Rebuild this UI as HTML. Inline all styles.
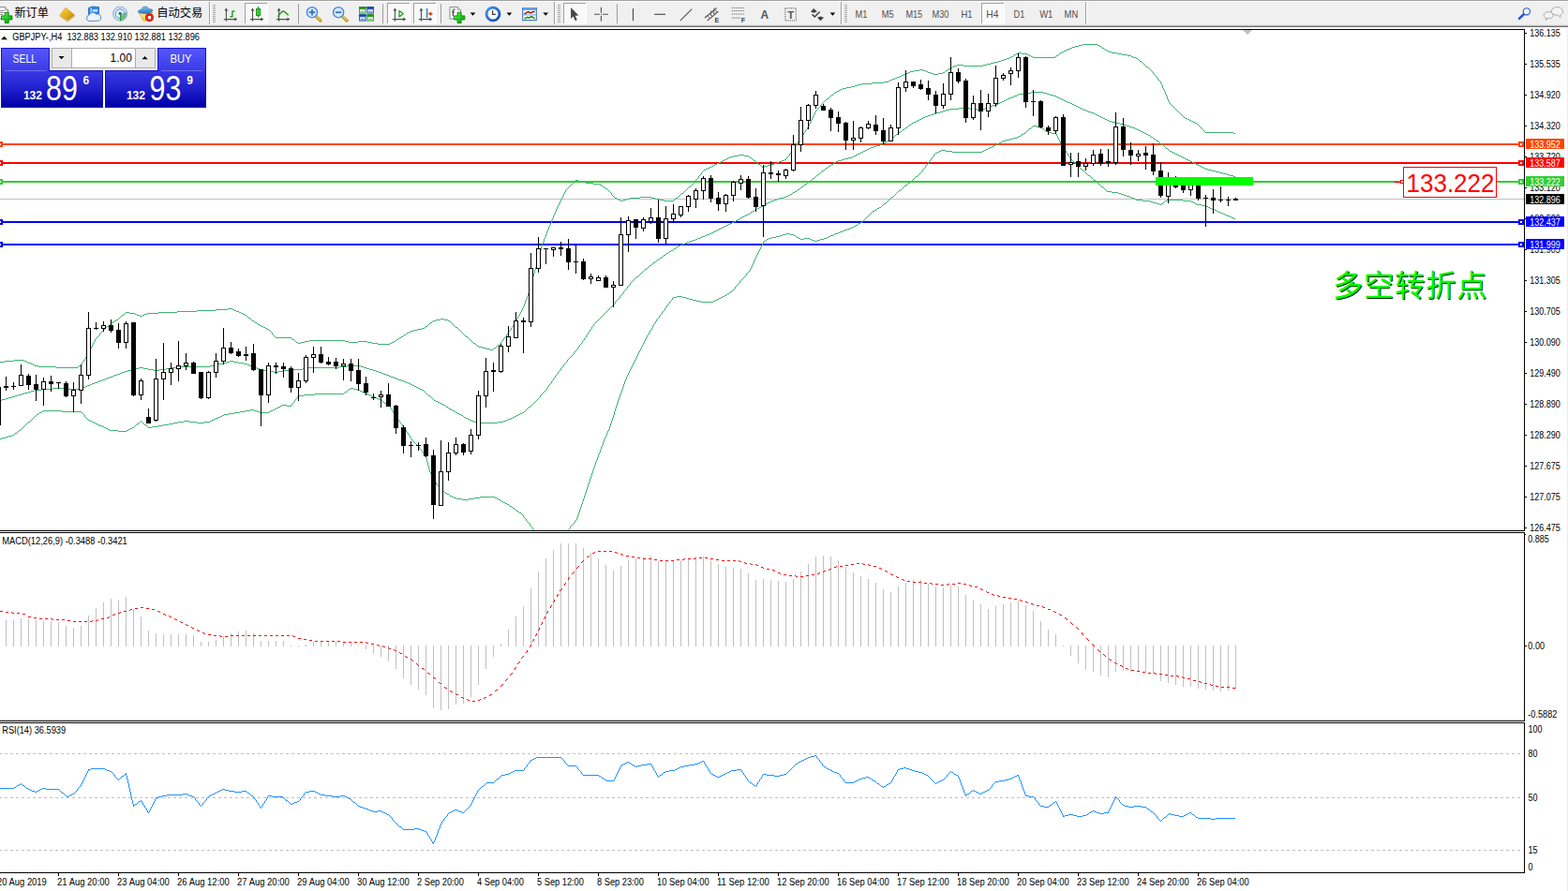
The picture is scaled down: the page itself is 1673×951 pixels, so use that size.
<!DOCTYPE html>
<html><head><meta charset="utf-8"><title>GBPJPY H4</title>
<style>
html,body{margin:0;padding:0;background:#fff;}
body{width:1673px;height:951px;overflow:hidden;position:relative;font-family:"Liberation Sans", sans-serif;}
svg{position:absolute;left:0;top:0;display:block;}
svg text{font-family:"Liberation Sans", sans-serif;white-space:pre;}
</style></head><body>
<svg width="1673" height="951" viewBox="0 0 1673 951">
<defs>
<linearGradient id="gSellTop" x1="0" y1="0" x2="0" y2="1"><stop offset="0" stop-color="#5656fb"/><stop offset="1" stop-color="#3a3ae6"/></linearGradient>
<linearGradient id="gSellBot" x1="0" y1="0" x2="0" y2="1"><stop offset="0" stop-color="#3838e4"/><stop offset="0.5" stop-color="#2020cc"/><stop offset="1" stop-color="#0000a8"/></linearGradient>
<linearGradient id="gGold" x1="0" y1="0" x2="1" y2="1"><stop offset="0" stop-color="#f8d848"/><stop offset="0.6" stop-color="#e0a818"/><stop offset="1" stop-color="#a87408"/></linearGradient>
<radialGradient id="gClock" cx="0.5" cy="0.4" r="0.6"><stop offset="0" stop-color="#ffffff"/><stop offset="1" stop-color="#dfe8f4"/></radialGradient>
<linearGradient id="gHat" x1="0" y1="0" x2="0" y2="1"><stop offset="0" stop-color="#7cc4f0"/><stop offset="1" stop-color="#2a78c0"/></linearGradient>
<linearGradient id="gFace" x1="0" y1="0" x2="1" y2="1"><stop offset="0" stop-color="#fff2a0"/><stop offset="1" stop-color="#e8b020"/></linearGradient>
<linearGradient id="gRing" x1="0" y1="0" x2="1" y2="1"><stop offset="0" stop-color="#4a98f0"/><stop offset="0.5" stop-color="#1f6ad8"/><stop offset="1" stop-color="#0a48a8"/></linearGradient>
<linearGradient id="gPlus" x1="0" y1="0" x2="1" y2="1"><stop offset="0" stop-color="#7cf07c"/><stop offset="0.5" stop-color="#22cc22"/><stop offset="1" stop-color="#0c9a0c"/></linearGradient>
</defs>
<rect x="0" y="0" width="1673" height="951" fill="#fff"/>

<g shape-rendering="crispEdges">
<rect x="1672" y="29" width="1" height="922" fill="#ececec" />
<rect x="0" y="212" width="1626" height="1" fill="#c0c0c0" />
<rect x="0" y="153" width="1626" height="2" fill="#ff4500" />
<rect x="0" y="173" width="1626" height="2" fill="#ff0000" />
<rect x="0" y="193" width="1626" height="2" fill="#32cd32" />
<rect x="0" y="236" width="1626" height="2" fill="#0000ff" />
<rect x="0" y="260" width="1626" height="2" fill="#0000ff" />
</g>
<clipPath id="cpMain"><rect x="0" y="32" width="1626" height="534"/></clipPath><g clip-path="url(#cpMain)">
<path d="M1155,47h16v1h-16zM1151,48h4v1h-4zM1171,48h2v1h-2zM1147,49h4v1h-4zM1173,49h2v1h-2zM1144,50h3v1h-3zM1175,50h1v1h-1zM1142,51h2v1h-2zM1176,51h2v1h-2zM1139,52h3v1h-3zM1178,52h1v1h-1zM1137,53h2v1h-2zM1179,53h2v1h-2zM1135,54h2v1h-2zM1181,54h2v1h-2zM1133,55h2v1h-2zM1183,55h3v1h-3zM1086,56h4v1h-4zM1131,56h2v1h-2zM1186,56h6v1h-6zM1084,57h2v1h-2zM1090,57h6v1h-6zM1130,57h1v1h-1zM1192,57h5v1h-5zM1082,58h2v1h-2zM1096,58h2v1h-2zM1129,58h1v1h-1zM1197,58h6v1h-6zM1081,59h1v1h-1zM1098,59h2v1h-2zM1127,59h2v1h-2zM1203,59h4v1h-4zM1079,60h2v1h-2zM1100,60h2v1h-2zM1126,60h1v1h-1zM1207,60h2v1h-2zM1077,61h2v1h-2zM1102,61h24v1h-24zM1209,61h3v1h-3zM1074,62h3v1h-3zM1212,62h2v1h-2zM1071,63h3v1h-3zM1214,63h1v1h-1zM1068,64h3v1h-3zM1215,64h1v1h-1zM1065,65h3v1h-3zM1216,65h2v1h-2zM1061,66h4v1h-4zM1218,66h1v1h-1zM1057,67h4v1h-4zM1219,67h1v1h-1zM1053,68h4v1h-4zM1220,68h1v1h-1zM1021,69h7v1h-7zM1049,69h4v1h-4zM1221,69h1v1h-1zM1018,70h3v1h-3zM1028,70h21v1h-21zM1222,70h1v1h-1zM1016,71h2v1h-2zM1223,71h2v1h-2zM1014,72h2v1h-2zM1225,72h1v1h-1zM1012,73h2v1h-2zM1226,73h1v1h-1zM981,74h4v1h-4zM1011,74h1v1h-1zM1227,74h1v1h-1zM975,75h6v1h-6zM985,75h3v1h-3zM1009,75h2v1h-2zM1228,75h1v1h-1zM971,76h4v1h-4zM988,76h2v1h-2zM1008,76h1v1h-1zM1229,76h1v1h-1zM969,77h2v1h-2zM990,77h3v1h-3zM1006,77h2v1h-2zM1230,77h1v1h-1zM967,78h2v1h-2zM993,78h3v1h-3zM1001,78h5v1h-5zM1230,78h1v1h-1zM964,79h3v1h-3zM996,79h5v1h-5zM1231,79h1v1h-1zM962,80h2v1h-2zM1232,80h1v1h-1zM960,81h2v1h-2zM1233,81h1v1h-1zM957,82h3v1h-3zM1234,82h1v1h-1zM955,83h2v1h-2zM1235,83h1v1h-1zM952,84h3v1h-3zM1235,84h1v1h-1zM950,85h2v1h-2zM1236,85h1v1h-1zM948,86h2v1h-2zM1237,86h1v1h-1zM943,87h5v1h-5zM1238,87h1v1h-1zM930,88h13v1h-13zM1238,88h1v1h-1zM919,89h11v1h-11zM1239,89h1v1h-1zM915,90h4v1h-4zM1239,90h1v1h-1zM912,91h3v1h-3zM1240,91h1v1h-1zM908,92h4v1h-4zM1240,92h1v1h-1zM903,93h5v1h-5zM1240,93h1v1h-1zM899,94h4v1h-4zM1241,94h1v1h-1zM897,95h2v1h-2zM1241,95h1v1h-1zM895,96h2v1h-2zM1242,96h1v1h-1zM893,97h2v1h-2zM1242,97h1v1h-1zM891,98h2v1h-2zM1243,98h1v1h-1zM890,99h1v1h-1zM1243,99h1v1h-1zM889,100h1v1h-1zM1243,100h1v1h-1zM887,101h2v1h-2zM1244,101h1v1h-1zM886,102h1v1h-1zM1244,102h1v1h-1zM885,103h1v1h-1zM1245,103h1v1h-1zM884,104h1v1h-1zM1245,104h1v1h-1zM882,105h2v1h-2zM1245,105h1v1h-1zM881,106h1v1h-1zM1246,106h1v1h-1zM880,107h1v1h-1zM1246,107h1v1h-1zM879,108h1v1h-1zM1247,108h1v1h-1zM878,109h1v1h-1zM1247,109h1v1h-1zM877,110h1v1h-1zM1248,110h1v1h-1zM876,111h1v1h-1zM1249,111h1v1h-1zM875,112h1v1h-1zM1250,112h1v1h-1zM875,113h1v1h-1zM1251,113h1v1h-1zM874,114h1v1h-1zM1252,114h1v1h-1zM873,115h1v1h-1zM1253,115h1v1h-1zM872,116h1v1h-1zM1254,116h1v1h-1zM871,117h1v1h-1zM1255,117h1v1h-1zM870,118h1v1h-1zM1256,118h1v1h-1zM870,119h1v1h-1zM1257,119h1v1h-1zM869,120h1v1h-1zM1258,120h1v1h-1zM869,121h1v1h-1zM1259,121h1v1h-1zM868,122h1v1h-1zM1260,122h1v1h-1zM868,123h1v1h-1zM1261,123h1v1h-1zM867,124h1v1h-1zM1262,124h1v1h-1zM867,125h1v1h-1zM1263,125h2v1h-2zM866,126h1v1h-1zM1265,126h2v1h-2zM866,127h1v1h-1zM1267,127h2v1h-2zM865,128h1v1h-1zM1269,128h2v1h-2zM865,129h1v1h-1zM1271,129h2v1h-2zM864,130h1v1h-1zM1273,130h2v1h-2zM864,131h1v1h-1zM1275,131h2v1h-2zM863,132h1v1h-1zM1277,132h1v1h-1zM863,133h1v1h-1zM1278,133h1v1h-1zM862,134h1v1h-1zM1279,134h1v1h-1zM862,135h1v1h-1zM1280,135h1v1h-1zM861,136h1v1h-1zM1281,136h1v1h-1zM861,137h1v1h-1zM1282,137h1v1h-1zM860,138h1v1h-1zM1283,138h1v1h-1zM859,139h1v1h-1zM1284,139h1v1h-1zM859,140h1v1h-1zM1285,140h1v1h-1zM858,141h1v1h-1zM1286,141h30v1h-30zM857,142h1v1h-1zM1316,142h2v1h-2zM857,143h1v1h-1zM856,144h1v1h-1zM855,145h1v1h-1zM855,146h1v1h-1zM854,147h1v1h-1zM853,148h1v1h-1zM853,149h1v1h-1zM852,150h1v1h-1zM851,151h1v1h-1zM851,152h1v1h-1zM850,153h1v1h-1zM849,154h1v1h-1zM849,155h1v1h-1zM848,156h1v1h-1zM847,157h1v1h-1zM847,158h1v1h-1zM846,159h1v1h-1zM845,160h1v1h-1zM845,161h1v1h-1zM844,162h1v1h-1zM843,163h1v1h-1zM842,164h1v1h-1zM788,165h6v1h-6zM842,165h1v1h-1zM783,166h5v1h-5zM794,166h5v1h-5zM841,166h1v1h-1zM779,167h4v1h-4zM799,167h1v1h-1zM840,167h1v1h-1zM777,168h2v1h-2zM800,168h2v1h-2zM839,168h1v1h-1zM775,169h2v1h-2zM802,169h1v1h-1zM839,169h1v1h-1zM773,170h2v1h-2zM803,170h1v1h-1zM837,170h2v1h-2zM771,171h2v1h-2zM804,171h2v1h-2zM834,171h3v1h-3zM769,172h2v1h-2zM806,172h1v1h-1zM831,172h3v1h-3zM767,173h2v1h-2zM807,173h1v1h-1zM829,173h2v1h-2zM765,174h2v1h-2zM808,174h1v1h-1zM826,174h3v1h-3zM763,175h2v1h-2zM809,175h2v1h-2zM823,175h3v1h-3zM761,176h2v1h-2zM811,176h1v1h-1zM819,176h4v1h-4zM759,177h2v1h-2zM812,177h1v1h-1zM815,177h4v1h-4zM757,178h2v1h-2zM813,178h2v1h-2zM755,179h2v1h-2zM753,180h2v1h-2zM751,181h2v1h-2zM750,182h1v1h-1zM749,183h1v1h-1zM748,184h1v1h-1zM748,185h1v1h-1zM747,186h1v1h-1zM746,187h1v1h-1zM745,188h1v1h-1zM745,189h1v1h-1zM744,190h1v1h-1zM743,191h1v1h-1zM614,192h3v1h-3zM742,192h1v1h-1zM613,193h1v1h-1zM617,193h4v1h-4zM742,193h1v1h-1zM612,194h1v1h-1zM621,194h4v1h-4zM741,194h1v1h-1zM611,195h1v1h-1zM625,195h8v1h-8zM740,195h1v1h-1zM610,196h1v1h-1zM633,196h7v1h-7zM739,196h1v1h-1zM609,197h1v1h-1zM640,197h2v1h-2zM738,197h1v1h-1zM608,198h1v1h-1zM642,198h1v1h-1zM737,198h1v1h-1zM607,199h1v1h-1zM643,199h2v1h-2zM735,199h2v1h-2zM606,200h1v1h-1zM645,200h1v1h-1zM734,200h1v1h-1zM605,201h1v1h-1zM646,201h2v1h-2zM733,201h1v1h-1zM604,202h1v1h-1zM648,202h1v1h-1zM732,202h1v1h-1zM603,203h1v1h-1zM649,203h1v1h-1zM731,203h1v1h-1zM603,204h1v1h-1zM650,204h1v1h-1zM730,204h1v1h-1zM602,205h1v1h-1zM651,205h1v1h-1zM729,205h1v1h-1zM602,206h1v1h-1zM652,206h1v1h-1zM727,206h2v1h-2zM601,207h1v1h-1zM652,207h1v1h-1zM726,207h1v1h-1zM601,208h1v1h-1zM653,208h1v1h-1zM725,208h1v1h-1zM600,209h1v1h-1zM654,209h1v1h-1zM724,209h1v1h-1zM600,210h1v1h-1zM655,210h1v1h-1zM683,210h12v1h-12zM723,210h1v1h-1zM599,211h1v1h-1zM656,211h2v1h-2zM672,211h11v1h-11zM695,211h4v1h-4zM721,211h2v1h-2zM599,212h1v1h-1zM658,212h2v1h-2zM668,212h4v1h-4zM699,212h5v1h-5zM720,212h1v1h-1zM598,213h1v1h-1zM660,213h2v1h-2zM665,213h3v1h-3zM704,213h4v1h-4zM719,213h1v1h-1zM598,214h1v1h-1zM662,214h3v1h-3zM708,214h11v1h-11zM597,215h1v1h-1zM597,216h1v1h-1zM596,217h1v1h-1zM596,218h1v1h-1zM595,219h1v1h-1zM595,220h1v1h-1zM594,221h1v1h-1zM594,222h1v1h-1zM593,223h1v1h-1zM593,224h1v1h-1zM593,225h1v1h-1zM592,226h1v1h-1zM592,227h1v1h-1zM591,228h1v1h-1zM591,229h1v1h-1zM590,230h1v1h-1zM590,231h1v1h-1zM590,232h1v1h-1zM589,233h1v1h-1zM589,234h1v1h-1zM588,235h1v1h-1zM588,236h1v1h-1zM588,237h1v1h-1zM587,238h1v1h-1zM587,239h1v1h-1zM586,240h1v1h-1zM586,241h1v1h-1zM585,242h1v1h-1zM585,243h1v1h-1zM585,244h1v1h-1zM584,245h1v1h-1zM584,246h1v1h-1zM583,247h1v1h-1zM583,248h1v1h-1zM583,249h1v1h-1zM582,250h1v1h-1zM582,251h1v1h-1zM582,252h1v1h-1zM581,253h1v1h-1zM581,254h1v1h-1zM580,255h1v1h-1zM580,256h1v1h-1zM580,257h1v1h-1zM579,258h1v1h-1zM579,259h1v1h-1zM578,260h1v1h-1zM578,261h1v1h-1zM578,262h1v1h-1zM577,263h1v1h-1zM577,264h1v1h-1zM577,265h1v1h-1zM577,266h1v1h-1zM576,267h1v1h-1zM576,268h1v1h-1zM576,269h1v1h-1zM575,270h1v1h-1zM575,271h1v1h-1zM575,272h1v1h-1zM575,273h1v1h-1zM574,274h1v1h-1zM574,275h1v1h-1zM574,276h1v1h-1zM574,277h1v1h-1zM573,278h1v1h-1zM573,279h1v1h-1zM573,280h1v1h-1zM572,281h1v1h-1zM572,282h1v1h-1zM572,283h1v1h-1zM572,284h1v1h-1zM571,285h1v1h-1zM571,286h1v1h-1zM571,287h1v1h-1zM570,288h1v1h-1zM570,289h1v1h-1zM570,290h1v1h-1zM570,291h1v1h-1zM569,292h1v1h-1zM569,293h1v1h-1zM569,294h1v1h-1zM568,295h1v1h-1zM568,296h1v1h-1zM568,297h1v1h-1zM568,298h1v1h-1zM567,299h1v1h-1zM567,300h1v1h-1zM567,301h1v1h-1zM566,302h1v1h-1zM566,303h1v1h-1zM566,304h1v1h-1zM566,305h1v1h-1zM565,306h1v1h-1zM565,307h1v1h-1zM565,308h1v1h-1zM564,309h1v1h-1zM564,310h1v1h-1zM564,311h1v1h-1zM564,312h1v1h-1zM563,313h1v1h-1zM563,314h1v1h-1zM563,315h1v1h-1zM562,316h1v1h-1zM562,317h1v1h-1zM562,318h1v1h-1zM561,319h1v1h-1zM561,320h1v1h-1zM560,321h1v1h-1zM560,322h1v1h-1zM560,323h1v1h-1zM559,324h1v1h-1zM559,325h1v1h-1zM559,326h1v1h-1zM558,327h1v1h-1zM558,328h1v1h-1zM243,329h5v1h-5zM557,329h1v1h-1zM230,330h13v1h-13zM248,330h2v1h-2zM557,330h1v1h-1zM210,331h20v1h-20zM250,331h2v1h-2zM556,331h1v1h-1zM189,332h21v1h-21zM252,332h3v1h-3zM556,332h1v1h-1zM134,333h4v1h-4zM169,333h20v1h-20zM255,333h2v1h-2zM555,333h1v1h-1zM133,334h1v1h-1zM138,334h6v1h-6zM157,334h12v1h-12zM257,334h2v1h-2zM555,334h1v1h-1zM132,335h1v1h-1zM144,335h2v1h-2zM154,335h3v1h-3zM259,335h2v1h-2zM554,335h1v1h-1zM130,336h2v1h-2zM146,336h3v1h-3zM152,336h2v1h-2zM261,336h2v1h-2zM554,336h1v1h-1zM129,337h1v1h-1zM149,337h3v1h-3zM263,337h1v1h-1zM553,337h1v1h-1zM128,338h1v1h-1zM264,338h1v1h-1zM552,338h1v1h-1zM127,339h1v1h-1zM265,339h2v1h-2zM552,339h1v1h-1zM126,340h1v1h-1zM267,340h1v1h-1zM470,340h4v1h-4zM551,340h1v1h-1zM124,341h2v1h-2zM268,341h1v1h-1zM465,341h5v1h-5zM474,341h4v1h-4zM551,341h1v1h-1zM122,342h2v1h-2zM269,342h2v1h-2zM462,342h3v1h-3zM478,342h2v1h-2zM550,342h1v1h-1zM121,343h1v1h-1zM271,343h1v1h-1zM461,343h1v1h-1zM480,343h1v1h-1zM549,343h1v1h-1zM119,344h2v1h-2zM272,344h2v1h-2zM459,344h2v1h-2zM481,344h1v1h-1zM549,344h1v1h-1zM118,345h1v1h-1zM274,345h1v1h-1zM458,345h1v1h-1zM482,345h1v1h-1zM548,345h1v1h-1zM117,346h1v1h-1zM275,346h2v1h-2zM457,346h1v1h-1zM483,346h1v1h-1zM548,346h1v1h-1zM116,347h1v1h-1zM277,347h2v1h-2zM456,347h1v1h-1zM484,347h1v1h-1zM547,347h1v1h-1zM114,348h2v1h-2zM279,348h2v1h-2zM454,348h2v1h-2zM485,348h1v1h-1zM547,348h1v1h-1zM113,349h1v1h-1zM281,349h2v1h-2zM453,349h1v1h-1zM486,349h2v1h-2zM546,349h1v1h-1zM112,350h1v1h-1zM283,350h2v1h-2zM450,350h3v1h-3zM488,350h1v1h-1zM545,350h1v1h-1zM111,351h1v1h-1zM285,351h2v1h-2zM445,351h5v1h-5zM489,351h1v1h-1zM545,351h1v1h-1zM110,352h1v1h-1zM287,352h1v1h-1zM441,352h4v1h-4zM490,352h1v1h-1zM544,352h1v1h-1zM109,353h1v1h-1zM288,353h1v1h-1zM438,353h3v1h-3zM491,353h1v1h-1zM543,353h1v1h-1zM108,354h1v1h-1zM289,354h1v1h-1zM436,354h2v1h-2zM492,354h1v1h-1zM542,354h1v1h-1zM107,355h1v1h-1zM290,355h1v1h-1zM434,355h2v1h-2zM493,355h1v1h-1zM542,355h1v1h-1zM106,356h1v1h-1zM290,356h1v1h-1zM433,356h1v1h-1zM494,356h1v1h-1zM541,356h1v1h-1zM106,357h1v1h-1zM291,357h1v1h-1zM431,357h2v1h-2zM495,357h1v1h-1zM540,357h1v1h-1zM105,358h1v1h-1zM292,358h1v1h-1zM430,358h1v1h-1zM496,358h1v1h-1zM540,358h1v1h-1zM104,359h1v1h-1zM293,359h1v1h-1zM428,359h2v1h-2zM497,359h2v1h-2zM539,359h1v1h-1zM103,360h1v1h-1zM294,360h17v1h-17zM426,360h2v1h-2zM499,360h1v1h-1zM538,360h1v1h-1zM102,361h1v1h-1zM311,361h1v1h-1zM425,361h1v1h-1zM500,361h1v1h-1zM537,361h1v1h-1zM101,362h1v1h-1zM312,362h2v1h-2zM423,362h2v1h-2zM501,362h1v1h-1zM537,362h1v1h-1zM101,363h1v1h-1zM314,363h1v1h-1zM330,363h38v1h-38zM422,363h1v1h-1zM502,363h1v1h-1zM536,363h1v1h-1zM100,364h1v1h-1zM315,364h1v1h-1zM325,364h5v1h-5zM368,364h4v1h-4zM382,364h10v1h-10zM420,364h2v1h-2zM503,364h1v1h-1zM535,364h1v1h-1zM100,365h1v1h-1zM316,365h2v1h-2zM321,365h4v1h-4zM372,365h10v1h-10zM392,365h5v1h-5zM418,365h2v1h-2zM504,365h1v1h-1zM534,365h1v1h-1zM99,366h1v1h-1zM318,366h3v1h-3zM397,366h6v1h-6zM416,366h2v1h-2zM505,366h2v1h-2zM534,366h1v1h-1zM99,367h1v1h-1zM403,367h13v1h-13zM507,367h1v1h-1zM533,367h1v1h-1zM98,368h1v1h-1zM508,368h1v1h-1zM531,368h2v1h-2zM98,369h1v1h-1zM509,369h2v1h-2zM530,369h1v1h-1zM97,370h1v1h-1zM511,370h4v1h-4zM529,370h1v1h-1zM97,371h1v1h-1zM515,371h4v1h-4zM527,371h2v1h-2zM96,372h1v1h-1zM519,372h4v1h-4zM526,372h1v1h-1zM96,373h1v1h-1zM523,373h3v1h-3zM95,374h1v1h-1zM95,375h1v1h-1zM94,376h1v1h-1zM94,377h1v1h-1zM93,378h1v1h-1zM93,379h1v1h-1zM92,380h1v1h-1zM91,381h1v1h-1zM91,382h1v1h-1zM90,383h1v1h-1zM15,384h11v1h-11zM89,384h1v1h-1zM5,385h10v1h-10zM26,385h2v1h-2zM89,385h1v1h-1zM0,386h5v1h-5zM28,386h2v1h-2zM88,386h1v1h-1zM30,387h3v1h-3zM87,387h1v1h-1zM33,388h2v1h-2zM87,388h1v1h-1zM35,389h2v1h-2zM86,389h1v1h-1zM37,390h4v1h-4zM84,390h2v1h-2zM41,391h19v1h-19zM83,391h1v1h-1zM60,392h23v1h-23z" fill="#3cb371" shape-rendering="crispEdges"/>
<path d="M1100,98h13v1h-13zM1092,99h8v1h-8zM1113,99h4v1h-4zM1087,100h5v1h-5zM1117,100h3v1h-3zM1085,101h2v1h-2zM1120,101h4v1h-4zM1082,102h3v1h-3zM1124,102h3v1h-3zM1080,103h2v1h-2zM1127,103h2v1h-2zM1077,104h3v1h-3zM1129,104h2v1h-2zM1075,105h2v1h-2zM1131,105h2v1h-2zM1073,106h2v1h-2zM1133,106h2v1h-2zM1071,107h2v1h-2zM1135,107h2v1h-2zM1069,108h2v1h-2zM1137,108h2v1h-2zM1067,109h2v1h-2zM1139,109h3v1h-3zM1065,110h2v1h-2zM1142,110h2v1h-2zM1062,111h3v1h-3zM1144,111h2v1h-2zM1059,112h3v1h-3zM1146,112h2v1h-2zM1057,113h2v1h-2zM1148,113h2v1h-2zM1054,114h3v1h-3zM1150,114h2v1h-2zM1023,115h12v1h-12zM1051,115h3v1h-3zM1152,115h2v1h-2zM1013,116h10v1h-10zM1035,116h8v1h-8zM1049,116h2v1h-2zM1154,116h2v1h-2zM1009,117h4v1h-4zM1043,117h6v1h-6zM1156,117h3v1h-3zM1006,118h3v1h-3zM1159,118h2v1h-2zM1003,119h3v1h-3zM1161,119h3v1h-3zM999,120h4v1h-4zM1164,120h3v1h-3zM996,121h3v1h-3zM1167,121h2v1h-2zM993,122h3v1h-3zM1169,122h2v1h-2zM990,123h3v1h-3zM1171,123h2v1h-2zM987,124h3v1h-3zM1173,124h2v1h-2zM985,125h2v1h-2zM1175,125h2v1h-2zM983,126h2v1h-2zM1177,126h2v1h-2zM981,127h2v1h-2zM1179,127h2v1h-2zM979,128h2v1h-2zM1181,128h2v1h-2zM977,129h2v1h-2zM1183,129h3v1h-3zM975,130h2v1h-2zM1186,130h4v1h-4zM973,131h2v1h-2zM1190,131h5v1h-5zM972,132h1v1h-1zM1195,132h4v1h-4zM970,133h2v1h-2zM1199,133h3v1h-3zM969,134h1v1h-1zM1202,134h3v1h-3zM968,135h1v1h-1zM1205,135h3v1h-3zM966,136h2v1h-2zM1208,136h3v1h-3zM965,137h1v1h-1zM1211,137h2v1h-2zM963,138h2v1h-2zM1213,138h2v1h-2zM962,139h1v1h-1zM1215,139h2v1h-2zM961,140h1v1h-1zM1217,140h2v1h-2zM959,141h2v1h-2zM1219,141h2v1h-2zM958,142h1v1h-1zM1221,142h2v1h-2zM956,143h2v1h-2zM1223,143h2v1h-2zM955,144h1v1h-1zM1225,144h2v1h-2zM954,145h1v1h-1zM1227,145h1v1h-1zM952,146h2v1h-2zM1228,146h2v1h-2zM951,147h1v1h-1zM1230,147h1v1h-1zM950,148h1v1h-1zM1231,148h2v1h-2zM948,149h2v1h-2zM1233,149h1v1h-1zM947,150h1v1h-1zM1234,150h2v1h-2zM945,151h2v1h-2zM1236,151h1v1h-1zM943,152h2v1h-2zM1237,152h1v1h-1zM941,153h2v1h-2zM1238,153h2v1h-2zM939,154h2v1h-2zM1240,154h1v1h-1zM935,155h4v1h-4zM1241,155h1v1h-1zM932,156h3v1h-3zM1242,156h1v1h-1zM929,157h3v1h-3zM1243,157h1v1h-1zM927,158h2v1h-2zM1244,158h2v1h-2zM925,159h2v1h-2zM1246,159h1v1h-1zM923,160h2v1h-2zM1247,160h1v1h-1zM921,161h2v1h-2zM1248,161h2v1h-2zM919,162h2v1h-2zM1250,162h2v1h-2zM917,163h2v1h-2zM1252,163h2v1h-2zM915,164h2v1h-2zM1254,164h2v1h-2zM913,165h2v1h-2zM1256,165h2v1h-2zM911,166h2v1h-2zM1258,166h2v1h-2zM909,167h2v1h-2zM1260,167h2v1h-2zM905,168h4v1h-4zM1262,168h2v1h-2zM901,169h4v1h-4zM1264,169h2v1h-2zM898,170h3v1h-3zM1266,170h2v1h-2zM894,171h4v1h-4zM1268,171h2v1h-2zM892,172h2v1h-2zM1270,172h2v1h-2zM890,173h2v1h-2zM1272,173h2v1h-2zM889,174h1v1h-1zM1274,174h2v1h-2zM887,175h2v1h-2zM1276,175h2v1h-2zM886,176h1v1h-1zM1278,176h2v1h-2zM884,177h2v1h-2zM1280,177h2v1h-2zM883,178h1v1h-1zM1282,178h2v1h-2zM881,179h2v1h-2zM1284,179h2v1h-2zM880,180h1v1h-1zM1286,180h3v1h-3zM879,181h1v1h-1zM1289,181h4v1h-4zM877,182h2v1h-2zM1293,182h4v1h-4zM876,183h1v1h-1zM1297,183h4v1h-4zM875,184h1v1h-1zM1301,184h4v1h-4zM874,185h1v1h-1zM1305,185h4v1h-4zM872,186h2v1h-2zM1309,186h3v1h-3zM871,187h1v1h-1zM1312,187h4v1h-4zM870,188h1v1h-1zM1316,188h2v1h-2zM869,189h1v1h-1zM867,190h2v1h-2zM866,191h1v1h-1zM865,192h1v1h-1zM864,193h1v1h-1zM862,194h2v1h-2zM861,195h1v1h-1zM860,196h1v1h-1zM858,197h2v1h-2zM857,198h1v1h-1zM855,199h2v1h-2zM854,200h1v1h-1zM853,201h1v1h-1zM851,202h2v1h-2zM850,203h1v1h-1zM848,204h2v1h-2zM846,205h2v1h-2zM845,206h1v1h-1zM843,207h2v1h-2zM841,208h2v1h-2zM839,209h2v1h-2zM836,210h3v1h-3zM832,211h4v1h-4zM829,212h3v1h-3zM826,213h3v1h-3zM823,214h3v1h-3zM821,215h2v1h-2zM819,216h2v1h-2zM817,217h2v1h-2zM815,218h2v1h-2zM814,219h1v1h-1zM812,220h2v1h-2zM810,221h2v1h-2zM808,222h2v1h-2zM807,223h1v1h-1zM805,224h2v1h-2zM803,225h2v1h-2zM801,226h2v1h-2zM800,227h1v1h-1zM798,228h2v1h-2zM796,229h2v1h-2zM794,230h2v1h-2zM792,231h2v1h-2zM790,232h2v1h-2zM789,233h1v1h-1zM787,234h2v1h-2zM785,235h2v1h-2zM783,236h2v1h-2zM781,237h2v1h-2zM779,238h2v1h-2zM777,239h2v1h-2zM775,240h2v1h-2zM773,241h2v1h-2zM771,242h2v1h-2zM769,243h2v1h-2zM767,244h2v1h-2zM765,245h2v1h-2zM763,246h2v1h-2zM761,247h2v1h-2zM759,248h2v1h-2zM757,249h2v1h-2zM754,250h3v1h-3zM752,251h2v1h-2zM749,252h3v1h-3zM747,253h2v1h-2zM744,254h3v1h-3zM742,255h2v1h-2zM739,256h3v1h-3zM736,257h3v1h-3zM733,258h3v1h-3zM731,259h2v1h-2zM728,260h3v1h-3zM726,261h2v1h-2zM724,262h2v1h-2zM722,263h2v1h-2zM721,264h1v1h-1zM719,265h2v1h-2zM718,266h1v1h-1zM716,267h2v1h-2zM714,268h2v1h-2zM713,269h1v1h-1zM711,270h2v1h-2zM710,271h1v1h-1zM708,272h2v1h-2zM707,273h1v1h-1zM706,274h1v1h-1zM704,275h2v1h-2zM703,276h1v1h-1zM701,277h2v1h-2zM700,278h1v1h-1zM699,279h1v1h-1zM697,280h2v1h-2zM696,281h1v1h-1zM695,282h1v1h-1zM693,283h2v1h-2zM692,284h1v1h-1zM691,285h1v1h-1zM690,286h1v1h-1zM688,287h2v1h-2zM687,288h1v1h-1zM686,289h1v1h-1zM685,290h1v1h-1zM684,291h1v1h-1zM683,292h1v1h-1zM682,293h1v1h-1zM681,294h1v1h-1zM679,295h2v1h-2zM678,296h1v1h-1zM677,297h1v1h-1zM676,298h1v1h-1zM675,299h1v1h-1zM674,300h1v1h-1zM673,301h1v1h-1zM672,302h1v1h-1zM672,303h1v1h-1zM671,304h1v1h-1zM670,305h1v1h-1zM669,306h1v1h-1zM669,307h1v1h-1zM668,308h1v1h-1zM667,309h1v1h-1zM666,310h1v1h-1zM665,311h1v1h-1zM665,312h1v1h-1zM664,313h1v1h-1zM663,314h1v1h-1zM662,315h1v1h-1zM661,316h1v1h-1zM661,317h1v1h-1zM660,318h1v1h-1zM659,319h1v1h-1zM658,320h1v1h-1zM657,321h1v1h-1zM656,322h1v1h-1zM656,323h1v1h-1zM655,324h1v1h-1zM654,325h1v1h-1zM653,326h1v1h-1zM652,327h1v1h-1zM651,328h1v1h-1zM650,329h1v1h-1zM649,330h1v1h-1zM648,331h1v1h-1zM647,332h1v1h-1zM646,333h1v1h-1zM645,334h1v1h-1zM644,335h1v1h-1zM643,336h1v1h-1zM642,337h1v1h-1zM641,338h1v1h-1zM640,339h1v1h-1zM639,340h1v1h-1zM638,341h1v1h-1zM637,342h1v1h-1zM636,343h1v1h-1zM635,344h1v1h-1zM634,345h1v1h-1zM633,346h1v1h-1zM633,347h1v1h-1zM632,348h1v1h-1zM631,349h1v1h-1zM631,350h1v1h-1zM630,351h1v1h-1zM629,352h1v1h-1zM629,353h1v1h-1zM628,354h1v1h-1zM627,355h1v1h-1zM627,356h1v1h-1zM626,357h1v1h-1zM625,358h1v1h-1zM625,359h1v1h-1zM624,360h1v1h-1zM623,361h1v1h-1zM623,362h1v1h-1zM622,363h1v1h-1zM621,364h1v1h-1zM621,365h1v1h-1zM620,366h1v1h-1zM619,367h1v1h-1zM618,368h1v1h-1zM618,369h1v1h-1zM617,370h1v1h-1zM616,371h1v1h-1zM616,372h1v1h-1zM615,373h1v1h-1zM614,374h1v1h-1zM613,375h1v1h-1zM612,376h1v1h-1zM612,377h1v1h-1zM611,378h1v1h-1zM610,379h1v1h-1zM609,380h1v1h-1zM608,381h1v1h-1zM607,382h1v1h-1zM606,383h1v1h-1zM605,384h1v1h-1zM245,385h4v1h-4zM605,385h1v1h-1zM242,386h3v1h-3zM249,386h5v1h-5zM604,386h1v1h-1zM238,387h4v1h-4zM254,387h6v1h-6zM603,387h1v1h-1zM233,388h5v1h-5zM260,388h4v1h-4zM602,388h1v1h-1zM228,389h5v1h-5zM264,389h2v1h-2zM601,389h1v1h-1zM224,390h4v1h-4zM266,390h3v1h-3zM370,390h15v1h-15zM601,390h1v1h-1zM188,391h36v1h-36zM269,391h3v1h-3zM362,391h8v1h-8zM385,391h3v1h-3zM600,391h1v1h-1zM148,392h5v1h-5zM182,392h6v1h-6zM272,392h2v1h-2zM329,392h33v1h-33zM388,392h3v1h-3zM599,392h1v1h-1zM144,393h4v1h-4zM153,393h5v1h-5zM177,393h5v1h-5zM274,393h3v1h-3zM323,393h6v1h-6zM391,393h3v1h-3zM598,393h1v1h-1zM140,394h4v1h-4zM158,394h6v1h-6zM170,394h7v1h-7zM277,394h4v1h-4zM308,394h15v1h-15zM394,394h4v1h-4zM598,394h1v1h-1zM136,395h4v1h-4zM164,395h6v1h-6zM281,395h5v1h-5zM302,395h6v1h-6zM398,395h3v1h-3zM597,395h1v1h-1zM133,396h3v1h-3zM286,396h6v1h-6zM297,396h5v1h-5zM401,396h3v1h-3zM596,396h1v1h-1zM130,397h3v1h-3zM292,397h5v1h-5zM404,397h3v1h-3zM595,397h1v1h-1zM128,398h2v1h-2zM407,398h2v1h-2zM595,398h1v1h-1zM125,399h3v1h-3zM409,399h3v1h-3zM594,399h1v1h-1zM122,400h3v1h-3zM412,400h3v1h-3zM593,400h1v1h-1zM120,401h2v1h-2zM415,401h2v1h-2zM592,401h1v1h-1zM117,402h3v1h-3zM417,402h3v1h-3zM592,402h1v1h-1zM114,403h3v1h-3zM420,403h3v1h-3zM591,403h1v1h-1zM112,404h2v1h-2zM423,404h2v1h-2zM590,404h1v1h-1zM109,405h3v1h-3zM425,405h3v1h-3zM590,405h1v1h-1zM106,406h3v1h-3zM428,406h3v1h-3zM589,406h1v1h-1zM104,407h2v1h-2zM431,407h2v1h-2zM588,407h1v1h-1zM101,408h3v1h-3zM433,408h3v1h-3zM588,408h1v1h-1zM98,409h3v1h-3zM436,409h2v1h-2zM587,409h1v1h-1zM96,410h2v1h-2zM438,410h2v1h-2zM586,410h1v1h-1zM93,411h3v1h-3zM440,411h2v1h-2zM585,411h1v1h-1zM91,412h2v1h-2zM442,412h2v1h-2zM585,412h1v1h-1zM89,413h2v1h-2zM444,413h2v1h-2zM584,413h1v1h-1zM56,414h14v1h-14zM87,414h2v1h-2zM446,414h2v1h-2zM583,414h1v1h-1zM44,415h12v1h-12zM70,415h17v1h-17zM448,415h2v1h-2zM583,415h1v1h-1zM37,416h7v1h-7zM450,416h2v1h-2zM582,416h1v1h-1zM33,417h4v1h-4zM452,417h1v1h-1zM581,417h1v1h-1zM30,418h3v1h-3zM453,418h1v1h-1zM580,418h1v1h-1zM26,419h4v1h-4zM454,419h1v1h-1zM579,419h1v1h-1zM23,420h3v1h-3zM455,420h1v1h-1zM578,420h1v1h-1zM19,421h4v1h-4zM456,421h1v1h-1zM577,421h1v1h-1zM16,422h3v1h-3zM457,422h2v1h-2zM576,422h1v1h-1zM13,423h3v1h-3zM459,423h1v1h-1zM576,423h1v1h-1zM9,424h4v1h-4zM460,424h1v1h-1zM575,424h1v1h-1zM6,425h3v1h-3zM461,425h1v1h-1zM574,425h1v1h-1zM2,426h4v1h-4zM462,426h1v1h-1zM573,426h1v1h-1zM0,427h2v1h-2zM463,427h2v1h-2zM572,427h1v1h-1zM465,428h2v1h-2zM571,428h1v1h-1zM467,429h2v1h-2zM570,429h1v1h-1zM469,430h2v1h-2zM569,430h1v1h-1zM471,431h2v1h-2zM568,431h1v1h-1zM473,432h2v1h-2zM567,432h1v1h-1zM475,433h1v1h-1zM566,433h1v1h-1zM476,434h2v1h-2zM564,434h2v1h-2zM478,435h1v1h-1zM563,435h1v1h-1zM479,436h2v1h-2zM562,436h1v1h-1zM481,437h2v1h-2zM561,437h1v1h-1zM483,438h2v1h-2zM560,438h1v1h-1zM485,439h1v1h-1zM559,439h1v1h-1zM486,440h2v1h-2zM557,440h2v1h-2zM488,441h2v1h-2zM555,441h2v1h-2zM490,442h2v1h-2zM553,442h2v1h-2zM492,443h2v1h-2zM551,443h2v1h-2zM494,444h1v1h-1zM549,444h2v1h-2zM495,445h2v1h-2zM547,445h2v1h-2zM497,446h2v1h-2zM545,446h2v1h-2zM499,447h2v1h-2zM542,447h3v1h-3zM501,448h2v1h-2zM540,448h2v1h-2zM503,449h3v1h-3zM537,449h3v1h-3zM506,450h5v1h-5zM531,450h6v1h-6zM511,451h20v1h-20z" fill="#3cb371" shape-rendering="crispEdges"/>
<path d="M374,414h3v1h-3zM372,415h2v1h-2zM377,415h4v1h-4zM371,416h1v1h-1zM381,416h3v1h-3zM370,417h1v1h-1zM384,417h2v1h-2zM368,418h2v1h-2zM386,418h2v1h-2zM367,419h1v1h-1zM388,419h2v1h-2zM336,420h31v1h-31zM390,420h3v1h-3zM324,421h12v1h-12zM393,421h2v1h-2zM318,422h6v1h-6zM395,422h2v1h-2zM317,423h1v1h-1zM397,423h3v1h-3zM317,424h1v1h-1zM400,424h2v1h-2zM316,425h1v1h-1zM402,425h2v1h-2zM315,426h1v1h-1zM404,426h2v1h-2zM314,427h1v1h-1zM406,427h2v1h-2zM314,428h1v1h-1zM408,428h1v1h-1zM313,429h1v1h-1zM409,429h1v1h-1zM312,430h1v1h-1zM410,430h2v1h-2zM311,431h1v1h-1zM412,431h1v1h-1zM301,432h5v1h-5zM311,432h1v1h-1zM413,432h2v1h-2zM299,433h2v1h-2zM306,433h5v1h-5zM415,433h1v1h-1zM297,434h2v1h-2zM416,434h1v1h-1zM295,435h2v1h-2zM416,435h1v1h-1zM293,436h2v1h-2zM417,436h1v1h-1zM267,437h4v1h-4zM291,437h2v1h-2zM418,437h1v1h-1zM46,438h20v1h-20zM261,438h6v1h-6zM271,438h3v1h-3zM289,438h2v1h-2zM418,438h1v1h-1zM44,439h2v1h-2zM66,439h21v1h-21zM256,439h5v1h-5zM274,439h3v1h-3zM287,439h2v1h-2zM419,439h1v1h-1zM42,440h2v1h-2zM87,440h1v1h-1zM250,440h6v1h-6zM277,440h10v1h-10zM419,440h1v1h-1zM41,441h1v1h-1zM88,441h1v1h-1zM244,441h6v1h-6zM420,441h1v1h-1zM39,442h2v1h-2zM89,442h1v1h-1zM239,442h5v1h-5zM421,442h1v1h-1zM38,443h1v1h-1zM90,443h1v1h-1zM237,443h2v1h-2zM421,443h1v1h-1zM37,444h1v1h-1zM90,444h1v1h-1zM235,444h2v1h-2zM422,444h1v1h-1zM36,445h1v1h-1zM91,445h1v1h-1zM233,445h2v1h-2zM423,445h1v1h-1zM35,446h1v1h-1zM92,446h1v1h-1zM230,446h3v1h-3zM423,446h1v1h-1zM34,447h1v1h-1zM93,447h1v1h-1zM228,447h2v1h-2zM424,447h1v1h-1zM33,448h1v1h-1zM94,448h2v1h-2zM226,448h2v1h-2zM425,448h1v1h-1zM32,449h1v1h-1zM96,449h2v1h-2zM150,449h1v1h-1zM196,449h6v1h-6zM224,449h2v1h-2zM426,449h1v1h-1zM30,450h2v1h-2zM98,450h2v1h-2zM149,450h1v1h-1zM151,450h1v1h-1zM190,450h6v1h-6zM202,450h8v1h-8zM218,450h6v1h-6zM426,450h1v1h-1zM29,451h1v1h-1zM100,451h2v1h-2zM148,451h1v1h-1zM152,451h1v1h-1zM185,451h5v1h-5zM210,451h8v1h-8zM427,451h1v1h-1zM28,452h1v1h-1zM102,452h2v1h-2zM146,452h2v1h-2zM153,452h1v1h-1zM180,452h5v1h-5zM428,452h1v1h-1zM27,453h1v1h-1zM104,453h2v1h-2zM145,453h1v1h-1zM154,453h2v1h-2zM174,453h6v1h-6zM429,453h1v1h-1zM26,454h1v1h-1zM106,454h3v1h-3zM144,454h1v1h-1zM156,454h1v1h-1zM169,454h5v1h-5zM429,454h1v1h-1zM25,455h1v1h-1zM109,455h2v1h-2zM143,455h1v1h-1zM157,455h1v1h-1zM162,455h7v1h-7zM430,455h1v1h-1zM24,456h1v1h-1zM111,456h2v1h-2zM141,456h2v1h-2zM158,456h4v1h-4zM431,456h1v1h-1zM23,457h1v1h-1zM113,457h2v1h-2zM139,457h2v1h-2zM431,457h1v1h-1zM22,458h1v1h-1zM115,458h2v1h-2zM137,458h2v1h-2zM432,458h1v1h-1zM20,459h2v1h-2zM117,459h9v1h-9zM135,459h2v1h-2zM433,459h1v1h-1zM19,460h1v1h-1zM126,460h9v1h-9zM433,460h1v1h-1zM18,461h1v1h-1zM434,461h1v1h-1zM16,462h2v1h-2zM435,462h1v1h-1zM15,463h1v1h-1zM435,463h1v1h-1zM13,464h2v1h-2zM436,464h1v1h-1zM9,465h4v1h-4zM437,465h1v1h-1zM6,466h3v1h-3zM437,466h1v1h-1zM2,467h4v1h-4zM438,467h1v1h-1zM0,468h2v1h-2zM439,468h1v1h-1zM439,469h1v1h-1zM440,470h1v1h-1zM441,471h1v1h-1zM442,472h1v1h-1zM443,473h1v1h-1zM444,474h1v1h-1zM445,475h1v1h-1zM446,476h1v1h-1zM447,477h1v1h-1zM447,478h1v1h-1zM448,479h1v1h-1zM449,480h1v1h-1zM450,481h1v1h-1zM450,482h1v1h-1zM451,483h1v1h-1zM452,484h1v1h-1zM453,485h1v1h-1zM453,486h1v1h-1zM454,487h1v1h-1zM454,488h1v1h-1zM455,489h1v1h-1zM455,490h1v1h-1zM455,491h1v1h-1zM455,492h1v1h-1zM456,493h1v1h-1zM456,494h1v1h-1zM456,495h1v1h-1zM456,496h1v1h-1zM457,497h1v1h-1zM457,498h1v1h-1zM457,499h1v1h-1zM457,500h1v1h-1zM458,501h1v1h-1zM458,502h1v1h-1zM458,503h1v1h-1zM459,504h1v1h-1zM459,505h1v1h-1zM460,506h1v1h-1zM460,507h1v1h-1zM461,508h1v1h-1zM461,509h1v1h-1zM462,510h1v1h-1zM463,511h1v1h-1zM463,512h1v1h-1zM464,513h1v1h-1zM464,514h1v1h-1zM465,515h1v1h-1zM465,516h1v1h-1zM466,517h1v1h-1zM467,518h1v1h-1zM468,519h1v1h-1zM469,520h1v1h-1zM470,521h1v1h-1zM471,522h1v1h-1zM472,523h1v1h-1zM473,524h1v1h-1zM474,525h1v1h-1zM475,526h2v1h-2zM477,527h2v1h-2zM479,528h1v1h-1zM480,529h2v1h-2zM482,530h2v1h-2zM512,530h16v1h-16zM484,531h3v1h-3zM506,531h6v1h-6zM528,531h2v1h-2zM487,532h6v1h-6zM500,532h6v1h-6zM530,532h2v1h-2zM493,533h7v1h-7zM532,533h2v1h-2zM534,534h1v1h-1zM535,535h2v1h-2zM537,536h2v1h-2zM539,537h2v1h-2zM541,538h2v1h-2zM543,539h1v1h-1zM544,540h2v1h-2zM546,541h1v1h-1zM547,542h2v1h-2zM549,543h1v1h-1zM550,544h1v1h-1zM551,545h2v1h-2zM553,546h1v1h-1zM554,547h2v1h-2zM556,548h1v1h-1zM557,549h1v1h-1zM558,550h1v1h-1zM558,551h1v1h-1zM559,552h1v1h-1zM560,553h1v1h-1zM561,554h1v1h-1zM561,555h1v1h-1zM562,556h1v1h-1zM563,557h1v1h-1zM564,558h1v1h-1zM565,559h1v1h-1zM565,560h1v1h-1zM566,561h1v1h-1zM567,562h1v1h-1zM568,563h1v1h-1zM568,564h1v1h-1zM569,565h1v1h-1z" fill="#3cb371" shape-rendering="crispEdges"/>
<path d="M1102,134h4v1h-4zM1101,135h1v1h-1zM1106,135h5v1h-5zM1100,136h1v1h-1zM1111,136h1v1h-1zM1098,137h2v1h-2zM1112,137h2v1h-2zM1097,138h1v1h-1zM1114,138h1v1h-1zM1096,139h1v1h-1zM1115,139h1v1h-1zM1095,140h1v1h-1zM1116,140h2v1h-2zM1094,141h1v1h-1zM1118,141h4v1h-4zM1092,142h2v1h-2zM1122,142h5v1h-5zM1090,143h2v1h-2zM1127,143h1v1h-1zM1089,144h1v1h-1zM1127,144h1v1h-1zM1087,145h2v1h-2zM1128,145h1v1h-1zM1085,146h2v1h-2zM1128,146h1v1h-1zM1081,147h4v1h-4zM1129,147h1v1h-1zM1077,148h4v1h-4zM1129,148h1v1h-1zM1073,149h4v1h-4zM1130,149h1v1h-1zM1070,150h3v1h-3zM1130,150h1v1h-1zM1068,151h2v1h-2zM1131,151h1v1h-1zM1066,152h2v1h-2zM1131,152h1v1h-1zM1064,153h2v1h-2zM1132,153h1v1h-1zM1062,154h2v1h-2zM1132,154h1v1h-1zM1060,155h2v1h-2zM1133,155h1v1h-1zM1058,156h2v1h-2zM1133,156h1v1h-1zM1056,157h2v1h-2zM1134,157h1v1h-1zM1054,158h2v1h-2zM1135,158h1v1h-1zM1052,159h2v1h-2zM1135,159h1v1h-1zM1004,160h5v1h-5zM1050,160h2v1h-2zM1136,160h1v1h-1zM1002,161h2v1h-2zM1009,161h7v1h-7zM1048,161h2v1h-2zM1137,161h1v1h-1zM1000,162h2v1h-2zM1016,162h32v1h-32zM1137,162h1v1h-1zM998,163h2v1h-2zM1138,163h1v1h-1zM997,164h1v1h-1zM1139,164h1v1h-1zM996,165h1v1h-1zM1139,165h1v1h-1zM996,166h1v1h-1zM1140,166h1v1h-1zM995,167h1v1h-1zM1141,167h1v1h-1zM994,168h1v1h-1zM1141,168h1v1h-1zM993,169h1v1h-1zM1142,169h1v1h-1zM993,170h1v1h-1zM1143,170h1v1h-1zM992,171h1v1h-1zM1144,171h1v1h-1zM991,172h1v1h-1zM1145,172h1v1h-1zM990,173h1v1h-1zM1146,173h1v1h-1zM990,174h1v1h-1zM1147,174h1v1h-1zM989,175h1v1h-1zM1148,175h1v1h-1zM988,176h1v1h-1zM1149,176h1v1h-1zM987,177h1v1h-1zM1150,177h1v1h-1zM987,178h1v1h-1zM1151,178h1v1h-1zM986,179h1v1h-1zM1152,179h1v1h-1zM985,180h1v1h-1zM1153,180h1v1h-1zM984,181h1v1h-1zM1154,181h2v1h-2zM984,182h1v1h-1zM1156,182h1v1h-1zM983,183h1v1h-1zM1157,183h1v1h-1zM982,184h1v1h-1zM1158,184h1v1h-1zM981,185h1v1h-1zM1159,185h1v1h-1zM980,186h1v1h-1zM1160,186h1v1h-1zM979,187h1v1h-1zM1161,187h2v1h-2zM977,188h2v1h-2zM1163,188h1v1h-1zM976,189h1v1h-1zM1164,189h1v1h-1zM975,190h1v1h-1zM1165,190h1v1h-1zM974,191h1v1h-1zM1166,191h1v1h-1zM973,192h1v1h-1zM1167,192h2v1h-2zM972,193h1v1h-1zM1169,193h1v1h-1zM971,194h1v1h-1zM1170,194h1v1h-1zM969,195h2v1h-2zM1171,195h1v1h-1zM968,196h1v1h-1zM1172,196h1v1h-1zM967,197h1v1h-1zM1173,197h1v1h-1zM965,198h2v1h-2zM1174,198h1v1h-1zM964,199h1v1h-1zM1175,199h2v1h-2zM963,200h1v1h-1zM1177,200h1v1h-1zM962,201h1v1h-1zM1178,201h1v1h-1zM961,202h1v1h-1zM1179,202h1v1h-1zM959,203h2v1h-2zM1180,203h1v1h-1zM958,204h1v1h-1zM1181,204h5v1h-5zM957,205h1v1h-1zM1186,205h7v1h-7zM956,206h1v1h-1zM1193,206h3v1h-3zM955,207h1v1h-1zM1196,207h3v1h-3zM954,208h1v1h-1zM1199,208h3v1h-3zM953,209h1v1h-1zM1202,209h3v1h-3zM951,210h2v1h-2zM1205,210h2v1h-2zM950,211h1v1h-1zM1207,211h3v1h-3zM949,212h1v1h-1zM1210,212h2v1h-2zM948,213h1v1h-1zM1212,213h7v1h-7zM1245,213h17v1h-17zM947,214h1v1h-1zM1219,214h8v1h-8zM1243,214h2v1h-2zM1262,214h9v1h-9zM946,215h1v1h-1zM1227,215h3v1h-3zM1242,215h1v1h-1zM1271,215h2v1h-2zM945,216h1v1h-1zM1230,216h4v1h-4zM1241,216h1v1h-1zM1273,216h2v1h-2zM943,217h2v1h-2zM1234,217h3v1h-3zM1239,217h2v1h-2zM1275,217h2v1h-2zM942,218h1v1h-1zM1237,218h2v1h-2zM1277,218h5v1h-5zM941,219h1v1h-1zM1282,219h5v1h-5zM940,220h1v1h-1zM1287,220h2v1h-2zM938,221h2v1h-2zM1289,221h2v1h-2zM936,222h2v1h-2zM1291,222h2v1h-2zM935,223h1v1h-1zM1293,223h3v1h-3zM933,224h2v1h-2zM1296,224h2v1h-2zM931,225h2v1h-2zM1298,225h2v1h-2zM930,226h1v1h-1zM1300,226h2v1h-2zM929,227h1v1h-1zM1302,227h3v1h-3zM928,228h1v1h-1zM1305,228h2v1h-2zM927,229h1v1h-1zM1307,229h2v1h-2zM926,230h1v1h-1zM1309,230h3v1h-3zM925,231h1v1h-1zM1312,231h2v1h-2zM924,232h1v1h-1zM1314,232h2v1h-2zM923,233h1v1h-1zM1316,233h2v1h-2zM922,234h1v1h-1zM921,235h1v1h-1zM920,236h1v1h-1zM918,237h2v1h-2zM916,238h2v1h-2zM915,239h1v1h-1zM913,240h2v1h-2zM911,241h2v1h-2zM909,242h2v1h-2zM907,243h2v1h-2zM904,244h3v1h-3zM901,245h3v1h-3zM899,246h2v1h-2zM896,247h3v1h-3zM894,248h2v1h-2zM839,249h4v1h-4zM891,249h3v1h-3zM835,250h4v1h-4zM843,250h4v1h-4zM889,250h2v1h-2zM832,251h3v1h-3zM847,251h2v1h-2zM886,251h3v1h-3zM828,252h4v1h-4zM849,252h1v1h-1zM884,252h2v1h-2zM823,253h5v1h-5zM850,253h2v1h-2zM882,253h2v1h-2zM820,254h3v1h-3zM852,254h2v1h-2zM858,254h6v1h-6zM879,254h3v1h-3zM818,255h2v1h-2zM854,255h4v1h-4zM864,255h2v1h-2zM875,255h4v1h-4zM817,256h1v1h-1zM866,256h3v1h-3zM872,256h3v1h-3zM815,257h2v1h-2zM869,257h3v1h-3zM814,258h1v1h-1zM814,259h1v1h-1zM813,260h1v1h-1zM813,261h1v1h-1zM812,262h1v1h-1zM812,263h1v1h-1zM811,264h1v1h-1zM811,265h1v1h-1zM810,266h1v1h-1zM810,267h1v1h-1zM809,268h1v1h-1zM809,269h1v1h-1zM808,270h1v1h-1zM808,271h1v1h-1zM807,272h1v1h-1zM807,273h1v1h-1zM806,274h1v1h-1zM806,275h1v1h-1zM805,276h1v1h-1zM805,277h1v1h-1zM804,278h1v1h-1zM804,279h1v1h-1zM804,280h1v1h-1zM803,281h1v1h-1zM803,282h1v1h-1zM802,283h1v1h-1zM802,284h1v1h-1zM801,285h1v1h-1zM801,286h1v1h-1zM800,287h1v1h-1zM800,288h1v1h-1zM799,289h1v1h-1zM798,290h1v1h-1zM797,291h1v1h-1zM796,292h1v1h-1zM796,293h1v1h-1zM795,294h1v1h-1zM794,295h1v1h-1zM793,296h1v1h-1zM792,297h1v1h-1zM791,298h1v1h-1zM790,299h1v1h-1zM789,300h1v1h-1zM789,301h1v1h-1zM788,302h1v1h-1zM787,303h1v1h-1zM786,304h1v1h-1zM785,305h1v1h-1zM784,306h1v1h-1zM784,307h1v1h-1zM783,308h1v1h-1zM782,309h1v1h-1zM781,310h1v1h-1zM779,311h2v1h-2zM778,312h1v1h-1zM776,313h2v1h-2zM775,314h1v1h-1zM773,315h2v1h-2zM722,316h6v1h-6zM771,316h2v1h-2zM718,317h4v1h-4zM728,317h4v1h-4zM769,317h2v1h-2zM717,318h1v1h-1zM732,318h3v1h-3zM767,318h2v1h-2zM717,319h1v1h-1zM735,319h4v1h-4zM765,319h2v1h-2zM716,320h1v1h-1zM739,320h4v1h-4zM763,320h2v1h-2zM715,321h1v1h-1zM743,321h5v1h-5zM761,321h2v1h-2zM714,322h1v1h-1zM748,322h13v1h-13zM714,323h1v1h-1zM713,324h1v1h-1zM712,325h1v1h-1zM711,326h1v1h-1zM711,327h1v1h-1zM710,328h1v1h-1zM709,329h1v1h-1zM709,330h1v1h-1zM708,331h1v1h-1zM707,332h1v1h-1zM706,333h1v1h-1zM706,334h1v1h-1zM705,335h1v1h-1zM704,336h1v1h-1zM703,337h1v1h-1zM703,338h1v1h-1zM702,339h1v1h-1zM701,340h1v1h-1zM700,341h1v1h-1zM700,342h1v1h-1zM699,343h1v1h-1zM699,344h1v1h-1zM698,345h1v1h-1zM697,346h1v1h-1zM697,347h1v1h-1zM696,348h1v1h-1zM696,349h1v1h-1zM695,350h1v1h-1zM695,351h1v1h-1zM694,352h1v1h-1zM693,353h1v1h-1zM693,354h1v1h-1zM692,355h1v1h-1zM692,356h1v1h-1zM691,357h1v1h-1zM690,358h1v1h-1zM690,359h1v1h-1zM689,360h1v1h-1zM689,361h1v1h-1zM688,362h1v1h-1zM688,363h1v1h-1zM687,364h1v1h-1zM687,365h1v1h-1zM686,366h1v1h-1zM686,367h1v1h-1zM685,368h1v1h-1zM685,369h1v1h-1zM684,370h1v1h-1zM684,371h1v1h-1zM683,372h1v1h-1zM683,373h1v1h-1zM682,374h1v1h-1zM682,375h1v1h-1zM681,376h1v1h-1zM681,377h1v1h-1zM680,378h1v1h-1zM680,379h1v1h-1zM679,380h1v1h-1zM679,381h1v1h-1zM678,382h1v1h-1zM678,383h1v1h-1zM677,384h1v1h-1zM677,385h1v1h-1zM676,386h1v1h-1zM676,387h1v1h-1zM675,388h1v1h-1zM675,389h1v1h-1zM674,390h1v1h-1zM674,391h1v1h-1zM673,392h1v1h-1zM673,393h1v1h-1zM672,394h1v1h-1zM672,395h1v1h-1zM671,396h1v1h-1zM671,397h1v1h-1zM670,398h1v1h-1zM670,399h1v1h-1zM669,400h1v1h-1zM669,401h1v1h-1zM668,402h1v1h-1zM668,403h1v1h-1zM668,404h1v1h-1zM667,405h1v1h-1zM667,406h1v1h-1zM666,407h1v1h-1zM666,408h1v1h-1zM666,409h1v1h-1zM665,410h1v1h-1zM665,411h1v1h-1zM665,412h1v1h-1zM664,413h1v1h-1zM664,414h1v1h-1zM664,415h1v1h-1zM663,416h1v1h-1zM663,417h1v1h-1zM663,418h1v1h-1zM662,419h1v1h-1zM662,420h1v1h-1zM661,421h1v1h-1zM661,422h1v1h-1zM661,423h1v1h-1zM660,424h1v1h-1zM660,425h1v1h-1zM660,426h1v1h-1zM659,427h1v1h-1zM659,428h1v1h-1zM659,429h1v1h-1zM658,430h1v1h-1zM658,431h1v1h-1zM658,432h1v1h-1zM657,433h1v1h-1zM657,434h1v1h-1zM657,435h1v1h-1zM656,436h1v1h-1zM656,437h1v1h-1zM656,438h1v1h-1zM655,439h1v1h-1zM655,440h1v1h-1zM655,441h1v1h-1zM655,442h1v1h-1zM654,443h1v1h-1zM654,444h1v1h-1zM654,445h1v1h-1zM653,446h1v1h-1zM653,447h1v1h-1zM653,448h1v1h-1zM652,449h1v1h-1zM652,450h1v1h-1zM652,451h1v1h-1zM651,452h1v1h-1zM651,453h1v1h-1zM651,454h1v1h-1zM650,455h1v1h-1zM650,456h1v1h-1zM650,457h1v1h-1zM649,458h1v1h-1zM649,459h1v1h-1zM648,460h1v1h-1zM648,461h1v1h-1zM647,462h1v1h-1zM647,463h1v1h-1zM647,464h1v1h-1zM646,465h1v1h-1zM646,466h1v1h-1zM645,467h1v1h-1zM645,468h1v1h-1zM644,469h1v1h-1zM644,470h1v1h-1zM644,471h1v1h-1zM643,472h1v1h-1zM643,473h1v1h-1zM643,474h1v1h-1zM642,475h1v1h-1zM642,476h1v1h-1zM641,477h1v1h-1zM641,478h1v1h-1zM641,479h1v1h-1zM640,480h1v1h-1zM640,481h1v1h-1zM640,482h1v1h-1zM639,483h1v1h-1zM639,484h1v1h-1zM638,485h1v1h-1zM638,486h1v1h-1zM638,487h1v1h-1zM637,488h1v1h-1zM637,489h1v1h-1zM637,490h1v1h-1zM636,491h1v1h-1zM636,492h1v1h-1zM635,493h1v1h-1zM635,494h1v1h-1zM635,495h1v1h-1zM634,496h1v1h-1zM634,497h1v1h-1zM634,498h1v1h-1zM633,499h1v1h-1zM633,500h1v1h-1zM633,501h1v1h-1zM632,502h1v1h-1zM632,503h1v1h-1zM632,504h1v1h-1zM631,505h1v1h-1zM631,506h1v1h-1zM631,507h1v1h-1zM630,508h1v1h-1zM630,509h1v1h-1zM630,510h1v1h-1zM629,511h1v1h-1zM629,512h1v1h-1zM629,513h1v1h-1zM628,514h1v1h-1zM628,515h1v1h-1zM628,516h1v1h-1zM627,517h1v1h-1zM627,518h1v1h-1zM627,519h1v1h-1zM626,520h1v1h-1zM626,521h1v1h-1zM626,522h1v1h-1zM625,523h1v1h-1zM625,524h1v1h-1zM625,525h1v1h-1zM624,526h1v1h-1zM624,527h1v1h-1zM624,528h1v1h-1zM623,529h1v1h-1zM623,530h1v1h-1zM623,531h1v1h-1zM622,532h1v1h-1zM622,533h1v1h-1zM622,534h1v1h-1zM621,535h1v1h-1zM621,536h1v1h-1zM621,537h1v1h-1zM620,538h1v1h-1zM620,539h1v1h-1zM620,540h1v1h-1zM619,541h1v1h-1zM619,542h1v1h-1zM619,543h1v1h-1zM618,544h1v1h-1zM618,545h1v1h-1zM618,546h1v1h-1zM617,547h1v1h-1zM617,548h1v1h-1zM617,549h1v1h-1zM616,550h1v1h-1zM616,551h1v1h-1zM616,552h1v1h-1zM615,553h1v1h-1zM615,554h1v1h-1zM614,555h1v1h-1zM613,556h1v1h-1zM613,557h1v1h-1zM612,558h1v1h-1zM611,559h1v1h-1zM610,560h1v1h-1zM609,561h1v1h-1zM608,562h1v1h-1zM608,563h1v1h-1zM607,564h1v1h-1zM606,565h1v1h-1z" fill="#3cb371" shape-rendering="crispEdges"/>
</g>
<g shape-rendering="crispEdges">
<rect x="-2" y="413" width="1" height="41" fill="#000" />
<rect x="-4" y="413" width="5" height="41" fill="#000" />
<rect x="6" y="402" width="1" height="15" fill="#000" />
<rect x="4" y="412" width="5" height="2" fill="#000" />
<rect x="14" y="408" width="1" height="8" fill="#000" />
<rect x="12" y="412" width="5" height="1" fill="#000" />
<rect x="22" y="389" width="1" height="23" fill="#000" />
<rect x="20" y="400" width="5" height="12" fill="#000" />
<rect x="21" y="401" width="3" height="10" fill="#fff" />
<rect x="30" y="399" width="1" height="17" fill="#000" />
<rect x="28" y="401" width="5" height="10" fill="#000" />
<rect x="38" y="400" width="1" height="28" fill="#000" />
<rect x="36" y="410" width="5" height="6" fill="#000" />
<rect x="46" y="403" width="1" height="30" fill="#000" />
<rect x="44" y="407" width="5" height="9" fill="#000" />
<rect x="45" y="408" width="3" height="7" fill="#fff" />
<rect x="54" y="401" width="1" height="17" fill="#000" />
<rect x="52" y="407" width="5" height="3" fill="#000" />
<rect x="62" y="408" width="1" height="7" fill="#000" />
<rect x="60" y="408" width="5" height="1" fill="#000" />
<rect x="70" y="407" width="1" height="17" fill="#000" />
<rect x="68" y="409" width="5" height="14" fill="#000" />
<rect x="78" y="408" width="1" height="32" fill="#000" />
<rect x="76" y="416" width="5" height="7" fill="#000" />
<rect x="77" y="417" width="3" height="5" fill="#fff" />
<rect x="86" y="389" width="1" height="42" fill="#000" />
<rect x="84" y="400" width="5" height="17" fill="#000" />
<rect x="85" y="401" width="3" height="15" fill="#fff" />
<rect x="94" y="333" width="1" height="72" fill="#000" />
<rect x="92" y="350" width="5" height="51" fill="#000" />
<rect x="93" y="351" width="3" height="49" fill="#fff" />
<rect x="102" y="344" width="1" height="8" fill="#000" />
<rect x="100" y="350" width="5" height="1" fill="#000" />
<rect x="110" y="343" width="1" height="11" fill="#000" />
<rect x="108" y="347" width="5" height="4" fill="#000" />
<rect x="109" y="348" width="3" height="2" fill="#fff" />
<rect x="118" y="341" width="1" height="14" fill="#000" />
<rect x="116" y="347" width="5" height="6" fill="#000" />
<rect x="126" y="345" width="1" height="27" fill="#000" />
<rect x="124" y="352" width="5" height="14" fill="#000" />
<rect x="134" y="343" width="1" height="29" fill="#000" />
<rect x="132" y="345" width="5" height="21" fill="#000" />
<rect x="133" y="346" width="3" height="19" fill="#fff" />
<rect x="142" y="344" width="1" height="79" fill="#000" />
<rect x="140" y="344" width="5" height="78" fill="#000" />
<rect x="150" y="404" width="1" height="23" fill="#000" />
<rect x="148" y="406" width="5" height="16" fill="#000" />
<rect x="149" y="407" width="3" height="14" fill="#fff" />
<rect x="158" y="436" width="1" height="16" fill="#000" />
<rect x="156" y="445" width="5" height="7" fill="#000" />
<rect x="166" y="383" width="1" height="67" fill="#000" />
<rect x="164" y="404" width="5" height="45" fill="#000" />
<rect x="165" y="405" width="3" height="43" fill="#fff" />
<rect x="174" y="366" width="1" height="61" fill="#000" />
<rect x="172" y="397" width="5" height="8" fill="#000" />
<rect x="173" y="398" width="3" height="6" fill="#fff" />
<rect x="182" y="387" width="1" height="24" fill="#000" />
<rect x="180" y="393" width="5" height="5" fill="#000" />
<rect x="181" y="394" width="3" height="3" fill="#fff" />
<rect x="190" y="364" width="1" height="43" fill="#000" />
<rect x="188" y="390" width="5" height="4" fill="#000" />
<rect x="189" y="391" width="3" height="2" fill="#fff" />
<rect x="198" y="377" width="1" height="18" fill="#000" />
<rect x="196" y="387" width="5" height="4" fill="#000" />
<rect x="197" y="388" width="3" height="2" fill="#fff" />
<rect x="206" y="386" width="1" height="13" fill="#000" />
<rect x="204" y="387" width="5" height="12" fill="#000" />
<rect x="214" y="397" width="1" height="29" fill="#000" />
<rect x="212" y="397" width="5" height="28" fill="#000" />
<rect x="222" y="396" width="1" height="30" fill="#000" />
<rect x="220" y="397" width="5" height="28" fill="#000" />
<rect x="221" y="398" width="3" height="26" fill="#fff" />
<rect x="230" y="377" width="1" height="26" fill="#000" />
<rect x="228" y="385" width="5" height="13" fill="#000" />
<rect x="229" y="386" width="3" height="11" fill="#fff" />
<rect x="238" y="350" width="1" height="39" fill="#000" />
<rect x="236" y="371" width="5" height="15" fill="#000" />
<rect x="237" y="372" width="3" height="13" fill="#fff" />
<rect x="246" y="365" width="1" height="13" fill="#000" />
<rect x="244" y="371" width="5" height="6" fill="#000" />
<rect x="254" y="372" width="1" height="9" fill="#000" />
<rect x="252" y="375" width="5" height="5" fill="#000" />
<rect x="262" y="370" width="1" height="15" fill="#000" />
<rect x="260" y="378" width="5" height="2" fill="#000" />
<rect x="270" y="367" width="1" height="29" fill="#000" />
<rect x="268" y="377" width="5" height="18" fill="#000" />
<rect x="278" y="394" width="1" height="61" fill="#000" />
<rect x="276" y="394" width="5" height="28" fill="#000" />
<rect x="286" y="387" width="1" height="43" fill="#000" />
<rect x="284" y="390" width="5" height="32" fill="#000" />
<rect x="285" y="391" width="3" height="30" fill="#fff" />
<rect x="294" y="387" width="1" height="12" fill="#000" />
<rect x="292" y="390" width="5" height="2" fill="#000" />
<rect x="302" y="387" width="1" height="16" fill="#000" />
<rect x="300" y="391" width="5" height="3" fill="#000" />
<rect x="310" y="391" width="1" height="28" fill="#000" />
<rect x="308" y="393" width="5" height="21" fill="#000" />
<rect x="318" y="398" width="1" height="30" fill="#000" />
<rect x="316" y="406" width="5" height="8" fill="#000" />
<rect x="317" y="407" width="3" height="6" fill="#fff" />
<rect x="326" y="379" width="1" height="30" fill="#000" />
<rect x="324" y="381" width="5" height="26" fill="#000" />
<rect x="325" y="382" width="3" height="24" fill="#fff" />
<rect x="334" y="370" width="1" height="28" fill="#000" />
<rect x="332" y="378" width="5" height="4" fill="#000" />
<rect x="333" y="379" width="3" height="2" fill="#fff" />
<rect x="342" y="370" width="1" height="18" fill="#000" />
<rect x="340" y="378" width="5" height="9" fill="#000" />
<rect x="350" y="381" width="1" height="9" fill="#000" />
<rect x="348" y="386" width="5" height="3" fill="#000" />
<rect x="358" y="382" width="1" height="12" fill="#000" />
<rect x="356" y="386" width="5" height="5" fill="#000" />
<rect x="366" y="383" width="1" height="23" fill="#000" />
<rect x="364" y="388" width="5" height="3" fill="#000" />
<rect x="365" y="389" width="3" height="1" fill="#fff" />
<rect x="374" y="383" width="1" height="24" fill="#000" />
<rect x="372" y="388" width="5" height="8" fill="#000" />
<rect x="382" y="383" width="1" height="34" fill="#000" />
<rect x="380" y="395" width="5" height="15" fill="#000" />
<rect x="390" y="402" width="1" height="20" fill="#000" />
<rect x="388" y="409" width="5" height="10" fill="#000" />
<rect x="398" y="420" width="1" height="7" fill="#000" />
<rect x="396" y="424" width="5" height="1" fill="#000" />
<rect x="406" y="417" width="1" height="18" fill="#000" />
<rect x="404" y="421" width="5" height="3" fill="#000" />
<rect x="405" y="422" width="3" height="1" fill="#fff" />
<rect x="414" y="409" width="1" height="25" fill="#000" />
<rect x="412" y="421" width="5" height="13" fill="#000" />
<rect x="422" y="432" width="1" height="31" fill="#000" />
<rect x="420" y="433" width="5" height="24" fill="#000" />
<rect x="430" y="454" width="1" height="30" fill="#000" />
<rect x="428" y="456" width="5" height="20" fill="#000" />
<rect x="438" y="471" width="1" height="17" fill="#000" />
<rect x="436" y="475" width="5" height="1" fill="#000" />
<rect x="446" y="472" width="1" height="9" fill="#000" />
<rect x="444" y="475" width="5" height="1" fill="#000" />
<rect x="454" y="467" width="1" height="21" fill="#000" />
<rect x="452" y="474" width="5" height="13" fill="#000" />
<rect x="462" y="480" width="1" height="74" fill="#000" />
<rect x="460" y="486" width="5" height="53" fill="#000" />
<rect x="470" y="470" width="1" height="70" fill="#000" />
<rect x="468" y="503" width="5" height="37" fill="#000" />
<rect x="469" y="504" width="3" height="35" fill="#fff" />
<rect x="478" y="472" width="1" height="41" fill="#000" />
<rect x="476" y="483" width="5" height="21" fill="#000" />
<rect x="477" y="484" width="3" height="19" fill="#fff" />
<rect x="486" y="467" width="1" height="19" fill="#000" />
<rect x="484" y="474" width="5" height="10" fill="#000" />
<rect x="485" y="475" width="3" height="8" fill="#fff" />
<rect x="494" y="473" width="1" height="13" fill="#000" />
<rect x="492" y="474" width="5" height="9" fill="#000" />
<rect x="502" y="458" width="1" height="27" fill="#000" />
<rect x="500" y="464" width="5" height="18" fill="#000" />
<rect x="501" y="465" width="3" height="16" fill="#fff" />
<rect x="510" y="417" width="1" height="52" fill="#000" />
<rect x="508" y="422" width="5" height="43" fill="#000" />
<rect x="509" y="423" width="3" height="41" fill="#fff" />
<rect x="518" y="382" width="1" height="53" fill="#000" />
<rect x="516" y="396" width="5" height="27" fill="#000" />
<rect x="517" y="397" width="3" height="25" fill="#fff" />
<rect x="526" y="387" width="1" height="31" fill="#000" />
<rect x="524" y="395" width="5" height="2" fill="#000" />
<rect x="534" y="367" width="1" height="31" fill="#000" />
<rect x="532" y="369" width="5" height="28" fill="#000" />
<rect x="533" y="370" width="3" height="26" fill="#fff" />
<rect x="542" y="348" width="1" height="28" fill="#000" />
<rect x="540" y="359" width="5" height="11" fill="#000" />
<rect x="541" y="360" width="3" height="9" fill="#fff" />
<rect x="550" y="333" width="1" height="28" fill="#000" />
<rect x="548" y="342" width="5" height="19" fill="#000" />
<rect x="549" y="343" width="3" height="17" fill="#fff" />
<rect x="558" y="339" width="1" height="38" fill="#000" />
<rect x="556" y="342" width="5" height="2" fill="#000" />
<rect x="566" y="270" width="1" height="79" fill="#000" />
<rect x="564" y="286" width="5" height="58" fill="#000" />
<rect x="565" y="287" width="3" height="56" fill="#fff" />
<rect x="574" y="253" width="1" height="38" fill="#000" />
<rect x="572" y="265" width="5" height="22" fill="#000" />
<rect x="573" y="266" width="3" height="20" fill="#fff" />
<rect x="582" y="265" width="1" height="17" fill="#000" />
<rect x="580" y="265" width="5" height="1" fill="#000" />
<rect x="590" y="264" width="1" height="10" fill="#000" />
<rect x="588" y="264" width="5" height="3" fill="#000" />
<rect x="589" y="265" width="3" height="1" fill="#fff" />
<rect x="598" y="258" width="1" height="15" fill="#000" />
<rect x="596" y="264" width="5" height="2" fill="#000" />
<rect x="606" y="255" width="1" height="33" fill="#000" />
<rect x="604" y="265" width="5" height="15" fill="#000" />
<rect x="614" y="261" width="1" height="31" fill="#000" />
<rect x="612" y="279" width="5" height="1" fill="#000" />
<rect x="622" y="276" width="1" height="23" fill="#000" />
<rect x="620" y="279" width="5" height="19" fill="#000" />
<rect x="630" y="292" width="1" height="11" fill="#000" />
<rect x="628" y="295" width="5" height="3" fill="#000" />
<rect x="629" y="296" width="3" height="1" fill="#fff" />
<rect x="638" y="294" width="1" height="6" fill="#000" />
<rect x="636" y="296" width="5" height="4" fill="#000" />
<rect x="637" y="297" width="3" height="2" fill="#fff" />
<rect x="646" y="294" width="1" height="13" fill="#000" />
<rect x="644" y="296" width="5" height="11" fill="#000" />
<rect x="654" y="300" width="1" height="28" fill="#000" />
<rect x="652" y="304" width="5" height="3" fill="#000" />
<rect x="653" y="305" width="3" height="1" fill="#fff" />
<rect x="662" y="232" width="1" height="73" fill="#000" />
<rect x="660" y="250" width="5" height="55" fill="#000" />
<rect x="661" y="251" width="3" height="53" fill="#fff" />
<rect x="670" y="231" width="1" height="38" fill="#000" />
<rect x="668" y="235" width="5" height="16" fill="#000" />
<rect x="669" y="236" width="3" height="14" fill="#fff" />
<rect x="678" y="234" width="1" height="21" fill="#000" />
<rect x="676" y="234" width="5" height="9" fill="#000" />
<rect x="686" y="232" width="1" height="15" fill="#000" />
<rect x="684" y="234" width="5" height="10" fill="#000" />
<rect x="685" y="235" width="3" height="8" fill="#fff" />
<rect x="694" y="222" width="1" height="17" fill="#000" />
<rect x="692" y="232" width="5" height="5" fill="#000" />
<rect x="693" y="233" width="3" height="3" fill="#fff" />
<rect x="702" y="213" width="1" height="46" fill="#000" />
<rect x="700" y="232" width="5" height="23" fill="#000" />
<rect x="710" y="220" width="1" height="41" fill="#000" />
<rect x="708" y="233" width="5" height="22" fill="#000" />
<rect x="709" y="234" width="3" height="20" fill="#fff" />
<rect x="718" y="218" width="1" height="20" fill="#000" />
<rect x="716" y="228" width="5" height="6" fill="#000" />
<rect x="717" y="229" width="3" height="4" fill="#fff" />
<rect x="726" y="220" width="1" height="12" fill="#000" />
<rect x="724" y="220" width="5" height="10" fill="#000" />
<rect x="725" y="221" width="3" height="8" fill="#fff" />
<rect x="734" y="208" width="1" height="18" fill="#000" />
<rect x="732" y="209" width="5" height="12" fill="#000" />
<rect x="733" y="210" width="3" height="10" fill="#fff" />
<rect x="742" y="201" width="1" height="21" fill="#000" />
<rect x="740" y="203" width="5" height="10" fill="#000" />
<rect x="741" y="204" width="3" height="8" fill="#fff" />
<rect x="750" y="188" width="1" height="25" fill="#000" />
<rect x="748" y="190" width="5" height="14" fill="#000" />
<rect x="749" y="191" width="3" height="12" fill="#fff" />
<rect x="758" y="187" width="1" height="29" fill="#000" />
<rect x="756" y="190" width="5" height="22" fill="#000" />
<rect x="766" y="205" width="1" height="20" fill="#000" />
<rect x="764" y="211" width="5" height="7" fill="#000" />
<rect x="774" y="207" width="1" height="19" fill="#000" />
<rect x="772" y="208" width="5" height="10" fill="#000" />
<rect x="773" y="209" width="3" height="8" fill="#fff" />
<rect x="782" y="193" width="1" height="22" fill="#000" />
<rect x="780" y="194" width="5" height="15" fill="#000" />
<rect x="781" y="195" width="3" height="13" fill="#fff" />
<rect x="790" y="187" width="1" height="16" fill="#000" />
<rect x="788" y="191" width="5" height="5" fill="#000" />
<rect x="789" y="192" width="3" height="3" fill="#fff" />
<rect x="798" y="188" width="1" height="24" fill="#000" />
<rect x="796" y="191" width="5" height="20" fill="#000" />
<rect x="806" y="201" width="1" height="25" fill="#000" />
<rect x="804" y="210" width="5" height="11" fill="#000" />
<rect x="814" y="176" width="1" height="77" fill="#000" />
<rect x="812" y="184" width="5" height="36" fill="#000" />
<rect x="813" y="185" width="3" height="34" fill="#fff" />
<rect x="822" y="172" width="1" height="19" fill="#000" />
<rect x="820" y="184" width="5" height="2" fill="#000" />
<rect x="830" y="182" width="1" height="12" fill="#000" />
<rect x="828" y="185" width="5" height="2" fill="#000" />
<rect x="838" y="180" width="1" height="11" fill="#000" />
<rect x="836" y="181" width="5" height="7" fill="#000" />
<rect x="837" y="182" width="3" height="5" fill="#fff" />
<rect x="846" y="144" width="1" height="39" fill="#000" />
<rect x="844" y="154" width="5" height="28" fill="#000" />
<rect x="845" y="155" width="3" height="26" fill="#fff" />
<rect x="854" y="114" width="1" height="48" fill="#000" />
<rect x="852" y="128" width="5" height="27" fill="#000" />
<rect x="853" y="129" width="3" height="25" fill="#fff" />
<rect x="862" y="111" width="1" height="27" fill="#000" />
<rect x="860" y="112" width="5" height="17" fill="#000" />
<rect x="861" y="113" width="3" height="15" fill="#fff" />
<rect x="870" y="97" width="1" height="19" fill="#000" />
<rect x="868" y="101" width="5" height="12" fill="#000" />
<rect x="869" y="102" width="3" height="10" fill="#fff" />
<rect x="878" y="111" width="1" height="7" fill="#000" />
<rect x="876" y="113" width="5" height="5" fill="#000" />
<rect x="886" y="115" width="1" height="25" fill="#000" />
<rect x="884" y="117" width="5" height="9" fill="#000" />
<rect x="894" y="119" width="1" height="22" fill="#000" />
<rect x="892" y="125" width="5" height="7" fill="#000" />
<rect x="902" y="130" width="1" height="30" fill="#000" />
<rect x="900" y="131" width="5" height="19" fill="#000" />
<rect x="910" y="129" width="1" height="31" fill="#000" />
<rect x="908" y="147" width="5" height="3" fill="#000" />
<rect x="909" y="148" width="3" height="1" fill="#fff" />
<rect x="918" y="135" width="1" height="17" fill="#000" />
<rect x="916" y="136" width="5" height="12" fill="#000" />
<rect x="917" y="137" width="3" height="10" fill="#fff" />
<rect x="926" y="129" width="1" height="9" fill="#000" />
<rect x="924" y="132" width="5" height="5" fill="#000" />
<rect x="925" y="133" width="3" height="3" fill="#fff" />
<rect x="934" y="123" width="1" height="21" fill="#000" />
<rect x="932" y="133" width="5" height="7" fill="#000" />
<rect x="942" y="126" width="1" height="28" fill="#000" />
<rect x="940" y="139" width="5" height="12" fill="#000" />
<rect x="950" y="133" width="1" height="18" fill="#000" />
<rect x="948" y="136" width="5" height="15" fill="#000" />
<rect x="949" y="137" width="3" height="13" fill="#fff" />
<rect x="958" y="88" width="1" height="56" fill="#000" />
<rect x="956" y="93" width="5" height="44" fill="#000" />
<rect x="957" y="94" width="3" height="42" fill="#fff" />
<rect x="966" y="75" width="1" height="23" fill="#000" />
<rect x="964" y="87" width="5" height="7" fill="#000" />
<rect x="965" y="88" width="3" height="5" fill="#fff" />
<rect x="974" y="87" width="1" height="7" fill="#000" />
<rect x="972" y="87" width="5" height="5" fill="#000" />
<rect x="982" y="85" width="1" height="11" fill="#000" />
<rect x="980" y="90" width="5" height="5" fill="#000" />
<rect x="990" y="86" width="1" height="21" fill="#000" />
<rect x="988" y="94" width="5" height="7" fill="#000" />
<rect x="998" y="97" width="1" height="24" fill="#000" />
<rect x="996" y="101" width="5" height="12" fill="#000" />
<rect x="1006" y="89" width="1" height="27" fill="#000" />
<rect x="1004" y="100" width="5" height="13" fill="#000" />
<rect x="1005" y="101" width="3" height="11" fill="#fff" />
<rect x="1014" y="61" width="1" height="46" fill="#000" />
<rect x="1012" y="77" width="5" height="24" fill="#000" />
<rect x="1013" y="78" width="3" height="22" fill="#fff" />
<rect x="1022" y="73" width="1" height="16" fill="#000" />
<rect x="1020" y="77" width="5" height="10" fill="#000" />
<rect x="1030" y="84" width="1" height="47" fill="#000" />
<rect x="1028" y="86" width="5" height="40" fill="#000" />
<rect x="1038" y="102" width="1" height="26" fill="#000" />
<rect x="1036" y="110" width="5" height="16" fill="#000" />
<rect x="1037" y="111" width="3" height="14" fill="#fff" />
<rect x="1046" y="96" width="1" height="43" fill="#000" />
<rect x="1044" y="110" width="5" height="9" fill="#000" />
<rect x="1054" y="100" width="1" height="25" fill="#000" />
<rect x="1052" y="110" width="5" height="9" fill="#000" />
<rect x="1053" y="111" width="3" height="7" fill="#fff" />
<rect x="1062" y="70" width="1" height="44" fill="#000" />
<rect x="1060" y="83" width="5" height="28" fill="#000" />
<rect x="1061" y="84" width="3" height="26" fill="#fff" />
<rect x="1070" y="78" width="1" height="8" fill="#000" />
<rect x="1068" y="80" width="5" height="4" fill="#000" />
<rect x="1069" y="81" width="3" height="2" fill="#fff" />
<rect x="1078" y="72" width="1" height="19" fill="#000" />
<rect x="1076" y="75" width="5" height="4" fill="#000" />
<rect x="1077" y="76" width="3" height="2" fill="#fff" />
<rect x="1086" y="57" width="1" height="26" fill="#000" />
<rect x="1084" y="61" width="5" height="15" fill="#000" />
<rect x="1085" y="62" width="3" height="13" fill="#fff" />
<rect x="1094" y="60" width="1" height="55" fill="#000" />
<rect x="1092" y="61" width="5" height="48" fill="#000" />
<rect x="1102" y="96" width="1" height="28" fill="#000" />
<rect x="1100" y="108" width="5" height="1" fill="#000" />
<rect x="1110" y="107" width="1" height="30" fill="#000" />
<rect x="1108" y="108" width="5" height="28" fill="#000" />
<rect x="1118" y="134" width="1" height="10" fill="#000" />
<rect x="1116" y="136" width="5" height="4" fill="#000" />
<rect x="1126" y="124" width="1" height="19" fill="#000" />
<rect x="1124" y="125" width="5" height="15" fill="#000" />
<rect x="1125" y="126" width="3" height="13" fill="#fff" />
<rect x="1134" y="122" width="1" height="55" fill="#000" />
<rect x="1132" y="125" width="5" height="52" fill="#000" />
<rect x="1142" y="163" width="1" height="26" fill="#000" />
<rect x="1140" y="173" width="5" height="3" fill="#000" />
<rect x="1141" y="174" width="3" height="1" fill="#fff" />
<rect x="1150" y="163" width="1" height="26" fill="#000" />
<rect x="1148" y="172" width="5" height="6" fill="#000" />
<rect x="1158" y="169" width="1" height="13" fill="#000" />
<rect x="1156" y="174" width="5" height="4" fill="#000" />
<rect x="1157" y="175" width="3" height="2" fill="#fff" />
<rect x="1166" y="160" width="1" height="17" fill="#000" />
<rect x="1164" y="165" width="5" height="10" fill="#000" />
<rect x="1165" y="166" width="3" height="8" fill="#fff" />
<rect x="1174" y="159" width="1" height="18" fill="#000" />
<rect x="1172" y="164" width="5" height="11" fill="#000" />
<rect x="1182" y="159" width="1" height="19" fill="#000" />
<rect x="1180" y="172" width="5" height="2" fill="#000" />
<rect x="1190" y="120" width="1" height="56" fill="#000" />
<rect x="1188" y="135" width="5" height="39" fill="#000" />
<rect x="1189" y="136" width="3" height="37" fill="#fff" />
<rect x="1198" y="126" width="1" height="41" fill="#000" />
<rect x="1196" y="135" width="5" height="25" fill="#000" />
<rect x="1206" y="152" width="1" height="24" fill="#000" />
<rect x="1204" y="160" width="5" height="6" fill="#000" />
<rect x="1214" y="160" width="1" height="12" fill="#000" />
<rect x="1212" y="164" width="5" height="3" fill="#000" />
<rect x="1213" y="165" width="3" height="1" fill="#fff" />
<rect x="1222" y="156" width="1" height="25" fill="#000" />
<rect x="1220" y="163" width="5" height="3" fill="#000" />
<rect x="1230" y="153" width="1" height="34" fill="#000" />
<rect x="1228" y="165" width="5" height="18" fill="#000" />
<rect x="1238" y="173" width="1" height="38" fill="#000" />
<rect x="1236" y="182" width="5" height="27" fill="#000" />
<rect x="1246" y="184" width="1" height="33" fill="#000" />
<rect x="1244" y="192" width="5" height="18" fill="#000" />
<rect x="1245" y="193" width="3" height="16" fill="#fff" />
<rect x="1254" y="188" width="1" height="13" fill="#000" />
<rect x="1252" y="196" width="5" height="4" fill="#000" />
<rect x="1262" y="190" width="1" height="16" fill="#000" />
<rect x="1260" y="194" width="5" height="9" fill="#000" />
<rect x="1270" y="189" width="1" height="20" fill="#000" />
<rect x="1268" y="195" width="5" height="8" fill="#000" />
<rect x="1269" y="196" width="3" height="6" fill="#fff" />
<rect x="1278" y="190" width="1" height="24" fill="#000" />
<rect x="1276" y="190" width="5" height="22" fill="#000" />
<rect x="1286" y="208" width="1" height="34" fill="#000" />
<rect x="1284" y="211" width="5" height="1" fill="#000" />
<rect x="1294" y="202" width="1" height="26" fill="#000" />
<rect x="1292" y="211" width="5" height="3" fill="#000" />
<rect x="1302" y="199" width="1" height="17" fill="#000" />
<rect x="1300" y="213" width="5" height="1" fill="#000" />
<rect x="1310" y="210" width="1" height="10" fill="#000" />
<rect x="1308" y="213" width="5" height="1" fill="#000" />
<rect x="1318" y="211" width="1" height="3" fill="#000" />
<rect x="1316" y="212" width="5" height="2" fill="#000" />
</g>
<rect x="1233" y="189" width="104" height="9" fill="#00ff00" shape-rendering="crispEdges"/>
<g shape-rendering="crispEdges">
<rect x="-3" y="151" width="6" height="6" fill="#ff4500" />
<rect x="-1" y="153" width="2" height="2" fill="#fff" />
<rect x="1620" y="151" width="6" height="6" fill="#ff4500" />
<rect x="1622" y="153" width="2" height="2" fill="#fff" />
<rect x="-3" y="171" width="6" height="6" fill="#ff0000" />
<rect x="-1" y="173" width="2" height="2" fill="#fff" />
<rect x="1620" y="171" width="6" height="6" fill="#ff0000" />
<rect x="1622" y="173" width="2" height="2" fill="#fff" />
<rect x="-3" y="191" width="6" height="6" fill="#32cd32" />
<rect x="-1" y="193" width="2" height="2" fill="#fff" />
<rect x="1620" y="191" width="6" height="6" fill="#32cd32" />
<rect x="1622" y="193" width="2" height="2" fill="#fff" />
<rect x="-3" y="234" width="6" height="6" fill="#0000ff" />
<rect x="-1" y="236" width="2" height="2" fill="#fff" />
<rect x="1620" y="234" width="6" height="6" fill="#0000ff" />
<rect x="1622" y="236" width="2" height="2" fill="#fff" />
<rect x="-3" y="258" width="6" height="6" fill="#0000ff" />
<rect x="-1" y="260" width="2" height="2" fill="#fff" />
<rect x="1620" y="258" width="6" height="6" fill="#0000ff" />
<rect x="1622" y="260" width="2" height="2" fill="#fff" />
</g>
<g shape-rendering="crispEdges">
<rect x="0" y="31" width="1627" height="1" fill="#000" />
<rect x="1626" y="31" width="1" height="536" fill="#000" />
<rect x="0" y="566" width="1627" height="1" fill="#000" />
<rect x="0" y="568" width="1627" height="1" fill="#000" />
<rect x="1626" y="568" width="1" height="202" fill="#000" />
<rect x="0" y="769" width="1627" height="1" fill="#000" />
<rect x="0" y="771" width="1627" height="1" fill="#000" />
<rect x="1626" y="771" width="1" height="161" fill="#000" />
<rect x="0" y="931" width="1627" height="1" fill="#000" />
</g>
<g shape-rendering="crispEdges">
<rect x="1627" y="35" width="2" height="1" fill="#000" />
<rect x="1627" y="68" width="2" height="1" fill="#000" />
<rect x="1627" y="101" width="2" height="1" fill="#000" />
<rect x="1627" y="134" width="2" height="1" fill="#000" />
<rect x="1627" y="167" width="2" height="1" fill="#000" />
<rect x="1627" y="200" width="2" height="1" fill="#000" />
<rect x="1627" y="233" width="2" height="1" fill="#000" />
<rect x="1627" y="266" width="2" height="1" fill="#000" />
<rect x="1627" y="299" width="2" height="1" fill="#000" />
<rect x="1627" y="332" width="2" height="1" fill="#000" />
<rect x="1627" y="365" width="2" height="1" fill="#000" />
<rect x="1627" y="398" width="2" height="1" fill="#000" />
<rect x="1627" y="431" width="2" height="1" fill="#000" />
<rect x="1627" y="464" width="2" height="1" fill="#000" />
<rect x="1627" y="497" width="2" height="1" fill="#000" />
<rect x="1627" y="530" width="2" height="1" fill="#000" />
<rect x="1627" y="563" width="2" height="1" fill="#000" />
</g>
<text x="1632.3" y="38.9" font-size="10" fill="#000" text-anchor="start" font-weight="normal" textLength="32.6" lengthAdjust="spacingAndGlyphs" >136.135</text>
<text x="1632.3" y="71.9" font-size="10" fill="#000" text-anchor="start" font-weight="normal" textLength="32.6" lengthAdjust="spacingAndGlyphs" >135.535</text>
<text x="1632.3" y="104.9" font-size="10" fill="#000" text-anchor="start" font-weight="normal" textLength="32.6" lengthAdjust="spacingAndGlyphs" >134.920</text>
<text x="1632.3" y="137.9" font-size="10" fill="#000" text-anchor="start" font-weight="normal" textLength="32.6" lengthAdjust="spacingAndGlyphs" >134.320</text>
<text x="1632.3" y="170.9" font-size="10" fill="#000" text-anchor="start" font-weight="normal" textLength="32.6" lengthAdjust="spacingAndGlyphs" >133.720</text>
<text x="1632.3" y="203.9" font-size="10" fill="#000" text-anchor="start" font-weight="normal" textLength="32.6" lengthAdjust="spacingAndGlyphs" >133.120</text>
<text x="1632.3" y="236.9" font-size="10" fill="#000" text-anchor="start" font-weight="normal" textLength="32.6" lengthAdjust="spacingAndGlyphs" >132.520</text>
<text x="1632.3" y="269.9" font-size="10" fill="#000" text-anchor="start" font-weight="normal" textLength="32.6" lengthAdjust="spacingAndGlyphs" >131.905</text>
<text x="1632.3" y="302.9" font-size="10" fill="#000" text-anchor="start" font-weight="normal" textLength="32.6" lengthAdjust="spacingAndGlyphs" >131.305</text>
<text x="1632.3" y="335.9" font-size="10" fill="#000" text-anchor="start" font-weight="normal" textLength="32.6" lengthAdjust="spacingAndGlyphs" >130.705</text>
<text x="1632.3" y="368.9" font-size="10" fill="#000" text-anchor="start" font-weight="normal" textLength="32.6" lengthAdjust="spacingAndGlyphs" >130.090</text>
<text x="1632.3" y="401.9" font-size="10" fill="#000" text-anchor="start" font-weight="normal" textLength="32.6" lengthAdjust="spacingAndGlyphs" >129.490</text>
<text x="1632.3" y="434.9" font-size="10" fill="#000" text-anchor="start" font-weight="normal" textLength="32.6" lengthAdjust="spacingAndGlyphs" >128.890</text>
<text x="1632.3" y="467.9" font-size="10" fill="#000" text-anchor="start" font-weight="normal" textLength="32.6" lengthAdjust="spacingAndGlyphs" >128.290</text>
<text x="1632.3" y="500.9" font-size="10" fill="#000" text-anchor="start" font-weight="normal" textLength="32.6" lengthAdjust="spacingAndGlyphs" >127.675</text>
<text x="1632.3" y="533.9" font-size="10" fill="#000" text-anchor="start" font-weight="normal" textLength="32.6" lengthAdjust="spacingAndGlyphs" >127.075</text>
<text x="1632.3" y="566.9" font-size="10" fill="#000" text-anchor="start" font-weight="normal" textLength="32.6" lengthAdjust="spacingAndGlyphs" >126.475</text>
<rect x="1628" y="148" width="41" height="11" fill="#ff4500" shape-rendering="crispEdges"/>
<text x="1632.3" y="157.5" font-size="10" fill="#fff" text-anchor="start" font-weight="normal" textLength="32.6" lengthAdjust="spacingAndGlyphs" >133.952</text>
<rect x="1628" y="168" width="41" height="11" fill="#ff0000" shape-rendering="crispEdges"/>
<text x="1632.3" y="177.5" font-size="10" fill="#fff" text-anchor="start" font-weight="normal" textLength="32.6" lengthAdjust="spacingAndGlyphs" >133.587</text>
<rect x="1628" y="188" width="41" height="11" fill="#32cd32" shape-rendering="crispEdges"/>
<text x="1632.3" y="197.5" font-size="10" fill="#fff" text-anchor="start" font-weight="normal" textLength="32.6" lengthAdjust="spacingAndGlyphs" >133.222</text>
<rect x="1628" y="207" width="41" height="11" fill="#000" shape-rendering="crispEdges"/>
<text x="1632.3" y="216.5" font-size="10" fill="#fff" text-anchor="start" font-weight="normal" textLength="32.6" lengthAdjust="spacingAndGlyphs" >132.896</text>
<rect x="1628" y="231" width="41" height="11" fill="#0000ff" shape-rendering="crispEdges"/>
<text x="1632.3" y="240.5" font-size="10" fill="#fff" text-anchor="start" font-weight="normal" textLength="32.6" lengthAdjust="spacingAndGlyphs" >132.437</text>
<rect x="1628" y="255" width="41" height="11" fill="#0000ff" shape-rendering="crispEdges"/>
<text x="1632.3" y="264.5" font-size="10" fill="#fff" text-anchor="start" font-weight="normal" textLength="32.6" lengthAdjust="spacingAndGlyphs" >131.999</text>
<g shape-rendering="crispEdges">
<rect x="1497" y="178" width="100" height="33" fill="#fff" />
<rect x="1497.5" y="178.5" width="99" height="32" fill="none" stroke="#ff0000" stroke-width="1"/>
<rect x="1487" y="194" width="8" height="1" fill="#ff0000" />
<rect x="1494.5" y="192.5" width="3" height="3" fill="#fff" stroke="#ff0000" stroke-width="1"/>
</g>
<text x="1500.5" y="204.6" font-size="27" fill="#ff0000" text-anchor="start" font-weight="normal" textLength="94" lengthAdjust="spacingAndGlyphs" >133.222</text>
<text x="1422.9" y="316.9" font-size="32.3" fill="#062a06" text-anchor="start" letter-spacing="0.75" style="font-family:'Liberation Sans','Noto Sans CJK SC',sans-serif;">多空转折点</text>
<text x="1422" y="316" font-size="32.3" fill="#00ff00" text-anchor="start" letter-spacing="0.75" style="font-family:'Liberation Sans','Noto Sans CJK SC',sans-serif;">多空转折点</text>
<path d="M1326,32 L1336,32 L1331,37 Z" fill="#c0c0c0"/>
<g shape-rendering="crispEdges">
<rect x="6" y="662" width="1" height="28" fill="#c0c0c0" />
<rect x="14" y="662" width="1" height="28" fill="#c0c0c0" />
<rect x="22" y="660" width="1" height="30" fill="#c0c0c0" />
<rect x="30" y="661" width="1" height="29" fill="#c0c0c0" />
<rect x="38" y="662" width="1" height="28" fill="#c0c0c0" />
<rect x="46" y="663" width="1" height="27" fill="#c0c0c0" />
<rect x="54" y="663" width="1" height="27" fill="#c0c0c0" />
<rect x="62" y="664" width="1" height="26" fill="#c0c0c0" />
<rect x="70" y="668" width="1" height="22" fill="#c0c0c0" />
<rect x="78" y="670" width="1" height="20" fill="#c0c0c0" />
<rect x="86" y="668" width="1" height="22" fill="#c0c0c0" />
<rect x="94" y="657" width="1" height="33" fill="#c0c0c0" />
<rect x="102" y="649" width="1" height="41" fill="#c0c0c0" />
<rect x="110" y="643" width="1" height="47" fill="#c0c0c0" />
<rect x="118" y="639" width="1" height="51" fill="#c0c0c0" />
<rect x="126" y="640" width="1" height="50" fill="#c0c0c0" />
<rect x="134" y="637" width="1" height="53" fill="#c0c0c0" />
<rect x="142" y="650" width="1" height="40" fill="#c0c0c0" />
<rect x="150" y="658" width="1" height="32" fill="#c0c0c0" />
<rect x="158" y="673" width="1" height="17" fill="#c0c0c0" />
<rect x="166" y="676" width="1" height="14" fill="#c0c0c0" />
<rect x="174" y="677" width="1" height="13" fill="#c0c0c0" />
<rect x="182" y="677" width="1" height="13" fill="#c0c0c0" />
<rect x="190" y="677" width="1" height="13" fill="#c0c0c0" />
<rect x="198" y="677" width="1" height="13" fill="#c0c0c0" />
<rect x="206" y="678" width="1" height="12" fill="#c0c0c0" />
<rect x="214" y="685" width="1" height="5" fill="#c0c0c0" />
<rect x="222" y="685" width="1" height="5" fill="#c0c0c0" />
<rect x="230" y="683" width="1" height="7" fill="#c0c0c0" />
<rect x="238" y="679" width="1" height="11" fill="#c0c0c0" />
<rect x="246" y="676" width="1" height="14" fill="#c0c0c0" />
<rect x="254" y="674" width="1" height="16" fill="#c0c0c0" />
<rect x="262" y="673" width="1" height="17" fill="#c0c0c0" />
<rect x="270" y="676" width="1" height="14" fill="#c0c0c0" />
<rect x="278" y="684" width="1" height="6" fill="#c0c0c0" />
<rect x="286" y="684" width="1" height="6" fill="#c0c0c0" />
<rect x="294" y="684" width="1" height="6" fill="#c0c0c0" />
<rect x="302" y="684" width="1" height="6" fill="#c0c0c0" />
<rect x="310" y="689" width="1" height="1" fill="#c0c0c0" />
<rect x="318" y="689" width="1" height="1" fill="#c0c0c0" />
<rect x="326" y="688" width="1" height="2" fill="#c0c0c0" />
<rect x="334" y="685" width="1" height="5" fill="#c0c0c0" />
<rect x="342" y="685" width="1" height="5" fill="#c0c0c0" />
<rect x="350" y="684" width="1" height="6" fill="#c0c0c0" />
<rect x="358" y="685" width="1" height="5" fill="#c0c0c0" />
<rect x="366" y="685" width="1" height="5" fill="#c0c0c0" />
<rect x="374" y="686" width="1" height="4" fill="#c0c0c0" />
<rect x="382" y="689" width="1" height="1" fill="#c0c0c0" />
<rect x="390" y="689" width="1" height="4" fill="#c0c0c0" />
<rect x="398" y="689" width="1" height="9" fill="#c0c0c0" />
<rect x="406" y="689" width="1" height="12" fill="#c0c0c0" />
<rect x="414" y="689" width="1" height="17" fill="#c0c0c0" />
<rect x="422" y="689" width="1" height="25" fill="#c0c0c0" />
<rect x="430" y="689" width="1" height="35" fill="#c0c0c0" />
<rect x="438" y="689" width="1" height="42" fill="#c0c0c0" />
<rect x="446" y="689" width="1" height="47" fill="#c0c0c0" />
<rect x="454" y="689" width="1" height="53" fill="#c0c0c0" />
<rect x="462" y="689" width="1" height="67" fill="#c0c0c0" />
<rect x="470" y="689" width="1" height="69" fill="#c0c0c0" />
<rect x="478" y="689" width="1" height="68" fill="#c0c0c0" />
<rect x="486" y="689" width="1" height="63" fill="#c0c0c0" />
<rect x="494" y="689" width="1" height="62" fill="#c0c0c0" />
<rect x="502" y="689" width="1" height="55" fill="#c0c0c0" />
<rect x="510" y="689" width="1" height="42" fill="#c0c0c0" />
<rect x="518" y="689" width="1" height="25" fill="#c0c0c0" />
<rect x="526" y="689" width="1" height="12" fill="#c0c0c0" />
<rect x="534" y="687" width="1" height="3" fill="#c0c0c0" />
<rect x="542" y="672" width="1" height="18" fill="#c0c0c0" />
<rect x="550" y="658" width="1" height="32" fill="#c0c0c0" />
<rect x="558" y="647" width="1" height="43" fill="#c0c0c0" />
<rect x="566" y="628" width="1" height="62" fill="#c0c0c0" />
<rect x="574" y="610" width="1" height="80" fill="#c0c0c0" />
<rect x="582" y="596" width="1" height="94" fill="#c0c0c0" />
<rect x="590" y="587" width="1" height="103" fill="#c0c0c0" />
<rect x="598" y="580" width="1" height="110" fill="#c0c0c0" />
<rect x="606" y="580" width="1" height="110" fill="#c0c0c0" />
<rect x="614" y="580" width="1" height="110" fill="#c0c0c0" />
<rect x="622" y="585" width="1" height="105" fill="#c0c0c0" />
<rect x="630" y="590" width="1" height="100" fill="#c0c0c0" />
<rect x="638" y="596" width="1" height="94" fill="#c0c0c0" />
<rect x="646" y="603" width="1" height="87" fill="#c0c0c0" />
<rect x="654" y="609" width="1" height="81" fill="#c0c0c0" />
<rect x="662" y="604" width="1" height="86" fill="#c0c0c0" />
<rect x="670" y="598" width="1" height="92" fill="#c0c0c0" />
<rect x="678" y="596" width="1" height="94" fill="#c0c0c0" />
<rect x="686" y="594" width="1" height="96" fill="#c0c0c0" />
<rect x="694" y="593" width="1" height="97" fill="#c0c0c0" />
<rect x="702" y="599" width="1" height="91" fill="#c0c0c0" />
<rect x="710" y="599" width="1" height="91" fill="#c0c0c0" />
<rect x="718" y="599" width="1" height="91" fill="#c0c0c0" />
<rect x="726" y="598" width="1" height="92" fill="#c0c0c0" />
<rect x="734" y="597" width="1" height="93" fill="#c0c0c0" />
<rect x="742" y="596" width="1" height="94" fill="#c0c0c0" />
<rect x="750" y="594" width="1" height="96" fill="#c0c0c0" />
<rect x="758" y="597" width="1" height="93" fill="#c0c0c0" />
<rect x="766" y="602" width="1" height="88" fill="#c0c0c0" />
<rect x="774" y="605" width="1" height="85" fill="#c0c0c0" />
<rect x="782" y="606" width="1" height="84" fill="#c0c0c0" />
<rect x="790" y="607" width="1" height="83" fill="#c0c0c0" />
<rect x="798" y="612" width="1" height="78" fill="#c0c0c0" />
<rect x="806" y="619" width="1" height="71" fill="#c0c0c0" />
<rect x="814" y="618" width="1" height="72" fill="#c0c0c0" />
<rect x="822" y="619" width="1" height="71" fill="#c0c0c0" />
<rect x="830" y="620" width="1" height="70" fill="#c0c0c0" />
<rect x="838" y="621" width="1" height="69" fill="#c0c0c0" />
<rect x="846" y="618" width="1" height="72" fill="#c0c0c0" />
<rect x="854" y="610" width="1" height="80" fill="#c0c0c0" />
<rect x="862" y="602" width="1" height="88" fill="#c0c0c0" />
<rect x="870" y="594" width="1" height="96" fill="#c0c0c0" />
<rect x="878" y="593" width="1" height="97" fill="#c0c0c0" />
<rect x="886" y="594" width="1" height="96" fill="#c0c0c0" />
<rect x="894" y="598" width="1" height="92" fill="#c0c0c0" />
<rect x="902" y="605" width="1" height="85" fill="#c0c0c0" />
<rect x="910" y="611" width="1" height="79" fill="#c0c0c0" />
<rect x="918" y="615" width="1" height="75" fill="#c0c0c0" />
<rect x="926" y="618" width="1" height="72" fill="#c0c0c0" />
<rect x="934" y="622" width="1" height="68" fill="#c0c0c0" />
<rect x="942" y="629" width="1" height="61" fill="#c0c0c0" />
<rect x="950" y="632" width="1" height="58" fill="#c0c0c0" />
<rect x="958" y="626" width="1" height="64" fill="#c0c0c0" />
<rect x="966" y="622" width="1" height="68" fill="#c0c0c0" />
<rect x="974" y="619" width="1" height="71" fill="#c0c0c0" />
<rect x="982" y="619" width="1" height="71" fill="#c0c0c0" />
<rect x="990" y="623" width="1" height="67" fill="#c0c0c0" />
<rect x="998" y="626" width="1" height="64" fill="#c0c0c0" />
<rect x="1006" y="627" width="1" height="63" fill="#c0c0c0" />
<rect x="1014" y="625" width="1" height="65" fill="#c0c0c0" />
<rect x="1022" y="626" width="1" height="64" fill="#c0c0c0" />
<rect x="1030" y="635" width="1" height="55" fill="#c0c0c0" />
<rect x="1038" y="640" width="1" height="50" fill="#c0c0c0" />
<rect x="1046" y="645" width="1" height="45" fill="#c0c0c0" />
<rect x="1054" y="650" width="1" height="40" fill="#c0c0c0" />
<rect x="1062" y="647" width="1" height="43" fill="#c0c0c0" />
<rect x="1070" y="645" width="1" height="45" fill="#c0c0c0" />
<rect x="1078" y="643" width="1" height="47" fill="#c0c0c0" />
<rect x="1086" y="641" width="1" height="49" fill="#c0c0c0" />
<rect x="1094" y="646" width="1" height="44" fill="#c0c0c0" />
<rect x="1102" y="652" width="1" height="38" fill="#c0c0c0" />
<rect x="1110" y="663" width="1" height="27" fill="#c0c0c0" />
<rect x="1118" y="672" width="1" height="18" fill="#c0c0c0" />
<rect x="1126" y="677" width="1" height="13" fill="#c0c0c0" />
<rect x="1134" y="689" width="1" height="1" fill="#c0c0c0" />
<rect x="1142" y="689" width="1" height="11" fill="#c0c0c0" />
<rect x="1150" y="689" width="1" height="19" fill="#c0c0c0" />
<rect x="1158" y="689" width="1" height="26" fill="#c0c0c0" />
<rect x="1166" y="689" width="1" height="28" fill="#c0c0c0" />
<rect x="1174" y="689" width="1" height="32" fill="#c0c0c0" />
<rect x="1182" y="689" width="1" height="34" fill="#c0c0c0" />
<rect x="1190" y="689" width="1" height="28" fill="#c0c0c0" />
<rect x="1198" y="689" width="1" height="27" fill="#c0c0c0" />
<rect x="1206" y="689" width="1" height="28" fill="#c0c0c0" />
<rect x="1214" y="689" width="1" height="28" fill="#c0c0c0" />
<rect x="1222" y="689" width="1" height="28" fill="#c0c0c0" />
<rect x="1230" y="689" width="1" height="30" fill="#c0c0c0" />
<rect x="1238" y="689" width="1" height="38" fill="#c0c0c0" />
<rect x="1246" y="689" width="1" height="40" fill="#c0c0c0" />
<rect x="1254" y="689" width="1" height="42" fill="#c0c0c0" />
<rect x="1262" y="689" width="1" height="44" fill="#c0c0c0" />
<rect x="1270" y="689" width="1" height="44" fill="#c0c0c0" />
<rect x="1278" y="689" width="1" height="46" fill="#c0c0c0" />
<rect x="1286" y="689" width="1" height="47" fill="#c0c0c0" />
<rect x="1294" y="689" width="1" height="48" fill="#c0c0c0" />
<rect x="1302" y="689" width="1" height="49" fill="#c0c0c0" />
<rect x="1310" y="689" width="1" height="48" fill="#c0c0c0" />
<rect x="1318" y="689" width="1" height="47" fill="#c0c0c0" />
<rect x="1627" y="689" width="2" height="1" fill="#000" />
<rect x="1627" y="570" width="1" height="1" fill="#000" />
</g>
<path d="M638,588h3v1h-3zM644,588h3v1h-3zM650,588h3v1h-3zM634,589h1v1h-1zM656,589h2v1h-2zM632,590h2v1h-2zM658,590h1v1h-1zM662,591h2v1h-2zM664,592h1v1h-1zM628,593h1v1h-1zM668,593h3v1h-3zM626,594h2v1h-2zM674,594h3v1h-3zM680,595h3v1h-3zM742,595h1v1h-1zM746,595h3v1h-3zM752,595h3v1h-3zM686,596h3v1h-3zM692,596h3v1h-3zM730,596h1v1h-1zM734,596h3v1h-3zM740,596h2v1h-2zM758,596h3v1h-3zM698,597h3v1h-3zM722,597h3v1h-3zM728,597h2v1h-2zM764,597h3v1h-3zM622,598h1v1h-1zM704,598h3v1h-3zM710,598h3v1h-3zM716,598h3v1h-3zM770,598h3v1h-3zM776,598h3v1h-3zM782,598h3v1h-3zM788,598h1v1h-1zM621,599h1v1h-1zM789,599h2v1h-2zM620,600h1v1h-1zM794,600h1v1h-1zM795,601h2v1h-2zM800,601h1v1h-1zM914,601h3v1h-3zM920,601h1v1h-1zM801,602h2v1h-2zM806,602h1v1h-1zM908,602h3v1h-3zM921,602h2v1h-2zM926,602h1v1h-1zM807,603h2v1h-2zM902,603h3v1h-3zM927,603h2v1h-2zM617,604h1v1h-1zM892,604h1v1h-1zM896,604h3v1h-3zM932,604h3v1h-3zM616,605h1v1h-1zM812,605h2v1h-2zM890,605h2v1h-2zM615,606h1v1h-1zM814,606h1v1h-1zM938,606h2v1h-2zM818,607h3v1h-3zM885,607h2v1h-2zM940,607h1v1h-1zM824,608h2v1h-2zM884,608h1v1h-1zM826,609h1v1h-1zM879,609h2v1h-2zM944,609h2v1h-2zM612,610h1v1h-1zM878,610h1v1h-1zM946,610h1v1h-1zM611,611h1v1h-1zM830,611h2v1h-2zM874,611h1v1h-1zM610,612h1v1h-1zM832,612h1v1h-1zM872,612h2v1h-2zM950,612h1v1h-1zM836,613h3v1h-3zM866,613h3v1h-3zM951,613h2v1h-2zM842,614h3v1h-3zM848,614h1v1h-1zM860,614h3v1h-3zM849,615h2v1h-2zM854,615h3v1h-3zM956,615h1v1h-1zM607,616h1v1h-1zM957,616h2v1h-2zM606,617h1v1h-1zM606,618h1v1h-1zM962,618h2v1h-2zM964,619h1v1h-1zM968,620h3v1h-3zM974,621h3v1h-3zM980,621h3v1h-3zM603,622h1v1h-1zM986,622h3v1h-3zM992,622h2v1h-2zM1022,622h3v1h-3zM602,623h1v1h-1zM994,623h1v1h-1zM998,623h3v1h-3zM1011,623h2v1h-2zM1016,623h3v1h-3zM1028,623h3v1h-3zM602,624h1v1h-1zM1004,624h3v1h-3zM1010,624h1v1h-1zM1034,624h1v1h-1zM1035,625h2v1h-2zM1040,626h3v1h-3zM599,628h1v1h-1zM1046,628h1v1h-1zM598,629h1v1h-1zM1047,629h2v1h-2zM597,630h1v1h-1zM1052,631h1v1h-1zM1053,632h2v1h-2zM595,634h1v1h-1zM1058,634h2v1h-2zM594,635h1v1h-1zM1060,635h1v1h-1zM1064,635h1v1h-1zM594,636h1v1h-1zM1065,636h2v1h-2zM1070,637h3v1h-3zM1076,638h3v1h-3zM1082,639h3v1h-3zM591,640h1v1h-1zM1088,640h1v1h-1zM591,641h1v1h-1zM1089,641h2v1h-2zM590,642h1v1h-1zM1094,642h2v1h-2zM1096,643h1v1h-1zM1100,644h2v1h-2zM1102,645h1v1h-1zM588,646h1v1h-1zM1106,646h3v1h-3zM587,647h1v1h-1zM1112,647h1v1h-1zM150,648h3v1h-3zM587,648h1v1h-1zM1113,648h2v1h-2zM144,649h3v1h-3zM156,649h3v1h-3zM139,650h2v1h-2zM162,650h3v1h-3zM1118,650h3v1h-3zM138,651h1v1h-1zM0,652h3v1h-3zM132,652h3v1h-3zM168,652h2v1h-2zM584,652h1v1h-1zM1124,652h1v1h-1zM6,653h3v1h-3zM12,653h1v1h-1zM128,653h1v1h-1zM170,653h1v1h-1zM584,653h1v1h-1zM1125,653h2v1h-2zM13,654h2v1h-2zM18,654h3v1h-3zM126,654h2v1h-2zM583,654h1v1h-1zM24,655h3v1h-3zM122,655h1v1h-1zM174,655h2v1h-2zM1130,655h1v1h-1zM120,656h2v1h-2zM176,656h1v1h-1zM1131,656h2v1h-2zM180,657h1v1h-1zM30,658h3v1h-3zM116,658h1v1h-1zM181,658h2v1h-2zM581,658h1v1h-1zM36,659h3v1h-3zM114,659h2v1h-2zM581,659h1v1h-1zM1136,659h1v1h-1zM42,660h3v1h-3zM48,660h3v1h-3zM54,660h2v1h-2zM108,660h3v1h-3zM186,660h1v1h-1zM580,660h1v1h-1zM1137,660h1v1h-1zM56,661h1v1h-1zM60,661h3v1h-3zM66,661h3v1h-3zM104,661h1v1h-1zM187,661h2v1h-2zM1138,661h1v1h-1zM72,662h3v1h-3zM98,662h1v1h-1zM102,662h2v1h-2zM78,663h3v1h-3zM84,663h3v1h-3zM90,663h3v1h-3zM96,663h2v1h-2zM192,663h1v1h-1zM193,664h2v1h-2zM578,664h1v1h-1zM1142,664h1v1h-1zM578,665h1v1h-1zM1143,665h1v1h-1zM198,666h1v1h-1zM577,666h1v1h-1zM1144,666h1v1h-1zM199,667h2v1h-2zM204,669h1v1h-1zM1148,669h1v1h-1zM205,670h2v1h-2zM575,670h1v1h-1zM1149,670h1v1h-1zM575,671h1v1h-1zM1150,671h1v1h-1zM210,672h1v1h-1zM574,672h1v1h-1zM211,673h2v1h-2zM216,675h2v1h-2zM1154,675h1v1h-1zM218,676h1v1h-1zM572,676h1v1h-1zM1154,676h1v1h-1zM222,677h3v1h-3zM572,677h1v1h-1zM1155,677h1v1h-1zM228,678h3v1h-3zM234,678h1v1h-1zM246,678h3v1h-3zM252,678h3v1h-3zM258,678h3v1h-3zM264,678h3v1h-3zM270,678h3v1h-3zM276,678h3v1h-3zM282,678h3v1h-3zM288,678h3v1h-3zM294,678h3v1h-3zM300,678h3v1h-3zM306,678h3v1h-3zM312,678h1v1h-1zM571,678h1v1h-1zM235,679h2v1h-2zM240,679h3v1h-3zM313,679h2v1h-2zM318,681h3v1h-3zM1159,681h1v1h-1zM324,682h3v1h-3zM569,682h1v1h-1zM1160,682h1v1h-1zM330,683h3v1h-3zM569,683h1v1h-1zM1161,683h1v1h-1zM336,684h3v1h-3zM342,684h3v1h-3zM348,684h3v1h-3zM354,684h3v1h-3zM360,684h3v1h-3zM568,684h1v1h-1zM366,685h3v1h-3zM372,685h3v1h-3zM378,685h3v1h-3zM384,685h3v1h-3zM390,685h1v1h-1zM391,686h2v1h-2zM396,687h3v1h-3zM1165,687h1v1h-1zM402,688h2v1h-2zM566,688h1v1h-1zM1166,688h1v1h-1zM404,689h1v1h-1zM408,689h1v1h-1zM566,689h1v1h-1zM1167,689h1v1h-1zM409,690h2v1h-2zM565,690h1v1h-1zM414,691h1v1h-1zM415,692h2v1h-2zM420,693h1v1h-1zM1171,693h1v1h-1zM421,694h2v1h-2zM562,694h1v1h-1zM1172,694h1v1h-1zM562,695h1v1h-1zM1173,695h1v1h-1zM426,696h1v1h-1zM561,696h1v1h-1zM427,697h2v1h-2zM1177,698h1v1h-1zM1178,699h1v1h-1zM432,700h1v1h-1zM558,700h1v1h-1zM1179,700h1v1h-1zM433,701h2v1h-2zM557,701h1v1h-1zM556,702h1v1h-1zM438,703h1v1h-1zM1183,703h1v1h-1zM439,704h1v1h-1zM1184,704h2v1h-2zM440,705h1v1h-1zM554,706h1v1h-1zM553,707h1v1h-1zM1189,707h2v1h-2zM444,708h1v1h-1zM552,708h1v1h-1zM1191,708h1v1h-1zM445,709h1v1h-1zM446,710h1v1h-1zM1195,710h2v1h-2zM1197,711h1v1h-1zM550,712h1v1h-1zM450,713h2v1h-2zM549,713h1v1h-1zM1201,713h2v1h-2zM452,714h1v1h-1zM549,714h1v1h-1zM1203,714h1v1h-1zM1207,715h3v1h-3zM1213,716h3v1h-3zM1219,717h3v1h-3zM456,718h2v1h-2zM546,718h1v1h-1zM1225,718h3v1h-3zM1231,718h2v1h-2zM458,719h1v1h-1zM545,719h1v1h-1zM1233,719h1v1h-1zM1237,719h3v1h-3zM544,720h1v1h-1zM1243,720h3v1h-3zM1249,721h3v1h-3zM1255,721h2v1h-2zM1257,722h1v1h-1zM1261,722h1v1h-1zM462,723h2v1h-2zM1262,723h2v1h-2zM464,724h1v1h-1zM541,724h1v1h-1zM1267,724h3v1h-3zM540,725h1v1h-1zM539,726h1v1h-1zM1273,726h3v1h-3zM1279,727h2v1h-2zM468,728h1v1h-1zM1281,728h1v1h-1zM469,729h2v1h-2zM1285,729h3v1h-3zM536,730h1v1h-1zM1291,730h1v1h-1zM535,731h1v1h-1zM1292,731h2v1h-2zM534,732h1v1h-1zM1297,732h3v1h-3zM474,733h1v1h-1zM1303,733h3v1h-3zM1309,733h3v1h-3zM475,734h2v1h-2zM1315,734h3v1h-3zM529,736h2v1h-2zM480,737h1v1h-1zM528,737h1v1h-1zM481,738h2v1h-2zM486,740h1v1h-1zM487,741h2v1h-2zM523,741h2v1h-2zM522,742h1v1h-1zM492,744h2v1h-2zM517,744h2v1h-2zM494,745h1v1h-1zM516,745h1v1h-1zM498,746h1v1h-1zM512,746h1v1h-1zM499,747h2v1h-2zM510,747h2v1h-2zM504,748h3v1h-3z" fill="#ff0000" shape-rendering="crispEdges"/>
<text x="2.2" y="580.5" font-size="10" fill="#000" text-anchor="start" font-weight="normal" textLength="133.6" lengthAdjust="spacingAndGlyphs" >MACD(12,26,9) -0.3488 -0.3421</text>
<text x="1630.3" y="579.4" font-size="10" fill="#000" text-anchor="start" font-weight="normal" textLength="22.6" lengthAdjust="spacingAndGlyphs" >0.885</text>
<text x="1630.3" y="693.2" font-size="10" fill="#000" text-anchor="start" font-weight="normal" textLength="17.7" lengthAdjust="spacingAndGlyphs" >0.00</text>
<text x="1630.3" y="766.2" font-size="10" fill="#000" text-anchor="start" font-weight="normal" textLength="31" lengthAdjust="spacingAndGlyphs" >-0.5882</text>
<g shape-rendering="crispEdges">
<path d="M0,804h2v1h-2zM5,804h3v1h-3zM11,804h3v1h-3zM17,804h3v1h-3zM23,804h3v1h-3zM29,804h3v1h-3zM35,804h3v1h-3zM41,804h3v1h-3zM47,804h3v1h-3zM53,804h3v1h-3zM59,804h3v1h-3zM65,804h3v1h-3zM71,804h3v1h-3zM77,804h3v1h-3zM83,804h3v1h-3zM89,804h3v1h-3zM95,804h3v1h-3zM101,804h3v1h-3zM107,804h3v1h-3zM113,804h3v1h-3zM119,804h3v1h-3zM125,804h3v1h-3zM131,804h3v1h-3zM137,804h3v1h-3zM143,804h3v1h-3zM149,804h3v1h-3zM155,804h3v1h-3zM161,804h3v1h-3zM167,804h3v1h-3zM173,804h3v1h-3zM179,804h3v1h-3zM185,804h3v1h-3zM191,804h3v1h-3zM197,804h3v1h-3zM203,804h3v1h-3zM209,804h3v1h-3zM215,804h3v1h-3zM221,804h3v1h-3zM227,804h3v1h-3zM233,804h3v1h-3zM239,804h3v1h-3zM245,804h3v1h-3zM251,804h3v1h-3zM257,804h3v1h-3zM263,804h3v1h-3zM269,804h3v1h-3zM275,804h3v1h-3zM281,804h3v1h-3zM287,804h3v1h-3zM293,804h3v1h-3zM299,804h3v1h-3zM305,804h3v1h-3zM311,804h3v1h-3zM317,804h3v1h-3zM323,804h3v1h-3zM329,804h3v1h-3zM335,804h3v1h-3zM341,804h3v1h-3zM347,804h3v1h-3zM353,804h3v1h-3zM359,804h3v1h-3zM365,804h3v1h-3zM371,804h3v1h-3zM377,804h3v1h-3zM383,804h3v1h-3zM389,804h3v1h-3zM395,804h3v1h-3zM401,804h3v1h-3zM407,804h3v1h-3zM413,804h3v1h-3zM419,804h3v1h-3zM425,804h3v1h-3zM431,804h3v1h-3zM437,804h3v1h-3zM443,804h3v1h-3zM449,804h3v1h-3zM455,804h3v1h-3zM461,804h3v1h-3zM467,804h3v1h-3zM473,804h3v1h-3zM479,804h3v1h-3zM485,804h3v1h-3zM491,804h3v1h-3zM497,804h3v1h-3zM503,804h3v1h-3zM509,804h3v1h-3zM515,804h3v1h-3zM521,804h3v1h-3zM527,804h3v1h-3zM533,804h3v1h-3zM539,804h3v1h-3zM545,804h3v1h-3zM551,804h3v1h-3zM557,804h3v1h-3zM563,804h3v1h-3zM569,804h3v1h-3zM575,804h3v1h-3zM581,804h3v1h-3zM587,804h3v1h-3zM593,804h3v1h-3zM599,804h3v1h-3zM605,804h3v1h-3zM611,804h3v1h-3zM617,804h3v1h-3zM623,804h3v1h-3zM629,804h3v1h-3zM635,804h3v1h-3zM641,804h3v1h-3zM647,804h3v1h-3zM653,804h3v1h-3zM659,804h3v1h-3zM665,804h3v1h-3zM671,804h3v1h-3zM677,804h3v1h-3zM683,804h3v1h-3zM689,804h3v1h-3zM695,804h3v1h-3zM701,804h3v1h-3zM707,804h3v1h-3zM713,804h3v1h-3zM719,804h3v1h-3zM725,804h3v1h-3zM731,804h3v1h-3zM737,804h3v1h-3zM743,804h3v1h-3zM749,804h3v1h-3zM755,804h3v1h-3zM761,804h3v1h-3zM767,804h3v1h-3zM773,804h3v1h-3zM779,804h3v1h-3zM785,804h3v1h-3zM791,804h3v1h-3zM797,804h3v1h-3zM803,804h3v1h-3zM809,804h3v1h-3zM815,804h3v1h-3zM821,804h3v1h-3zM827,804h3v1h-3zM833,804h3v1h-3zM839,804h3v1h-3zM845,804h3v1h-3zM851,804h3v1h-3zM857,804h3v1h-3zM863,804h3v1h-3zM869,804h3v1h-3zM875,804h3v1h-3zM881,804h3v1h-3zM887,804h3v1h-3zM893,804h3v1h-3zM899,804h3v1h-3zM905,804h3v1h-3zM911,804h3v1h-3zM917,804h3v1h-3zM923,804h3v1h-3zM929,804h3v1h-3zM935,804h3v1h-3zM941,804h3v1h-3zM947,804h3v1h-3zM953,804h3v1h-3zM959,804h3v1h-3zM965,804h3v1h-3zM971,804h3v1h-3zM977,804h3v1h-3zM983,804h3v1h-3zM989,804h3v1h-3zM995,804h3v1h-3zM1001,804h3v1h-3zM1007,804h3v1h-3zM1013,804h3v1h-3zM1019,804h3v1h-3zM1025,804h3v1h-3zM1031,804h3v1h-3zM1037,804h3v1h-3zM1043,804h3v1h-3zM1049,804h3v1h-3zM1055,804h3v1h-3zM1061,804h3v1h-3zM1067,804h3v1h-3zM1073,804h3v1h-3zM1079,804h3v1h-3zM1085,804h3v1h-3zM1091,804h3v1h-3zM1097,804h3v1h-3zM1103,804h3v1h-3zM1109,804h3v1h-3zM1115,804h3v1h-3zM1121,804h3v1h-3zM1127,804h3v1h-3zM1133,804h3v1h-3zM1139,804h3v1h-3zM1145,804h3v1h-3zM1151,804h3v1h-3zM1157,804h3v1h-3zM1163,804h3v1h-3zM1169,804h3v1h-3zM1175,804h3v1h-3zM1181,804h3v1h-3zM1187,804h3v1h-3zM1193,804h3v1h-3zM1199,804h3v1h-3zM1205,804h3v1h-3zM1211,804h3v1h-3zM1217,804h3v1h-3zM1223,804h3v1h-3zM1229,804h3v1h-3zM1235,804h3v1h-3zM1241,804h3v1h-3zM1247,804h3v1h-3zM1253,804h3v1h-3zM1259,804h3v1h-3zM1265,804h3v1h-3zM1271,804h3v1h-3zM1277,804h3v1h-3zM1283,804h3v1h-3zM1289,804h3v1h-3zM1295,804h3v1h-3zM1301,804h3v1h-3zM1307,804h3v1h-3zM1313,804h3v1h-3zM1319,804h3v1h-3zM1325,804h3v1h-3zM1331,804h3v1h-3zM1337,804h3v1h-3zM1343,804h3v1h-3zM1349,804h3v1h-3zM1355,804h3v1h-3zM1361,804h3v1h-3zM1367,804h3v1h-3zM1373,804h3v1h-3zM1379,804h3v1h-3zM1385,804h3v1h-3zM1391,804h3v1h-3zM1397,804h3v1h-3zM1403,804h3v1h-3zM1409,804h3v1h-3zM1415,804h3v1h-3zM1421,804h3v1h-3zM1427,804h3v1h-3zM1433,804h3v1h-3zM1439,804h3v1h-3zM1445,804h3v1h-3zM1451,804h3v1h-3zM1457,804h3v1h-3zM1463,804h3v1h-3zM1469,804h3v1h-3zM1475,804h3v1h-3zM1481,804h3v1h-3zM1487,804h3v1h-3zM1493,804h3v1h-3zM1499,804h3v1h-3zM1505,804h3v1h-3zM1511,804h3v1h-3zM1517,804h3v1h-3zM1523,804h3v1h-3zM1529,804h3v1h-3zM1535,804h3v1h-3zM1541,804h3v1h-3zM1547,804h3v1h-3zM1553,804h3v1h-3zM1559,804h3v1h-3zM1565,804h3v1h-3zM1571,804h3v1h-3zM1577,804h3v1h-3zM1583,804h3v1h-3zM1589,804h3v1h-3zM1595,804h3v1h-3zM1601,804h3v1h-3zM1607,804h3v1h-3zM1613,804h3v1h-3zM1619,804h3v1h-3z" fill="#c0c0c0"/>
<path d="M0,851h2v1h-2zM5,851h3v1h-3zM11,851h3v1h-3zM17,851h3v1h-3zM23,851h3v1h-3zM29,851h3v1h-3zM35,851h3v1h-3zM41,851h3v1h-3zM47,851h3v1h-3zM53,851h3v1h-3zM59,851h3v1h-3zM65,851h3v1h-3zM71,851h3v1h-3zM77,851h3v1h-3zM83,851h3v1h-3zM89,851h3v1h-3zM95,851h3v1h-3zM101,851h3v1h-3zM107,851h3v1h-3zM113,851h3v1h-3zM119,851h3v1h-3zM125,851h3v1h-3zM131,851h3v1h-3zM137,851h3v1h-3zM143,851h3v1h-3zM149,851h3v1h-3zM155,851h3v1h-3zM161,851h3v1h-3zM167,851h3v1h-3zM173,851h3v1h-3zM179,851h3v1h-3zM185,851h3v1h-3zM191,851h3v1h-3zM197,851h3v1h-3zM203,851h3v1h-3zM209,851h3v1h-3zM215,851h3v1h-3zM221,851h3v1h-3zM227,851h3v1h-3zM233,851h3v1h-3zM239,851h3v1h-3zM245,851h3v1h-3zM251,851h3v1h-3zM257,851h3v1h-3zM263,851h3v1h-3zM269,851h3v1h-3zM275,851h3v1h-3zM281,851h3v1h-3zM287,851h3v1h-3zM293,851h3v1h-3zM299,851h3v1h-3zM305,851h3v1h-3zM311,851h3v1h-3zM317,851h3v1h-3zM323,851h3v1h-3zM329,851h3v1h-3zM335,851h3v1h-3zM341,851h3v1h-3zM347,851h3v1h-3zM353,851h3v1h-3zM359,851h3v1h-3zM365,851h3v1h-3zM371,851h3v1h-3zM377,851h3v1h-3zM383,851h3v1h-3zM389,851h3v1h-3zM395,851h3v1h-3zM401,851h3v1h-3zM407,851h3v1h-3zM413,851h3v1h-3zM419,851h3v1h-3zM425,851h3v1h-3zM431,851h3v1h-3zM437,851h3v1h-3zM443,851h3v1h-3zM449,851h3v1h-3zM455,851h3v1h-3zM461,851h3v1h-3zM467,851h3v1h-3zM473,851h3v1h-3zM479,851h3v1h-3zM485,851h3v1h-3zM491,851h3v1h-3zM497,851h3v1h-3zM503,851h3v1h-3zM509,851h3v1h-3zM515,851h3v1h-3zM521,851h3v1h-3zM527,851h3v1h-3zM533,851h3v1h-3zM539,851h3v1h-3zM545,851h3v1h-3zM551,851h3v1h-3zM557,851h3v1h-3zM563,851h3v1h-3zM569,851h3v1h-3zM575,851h3v1h-3zM581,851h3v1h-3zM587,851h3v1h-3zM593,851h3v1h-3zM599,851h3v1h-3zM605,851h3v1h-3zM611,851h3v1h-3zM617,851h3v1h-3zM623,851h3v1h-3zM629,851h3v1h-3zM635,851h3v1h-3zM641,851h3v1h-3zM647,851h3v1h-3zM653,851h3v1h-3zM659,851h3v1h-3zM665,851h3v1h-3zM671,851h3v1h-3zM677,851h3v1h-3zM683,851h3v1h-3zM689,851h3v1h-3zM695,851h3v1h-3zM701,851h3v1h-3zM707,851h3v1h-3zM713,851h3v1h-3zM719,851h3v1h-3zM725,851h3v1h-3zM731,851h3v1h-3zM737,851h3v1h-3zM743,851h3v1h-3zM749,851h3v1h-3zM755,851h3v1h-3zM761,851h3v1h-3zM767,851h3v1h-3zM773,851h3v1h-3zM779,851h3v1h-3zM785,851h3v1h-3zM791,851h3v1h-3zM797,851h3v1h-3zM803,851h3v1h-3zM809,851h3v1h-3zM815,851h3v1h-3zM821,851h3v1h-3zM827,851h3v1h-3zM833,851h3v1h-3zM839,851h3v1h-3zM845,851h3v1h-3zM851,851h3v1h-3zM857,851h3v1h-3zM863,851h3v1h-3zM869,851h3v1h-3zM875,851h3v1h-3zM881,851h3v1h-3zM887,851h3v1h-3zM893,851h3v1h-3zM899,851h3v1h-3zM905,851h3v1h-3zM911,851h3v1h-3zM917,851h3v1h-3zM923,851h3v1h-3zM929,851h3v1h-3zM935,851h3v1h-3zM941,851h3v1h-3zM947,851h3v1h-3zM953,851h3v1h-3zM959,851h3v1h-3zM965,851h3v1h-3zM971,851h3v1h-3zM977,851h3v1h-3zM983,851h3v1h-3zM989,851h3v1h-3zM995,851h3v1h-3zM1001,851h3v1h-3zM1007,851h3v1h-3zM1013,851h3v1h-3zM1019,851h3v1h-3zM1025,851h3v1h-3zM1031,851h3v1h-3zM1037,851h3v1h-3zM1043,851h3v1h-3zM1049,851h3v1h-3zM1055,851h3v1h-3zM1061,851h3v1h-3zM1067,851h3v1h-3zM1073,851h3v1h-3zM1079,851h3v1h-3zM1085,851h3v1h-3zM1091,851h3v1h-3zM1097,851h3v1h-3zM1103,851h3v1h-3zM1109,851h3v1h-3zM1115,851h3v1h-3zM1121,851h3v1h-3zM1127,851h3v1h-3zM1133,851h3v1h-3zM1139,851h3v1h-3zM1145,851h3v1h-3zM1151,851h3v1h-3zM1157,851h3v1h-3zM1163,851h3v1h-3zM1169,851h3v1h-3zM1175,851h3v1h-3zM1181,851h3v1h-3zM1187,851h3v1h-3zM1193,851h3v1h-3zM1199,851h3v1h-3zM1205,851h3v1h-3zM1211,851h3v1h-3zM1217,851h3v1h-3zM1223,851h3v1h-3zM1229,851h3v1h-3zM1235,851h3v1h-3zM1241,851h3v1h-3zM1247,851h3v1h-3zM1253,851h3v1h-3zM1259,851h3v1h-3zM1265,851h3v1h-3zM1271,851h3v1h-3zM1277,851h3v1h-3zM1283,851h3v1h-3zM1289,851h3v1h-3zM1295,851h3v1h-3zM1301,851h3v1h-3zM1307,851h3v1h-3zM1313,851h3v1h-3zM1319,851h3v1h-3zM1325,851h3v1h-3zM1331,851h3v1h-3zM1337,851h3v1h-3zM1343,851h3v1h-3zM1349,851h3v1h-3zM1355,851h3v1h-3zM1361,851h3v1h-3zM1367,851h3v1h-3zM1373,851h3v1h-3zM1379,851h3v1h-3zM1385,851h3v1h-3zM1391,851h3v1h-3zM1397,851h3v1h-3zM1403,851h3v1h-3zM1409,851h3v1h-3zM1415,851h3v1h-3zM1421,851h3v1h-3zM1427,851h3v1h-3zM1433,851h3v1h-3zM1439,851h3v1h-3zM1445,851h3v1h-3zM1451,851h3v1h-3zM1457,851h3v1h-3zM1463,851h3v1h-3zM1469,851h3v1h-3zM1475,851h3v1h-3zM1481,851h3v1h-3zM1487,851h3v1h-3zM1493,851h3v1h-3zM1499,851h3v1h-3zM1505,851h3v1h-3zM1511,851h3v1h-3zM1517,851h3v1h-3zM1523,851h3v1h-3zM1529,851h3v1h-3zM1535,851h3v1h-3zM1541,851h3v1h-3zM1547,851h3v1h-3zM1553,851h3v1h-3zM1559,851h3v1h-3zM1565,851h3v1h-3zM1571,851h3v1h-3zM1577,851h3v1h-3zM1583,851h3v1h-3zM1589,851h3v1h-3zM1595,851h3v1h-3zM1601,851h3v1h-3zM1607,851h3v1h-3zM1613,851h3v1h-3zM1619,851h3v1h-3z" fill="#c0c0c0"/>
<path d="M0,907h2v1h-2zM5,907h3v1h-3zM11,907h3v1h-3zM17,907h3v1h-3zM23,907h3v1h-3zM29,907h3v1h-3zM35,907h3v1h-3zM41,907h3v1h-3zM47,907h3v1h-3zM53,907h3v1h-3zM59,907h3v1h-3zM65,907h3v1h-3zM71,907h3v1h-3zM77,907h3v1h-3zM83,907h3v1h-3zM89,907h3v1h-3zM95,907h3v1h-3zM101,907h3v1h-3zM107,907h3v1h-3zM113,907h3v1h-3zM119,907h3v1h-3zM125,907h3v1h-3zM131,907h3v1h-3zM137,907h3v1h-3zM143,907h3v1h-3zM149,907h3v1h-3zM155,907h3v1h-3zM161,907h3v1h-3zM167,907h3v1h-3zM173,907h3v1h-3zM179,907h3v1h-3zM185,907h3v1h-3zM191,907h3v1h-3zM197,907h3v1h-3zM203,907h3v1h-3zM209,907h3v1h-3zM215,907h3v1h-3zM221,907h3v1h-3zM227,907h3v1h-3zM233,907h3v1h-3zM239,907h3v1h-3zM245,907h3v1h-3zM251,907h3v1h-3zM257,907h3v1h-3zM263,907h3v1h-3zM269,907h3v1h-3zM275,907h3v1h-3zM281,907h3v1h-3zM287,907h3v1h-3zM293,907h3v1h-3zM299,907h3v1h-3zM305,907h3v1h-3zM311,907h3v1h-3zM317,907h3v1h-3zM323,907h3v1h-3zM329,907h3v1h-3zM335,907h3v1h-3zM341,907h3v1h-3zM347,907h3v1h-3zM353,907h3v1h-3zM359,907h3v1h-3zM365,907h3v1h-3zM371,907h3v1h-3zM377,907h3v1h-3zM383,907h3v1h-3zM389,907h3v1h-3zM395,907h3v1h-3zM401,907h3v1h-3zM407,907h3v1h-3zM413,907h3v1h-3zM419,907h3v1h-3zM425,907h3v1h-3zM431,907h3v1h-3zM437,907h3v1h-3zM443,907h3v1h-3zM449,907h3v1h-3zM455,907h3v1h-3zM461,907h3v1h-3zM467,907h3v1h-3zM473,907h3v1h-3zM479,907h3v1h-3zM485,907h3v1h-3zM491,907h3v1h-3zM497,907h3v1h-3zM503,907h3v1h-3zM509,907h3v1h-3zM515,907h3v1h-3zM521,907h3v1h-3zM527,907h3v1h-3zM533,907h3v1h-3zM539,907h3v1h-3zM545,907h3v1h-3zM551,907h3v1h-3zM557,907h3v1h-3zM563,907h3v1h-3zM569,907h3v1h-3zM575,907h3v1h-3zM581,907h3v1h-3zM587,907h3v1h-3zM593,907h3v1h-3zM599,907h3v1h-3zM605,907h3v1h-3zM611,907h3v1h-3zM617,907h3v1h-3zM623,907h3v1h-3zM629,907h3v1h-3zM635,907h3v1h-3zM641,907h3v1h-3zM647,907h3v1h-3zM653,907h3v1h-3zM659,907h3v1h-3zM665,907h3v1h-3zM671,907h3v1h-3zM677,907h3v1h-3zM683,907h3v1h-3zM689,907h3v1h-3zM695,907h3v1h-3zM701,907h3v1h-3zM707,907h3v1h-3zM713,907h3v1h-3zM719,907h3v1h-3zM725,907h3v1h-3zM731,907h3v1h-3zM737,907h3v1h-3zM743,907h3v1h-3zM749,907h3v1h-3zM755,907h3v1h-3zM761,907h3v1h-3zM767,907h3v1h-3zM773,907h3v1h-3zM779,907h3v1h-3zM785,907h3v1h-3zM791,907h3v1h-3zM797,907h3v1h-3zM803,907h3v1h-3zM809,907h3v1h-3zM815,907h3v1h-3zM821,907h3v1h-3zM827,907h3v1h-3zM833,907h3v1h-3zM839,907h3v1h-3zM845,907h3v1h-3zM851,907h3v1h-3zM857,907h3v1h-3zM863,907h3v1h-3zM869,907h3v1h-3zM875,907h3v1h-3zM881,907h3v1h-3zM887,907h3v1h-3zM893,907h3v1h-3zM899,907h3v1h-3zM905,907h3v1h-3zM911,907h3v1h-3zM917,907h3v1h-3zM923,907h3v1h-3zM929,907h3v1h-3zM935,907h3v1h-3zM941,907h3v1h-3zM947,907h3v1h-3zM953,907h3v1h-3zM959,907h3v1h-3zM965,907h3v1h-3zM971,907h3v1h-3zM977,907h3v1h-3zM983,907h3v1h-3zM989,907h3v1h-3zM995,907h3v1h-3zM1001,907h3v1h-3zM1007,907h3v1h-3zM1013,907h3v1h-3zM1019,907h3v1h-3zM1025,907h3v1h-3zM1031,907h3v1h-3zM1037,907h3v1h-3zM1043,907h3v1h-3zM1049,907h3v1h-3zM1055,907h3v1h-3zM1061,907h3v1h-3zM1067,907h3v1h-3zM1073,907h3v1h-3zM1079,907h3v1h-3zM1085,907h3v1h-3zM1091,907h3v1h-3zM1097,907h3v1h-3zM1103,907h3v1h-3zM1109,907h3v1h-3zM1115,907h3v1h-3zM1121,907h3v1h-3zM1127,907h3v1h-3zM1133,907h3v1h-3zM1139,907h3v1h-3zM1145,907h3v1h-3zM1151,907h3v1h-3zM1157,907h3v1h-3zM1163,907h3v1h-3zM1169,907h3v1h-3zM1175,907h3v1h-3zM1181,907h3v1h-3zM1187,907h3v1h-3zM1193,907h3v1h-3zM1199,907h3v1h-3zM1205,907h3v1h-3zM1211,907h3v1h-3zM1217,907h3v1h-3zM1223,907h3v1h-3zM1229,907h3v1h-3zM1235,907h3v1h-3zM1241,907h3v1h-3zM1247,907h3v1h-3zM1253,907h3v1h-3zM1259,907h3v1h-3zM1265,907h3v1h-3zM1271,907h3v1h-3zM1277,907h3v1h-3zM1283,907h3v1h-3zM1289,907h3v1h-3zM1295,907h3v1h-3zM1301,907h3v1h-3zM1307,907h3v1h-3zM1313,907h3v1h-3zM1319,907h3v1h-3zM1325,907h3v1h-3zM1331,907h3v1h-3zM1337,907h3v1h-3zM1343,907h3v1h-3zM1349,907h3v1h-3zM1355,907h3v1h-3zM1361,907h3v1h-3zM1367,907h3v1h-3zM1373,907h3v1h-3zM1379,907h3v1h-3zM1385,907h3v1h-3zM1391,907h3v1h-3zM1397,907h3v1h-3zM1403,907h3v1h-3zM1409,907h3v1h-3zM1415,907h3v1h-3zM1421,907h3v1h-3zM1427,907h3v1h-3zM1433,907h3v1h-3zM1439,907h3v1h-3zM1445,907h3v1h-3zM1451,907h3v1h-3zM1457,907h3v1h-3zM1463,907h3v1h-3zM1469,907h3v1h-3zM1475,907h3v1h-3zM1481,907h3v1h-3zM1487,907h3v1h-3zM1493,907h3v1h-3zM1499,907h3v1h-3zM1505,907h3v1h-3zM1511,907h3v1h-3zM1517,907h3v1h-3zM1523,907h3v1h-3zM1529,907h3v1h-3zM1535,907h3v1h-3zM1541,907h3v1h-3zM1547,907h3v1h-3zM1553,907h3v1h-3zM1559,907h3v1h-3zM1565,907h3v1h-3zM1571,907h3v1h-3zM1577,907h3v1h-3zM1583,907h3v1h-3zM1589,907h3v1h-3zM1595,907h3v1h-3zM1601,907h3v1h-3zM1607,907h3v1h-3zM1613,907h3v1h-3zM1619,907h3v1h-3z" fill="#c0c0c0"/>
</g>
<path d="M869,806h2v1h-2zM865,807h4v1h-4zM871,807h1v1h-1zM572,808h27v1h-27zM862,808h3v1h-3zM871,808h1v1h-1zM570,809h2v1h-2zM599,809h1v1h-1zM860,809h2v1h-2zM872,809h1v1h-1zM568,810h2v1h-2zM600,810h1v1h-1zM858,810h2v1h-2zM873,810h1v1h-1zM566,811h2v1h-2zM601,811h1v1h-1zM856,811h2v1h-2zM874,811h1v1h-1zM565,812h1v1h-1zM602,812h1v1h-1zM749,812h2v1h-2zM854,812h2v1h-2zM874,812h1v1h-1zM565,813h1v1h-1zM602,813h1v1h-1zM669,813h2v1h-2zM747,813h2v1h-2zM751,813h1v1h-1zM852,813h2v1h-2zM875,813h1v1h-1zM564,814h1v1h-1zM603,814h1v1h-1zM667,814h2v1h-2zM671,814h2v1h-2zM745,814h2v1h-2zM751,814h1v1h-1zM851,814h1v1h-1zM876,814h1v1h-1zM563,815h1v1h-1zM604,815h1v1h-1zM665,815h2v1h-2zM673,815h1v1h-1zM690,815h5v1h-5zM741,815h4v1h-4zM752,815h1v1h-1zM849,815h2v1h-2zM877,815h1v1h-1zM562,816h1v1h-1zM605,816h1v1h-1zM663,816h2v1h-2zM674,816h2v1h-2zM684,816h6v1h-6zM695,816h1v1h-1zM735,816h6v1h-6zM752,816h1v1h-1zM848,816h1v1h-1zM877,816h1v1h-1zM562,817h1v1h-1zM606,817h9v1h-9zM662,817h1v1h-1zM676,817h2v1h-2zM680,817h4v1h-4zM695,817h1v1h-1zM730,817h5v1h-5zM753,817h1v1h-1zM847,817h1v1h-1zM878,817h1v1h-1zM561,818h1v1h-1zM615,818h1v1h-1zM662,818h1v1h-1zM678,818h2v1h-2zM696,818h1v1h-1zM726,818h4v1h-4zM754,818h1v1h-1zM846,818h1v1h-1zM879,818h2v1h-2zM560,819h1v1h-1zM616,819h1v1h-1zM661,819h1v1h-1zM696,819h1v1h-1zM724,819h2v1h-2zM754,819h1v1h-1zM845,819h1v1h-1zM881,819h1v1h-1zM964,819h3v1h-3zM97,820h15v1h-15zM559,820h1v1h-1zM616,820h1v1h-1zM661,820h1v1h-1zM697,820h1v1h-1zM722,820h2v1h-2zM755,820h1v1h-1zM844,820h1v1h-1zM882,820h2v1h-2zM960,820h4v1h-4zM967,820h3v1h-3zM94,821h3v1h-3zM112,821h2v1h-2zM559,821h1v1h-1zM617,821h1v1h-1zM660,821h1v1h-1zM697,821h1v1h-1zM720,821h2v1h-2zM756,821h1v1h-1zM786,821h5v1h-5zM843,821h1v1h-1zM884,821h2v1h-2zM958,821h2v1h-2zM970,821h3v1h-3zM94,822h1v1h-1zM114,822h3v1h-3zM549,822h10v1h-10zM618,822h1v1h-1zM660,822h1v1h-1zM698,822h1v1h-1zM714,822h6v1h-6zM756,822h1v1h-1zM780,822h6v1h-6zM791,822h1v1h-1zM842,822h1v1h-1zM886,822h2v1h-2zM957,822h1v1h-1zM973,822h3v1h-3zM93,823h1v1h-1zM117,823h2v1h-2zM547,823h2v1h-2zM619,823h1v1h-1zM659,823h1v1h-1zM699,823h1v1h-1zM710,823h4v1h-4zM757,823h1v1h-1zM778,823h2v1h-2zM791,823h1v1h-1zM841,823h1v1h-1zM888,823h2v1h-2zM957,823h1v1h-1zM976,823h4v1h-4zM1014,823h1v1h-1zM93,824h1v1h-1zM119,824h1v1h-1zM545,824h2v1h-2zM620,824h1v1h-1zM659,824h1v1h-1zM699,824h1v1h-1zM708,824h2v1h-2zM757,824h1v1h-1zM776,824h2v1h-2zM792,824h1v1h-1zM840,824h1v1h-1zM890,824h3v1h-3zM956,824h1v1h-1zM980,824h4v1h-4zM1013,824h1v1h-1zM1015,824h2v1h-2zM92,825h1v1h-1zM120,825h1v1h-1zM134,825h1v1h-1zM543,825h2v1h-2zM620,825h1v1h-1zM658,825h1v1h-1zM700,825h1v1h-1zM707,825h1v1h-1zM758,825h1v1h-1zM774,825h2v1h-2zM793,825h1v1h-1zM839,825h1v1h-1zM893,825h2v1h-2zM956,825h1v1h-1zM984,825h2v1h-2zM1012,825h1v1h-1zM1017,825h1v1h-1zM92,826h1v1h-1zM121,826h1v1h-1zM133,826h2v1h-2zM539,826h4v1h-4zM621,826h1v1h-1zM658,826h1v1h-1zM700,826h1v1h-1zM706,826h1v1h-1zM759,826h2v1h-2zM772,826h2v1h-2zM793,826h1v1h-1zM814,826h4v1h-4zM836,826h3v1h-3zM895,826h1v1h-1zM955,826h1v1h-1zM986,826h2v1h-2zM1011,826h1v1h-1zM1018,826h2v1h-2zM91,827h1v1h-1zM122,827h1v1h-1zM132,827h1v1h-1zM134,827h1v1h-1zM535,827h4v1h-4zM622,827h17v1h-17zM657,827h1v1h-1zM701,827h1v1h-1zM704,827h2v1h-2zM761,827h2v1h-2zM770,827h2v1h-2zM794,827h1v1h-1zM813,827h1v1h-1zM818,827h8v1h-8zM832,827h4v1h-4zM896,827h1v1h-1zM955,827h1v1h-1zM988,827h2v1h-2zM1010,827h1v1h-1zM1020,827h2v1h-2zM1085,827h2v1h-2zM91,828h1v1h-1zM122,828h1v1h-1zM130,828h2v1h-2zM135,828h1v1h-1zM534,828h1v1h-1zM639,828h2v1h-2zM657,828h1v1h-1zM701,828h1v1h-1zM703,828h1v1h-1zM763,828h2v1h-2zM768,828h2v1h-2zM795,828h1v1h-1zM813,828h1v1h-1zM826,828h6v1h-6zM896,828h1v1h-1zM954,828h1v1h-1zM990,828h1v1h-1zM1010,828h1v1h-1zM1022,828h1v1h-1zM1083,828h2v1h-2zM1086,828h1v1h-1zM90,829h1v1h-1zM123,829h1v1h-1zM129,829h1v1h-1zM135,829h1v1h-1zM533,829h1v1h-1zM641,829h1v1h-1zM656,829h1v1h-1zM702,829h1v1h-1zM765,829h3v1h-3zM795,829h1v1h-1zM812,829h1v1h-1zM897,829h1v1h-1zM924,829h3v1h-3zM953,829h1v1h-1zM991,829h1v1h-1zM1009,829h1v1h-1zM1022,829h1v1h-1zM1081,829h2v1h-2zM1087,829h1v1h-1zM90,830h1v1h-1zM124,830h1v1h-1zM128,830h1v1h-1zM135,830h1v1h-1zM532,830h1v1h-1zM642,830h2v1h-2zM656,830h1v1h-1zM796,830h1v1h-1zM812,830h1v1h-1zM898,830h1v1h-1zM920,830h4v1h-4zM927,830h2v1h-2zM953,830h1v1h-1zM992,830h1v1h-1zM1008,830h1v1h-1zM1023,830h1v1h-1zM1079,830h2v1h-2zM1087,830h1v1h-1zM89,831h1v1h-1zM125,831h1v1h-1zM127,831h1v1h-1zM135,831h1v1h-1zM530,831h2v1h-2zM644,831h1v1h-1zM655,831h1v1h-1zM797,831h1v1h-1zM811,831h1v1h-1zM899,831h1v1h-1zM917,831h3v1h-3zM929,831h1v1h-1zM952,831h1v1h-1zM993,831h1v1h-1zM1007,831h1v1h-1zM1023,831h1v1h-1zM1076,831h3v1h-3zM1087,831h1v1h-1zM89,832h1v1h-1zM126,832h1v1h-1zM136,832h1v1h-1zM529,832h1v1h-1zM645,832h2v1h-2zM655,832h1v1h-1zM797,832h1v1h-1zM810,832h1v1h-1zM900,832h1v1h-1zM915,832h2v1h-2zM930,832h2v1h-2zM952,832h1v1h-1zM994,832h1v1h-1zM1005,832h2v1h-2zM1024,832h1v1h-1zM1072,832h4v1h-4zM1088,832h1v1h-1zM88,833h1v1h-1zM136,833h1v1h-1zM528,833h1v1h-1zM647,833h8v1h-8zM798,833h1v1h-1zM810,833h1v1h-1zM900,833h1v1h-1zM913,833h2v1h-2zM932,833h2v1h-2zM951,833h1v1h-1zM995,833h1v1h-1zM1003,833h2v1h-2zM1024,833h1v1h-1zM1066,833h6v1h-6zM1088,833h1v1h-1zM88,834h1v1h-1zM136,834h1v1h-1zM527,834h1v1h-1zM799,834h1v1h-1zM809,834h1v1h-1zM901,834h1v1h-1zM911,834h2v1h-2zM934,834h1v1h-1zM951,834h1v1h-1zM996,834h1v1h-1zM1001,834h2v1h-2zM1024,834h1v1h-1zM1062,834h4v1h-4zM1089,834h1v1h-1zM87,835h1v1h-1zM136,835h1v1h-1zM519,835h8v1h-8zM800,835h2v1h-2zM808,835h1v1h-1zM902,835h9v1h-9zM935,835h1v1h-1zM950,835h1v1h-1zM997,835h1v1h-1zM999,835h2v1h-2zM1025,835h1v1h-1zM1061,835h1v1h-1zM1089,835h1v1h-1zM22,836h1v1h-1zM87,836h1v1h-1zM137,836h1v1h-1zM518,836h1v1h-1zM802,836h1v1h-1zM808,836h1v1h-1zM936,836h2v1h-2zM948,836h2v1h-2zM998,836h1v1h-1zM1025,836h1v1h-1zM1060,836h1v1h-1zM1089,836h1v1h-1zM20,837h2v1h-2zM23,837h1v1h-1zM86,837h1v1h-1zM137,837h1v1h-1zM517,837h1v1h-1zM803,837h1v1h-1zM807,837h1v1h-1zM938,837h1v1h-1zM946,837h2v1h-2zM1025,837h1v1h-1zM1059,837h1v1h-1zM1090,837h1v1h-1zM18,838h2v1h-2zM24,838h2v1h-2zM86,838h1v1h-1zM137,838h1v1h-1zM516,838h1v1h-1zM804,838h2v1h-2zM807,838h1v1h-1zM939,838h1v1h-1zM945,838h1v1h-1zM1026,838h1v1h-1zM1058,838h1v1h-1zM1090,838h1v1h-1zM17,839h1v1h-1zM26,839h1v1h-1zM85,839h1v1h-1zM137,839h1v1h-1zM514,839h2v1h-2zM806,839h1v1h-1zM940,839h2v1h-2zM943,839h2v1h-2zM1026,839h1v1h-1zM1058,839h1v1h-1zM1090,839h1v1h-1zM15,840h2v1h-2zM27,840h1v1h-1zM84,840h1v1h-1zM137,840h1v1h-1zM513,840h1v1h-1zM942,840h1v1h-1zM1027,840h1v1h-1zM1057,840h1v1h-1zM1091,840h1v1h-1zM0,841h15v1h-15zM28,841h2v1h-2zM45,841h4v1h-4zM83,841h1v1h-1zM138,841h1v1h-1zM512,841h1v1h-1zM1027,841h1v1h-1zM1056,841h1v1h-1zM1091,841h1v1h-1zM30,842h2v1h-2zM43,842h2v1h-2zM49,842h14v1h-14zM82,842h1v1h-1zM138,842h1v1h-1zM237,842h3v1h-3zM511,842h1v1h-1zM1027,842h1v1h-1zM1055,842h1v1h-1zM1091,842h1v1h-1zM32,843h2v1h-2zM41,843h2v1h-2zM63,843h1v1h-1zM82,843h1v1h-1zM138,843h1v1h-1zM235,843h2v1h-2zM240,843h4v1h-4zM510,843h1v1h-1zM1028,843h1v1h-1zM1038,843h1v1h-1zM1053,843h2v1h-2zM1092,843h1v1h-1zM34,844h3v1h-3zM39,844h2v1h-2zM64,844h1v1h-1zM81,844h1v1h-1zM138,844h1v1h-1zM233,844h2v1h-2zM244,844h6v1h-6zM258,844h5v1h-5zM330,844h6v1h-6zM509,844h1v1h-1zM1028,844h1v1h-1zM1036,844h2v1h-2zM1039,844h2v1h-2zM1051,844h2v1h-2zM1092,844h1v1h-1zM37,845h2v1h-2zM65,845h1v1h-1zM80,845h1v1h-1zM139,845h1v1h-1zM231,845h2v1h-2zM250,845h8v1h-8zM263,845h1v1h-1zM326,845h4v1h-4zM336,845h2v1h-2zM509,845h1v1h-1zM1028,845h1v1h-1zM1035,845h1v1h-1zM1041,845h2v1h-2zM1049,845h2v1h-2zM1093,845h1v1h-1zM66,846h2v1h-2zM79,846h1v1h-1zM139,846h1v1h-1zM229,846h2v1h-2zM264,846h2v1h-2zM325,846h1v1h-1zM338,846h2v1h-2zM508,846h1v1h-1zM1029,846h1v1h-1zM1034,846h1v1h-1zM1043,846h2v1h-2zM1047,846h2v1h-2zM1093,846h1v1h-1zM68,847h1v1h-1zM77,847h2v1h-2zM139,847h1v1h-1zM195,847h5v1h-5zM227,847h2v1h-2zM266,847h1v1h-1zM324,847h1v1h-1zM340,847h2v1h-2zM508,847h1v1h-1zM1029,847h1v1h-1zM1032,847h2v1h-2zM1045,847h2v1h-2zM1093,847h1v1h-1zM69,848h1v1h-1zM75,848h2v1h-2zM139,848h1v1h-1zM178,848h17v1h-17zM200,848h2v1h-2zM225,848h2v1h-2zM267,848h1v1h-1zM324,848h1v1h-1zM342,848h5v1h-5zM507,848h1v1h-1zM1030,848h2v1h-2zM1094,848h1v1h-1zM70,849h1v1h-1zM73,849h2v1h-2zM139,849h1v1h-1zM173,849h5v1h-5zM202,849h3v1h-3zM223,849h2v1h-2zM268,849h2v1h-2zM286,849h4v1h-4zM323,849h1v1h-1zM347,849h8v1h-8zM363,849h5v1h-5zM507,849h1v1h-1zM1030,849h1v1h-1zM1094,849h4v1h-4zM71,850h2v1h-2zM140,850h1v1h-1zM169,850h4v1h-4zM205,850h2v1h-2zM222,850h1v1h-1zM270,850h1v1h-1zM285,850h1v1h-1zM290,850h12v1h-12zM322,850h1v1h-1zM355,850h8v1h-8zM368,850h2v1h-2zM506,850h1v1h-1zM1098,850h5v1h-5zM1190,850h1v1h-1zM140,851h1v1h-1zM166,851h3v1h-3zM207,851h1v1h-1zM221,851h1v1h-1zM271,851h1v1h-1zM285,851h1v1h-1zM302,851h1v1h-1zM321,851h1v1h-1zM370,851h2v1h-2zM506,851h1v1h-1zM1103,851h1v1h-1zM1190,851h2v1h-2zM140,852h1v1h-1zM166,852h1v1h-1zM208,852h1v1h-1zM220,852h1v1h-1zM271,852h1v1h-1zM284,852h1v1h-1zM303,852h1v1h-1zM320,852h1v1h-1zM372,852h2v1h-2zM505,852h1v1h-1zM1104,852h1v1h-1zM1189,852h1v1h-1zM1192,852h1v1h-1zM140,853h1v1h-1zM165,853h1v1h-1zM208,853h1v1h-1zM220,853h1v1h-1zM272,853h1v1h-1zM284,853h1v1h-1zM304,853h1v1h-1zM320,853h1v1h-1zM374,853h1v1h-1zM505,853h1v1h-1zM1104,853h1v1h-1zM1189,853h1v1h-1zM1193,853h1v1h-1zM141,854h1v1h-1zM150,854h1v1h-1zM165,854h1v1h-1zM209,854h1v1h-1zM219,854h1v1h-1zM273,854h1v1h-1zM283,854h1v1h-1zM305,854h2v1h-2zM319,854h1v1h-1zM375,854h1v1h-1zM504,854h1v1h-1zM1105,854h1v1h-1zM1188,854h1v1h-1zM1194,854h1v1h-1zM141,855h1v1h-1zM148,855h2v1h-2zM151,855h1v1h-1zM164,855h1v1h-1zM210,855h1v1h-1zM218,855h1v1h-1zM273,855h1v1h-1zM282,855h1v1h-1zM307,855h1v1h-1zM317,855h2v1h-2zM376,855h1v1h-1zM504,855h1v1h-1zM1106,855h1v1h-1zM1126,855h1v1h-1zM1188,855h1v1h-1zM1194,855h1v1h-1zM141,856h1v1h-1zM147,856h1v1h-1zM151,856h1v1h-1zM164,856h1v1h-1zM211,856h1v1h-1zM217,856h1v1h-1zM274,856h1v1h-1zM282,856h1v1h-1zM308,856h1v1h-1zM314,856h3v1h-3zM377,856h2v1h-2zM503,856h1v1h-1zM1107,856h1v1h-1zM1124,856h2v1h-2zM1127,856h1v1h-1zM1187,856h1v1h-1zM1195,856h1v1h-1zM141,857h1v1h-1zM146,857h1v1h-1zM152,857h1v1h-1zM163,857h1v1h-1zM212,857h1v1h-1zM216,857h1v1h-1zM275,857h1v1h-1zM281,857h1v1h-1zM309,857h1v1h-1zM312,857h2v1h-2zM379,857h1v1h-1zM503,857h1v1h-1zM1108,857h1v1h-1zM1123,857h1v1h-1zM1127,857h1v1h-1zM1187,857h1v1h-1zM1196,857h1v1h-1zM142,858h1v1h-1zM144,858h2v1h-2zM152,858h1v1h-1zM163,858h1v1h-1zM212,858h1v1h-1zM216,858h1v1h-1zM275,858h1v1h-1zM280,858h1v1h-1zM310,858h2v1h-2zM380,858h1v1h-1zM502,858h1v1h-1zM1108,858h1v1h-1zM1122,858h1v1h-1zM1128,858h1v1h-1zM1186,858h1v1h-1zM1197,858h1v1h-1zM142,859h2v1h-2zM153,859h1v1h-1zM162,859h1v1h-1zM213,859h1v1h-1zM215,859h1v1h-1zM276,859h1v1h-1zM280,859h1v1h-1zM381,859h1v1h-1zM502,859h1v1h-1zM1109,859h1v1h-1zM1120,859h2v1h-2zM1128,859h1v1h-1zM1186,859h1v1h-1zM1198,859h2v1h-2zM142,860h1v1h-1zM154,860h1v1h-1zM162,860h1v1h-1zM214,860h1v1h-1zM277,860h1v1h-1zM279,860h1v1h-1zM382,860h2v1h-2zM501,860h1v1h-1zM1110,860h4v1h-4zM1119,860h1v1h-1zM1129,860h1v1h-1zM1185,860h1v1h-1zM1200,860h4v1h-4zM1210,860h8v1h-8zM154,861h1v1h-1zM161,861h1v1h-1zM277,861h1v1h-1zM279,861h1v1h-1zM384,861h3v1h-3zM500,861h1v1h-1zM1114,861h5v1h-5zM1129,861h1v1h-1zM1185,861h1v1h-1zM1204,861h6v1h-6zM1218,861h5v1h-5zM155,862h1v1h-1zM161,862h1v1h-1zM278,862h1v1h-1zM387,862h3v1h-3zM499,862h1v1h-1zM1130,862h1v1h-1zM1184,862h1v1h-1zM1223,862h1v1h-1zM156,863h1v1h-1zM160,863h1v1h-1zM390,863h3v1h-3zM498,863h1v1h-1zM1130,863h1v1h-1zM1184,863h1v1h-1zM1224,863h2v1h-2zM156,864h1v1h-1zM160,864h1v1h-1zM393,864h2v1h-2zM485,864h3v1h-3zM497,864h1v1h-1zM1131,864h1v1h-1zM1183,864h1v1h-1zM1226,864h1v1h-1zM157,865h1v1h-1zM159,865h1v1h-1zM395,865h3v1h-3zM403,865h4v1h-4zM483,865h2v1h-2zM488,865h2v1h-2zM496,865h1v1h-1zM1131,865h1v1h-1zM1166,865h2v1h-2zM1183,865h1v1h-1zM1227,865h1v1h-1zM157,866h1v1h-1zM159,866h1v1h-1zM398,866h5v1h-5zM407,866h2v1h-2zM481,866h2v1h-2zM490,866h3v1h-3zM495,866h1v1h-1zM1132,866h1v1h-1zM1164,866h2v1h-2zM1168,866h2v1h-2zM1182,866h1v1h-1zM1228,866h2v1h-2zM158,867h1v1h-1zM409,867h2v1h-2zM479,867h2v1h-2zM493,867h2v1h-2zM1132,867h1v1h-1zM1162,867h2v1h-2zM1170,867h3v1h-3zM1178,867h5v1h-5zM1230,867h1v1h-1zM1269,867h2v1h-2zM411,868h2v1h-2zM478,868h1v1h-1zM1133,868h1v1h-1zM1161,868h1v1h-1zM1173,868h5v1h-5zM1231,868h1v1h-1zM1247,868h2v1h-2zM1267,868h2v1h-2zM1271,868h1v1h-1zM413,869h2v1h-2zM477,869h1v1h-1zM1133,869h1v1h-1zM1140,869h5v1h-5zM1159,869h2v1h-2zM1232,869h1v1h-1zM1246,869h1v1h-1zM1249,869h4v1h-4zM1265,869h2v1h-2zM1272,869h2v1h-2zM415,870h1v1h-1zM477,870h1v1h-1zM1134,870h1v1h-1zM1136,870h4v1h-4zM1145,870h4v1h-4zM1155,870h4v1h-4zM1233,870h1v1h-1zM1245,870h1v1h-1zM1253,870h5v1h-5zM1263,870h2v1h-2zM1274,870h1v1h-1zM416,871h1v1h-1zM476,871h1v1h-1zM1134,871h2v1h-2zM1149,871h6v1h-6zM1234,871h1v1h-1zM1244,871h1v1h-1zM1258,871h5v1h-5zM1275,871h1v1h-1zM417,872h1v1h-1zM475,872h1v1h-1zM1234,872h1v1h-1zM1242,872h2v1h-2zM1276,872h2v1h-2zM418,873h1v1h-1zM474,873h1v1h-1zM1235,873h1v1h-1zM1241,873h1v1h-1zM1278,873h14v1h-14zM1297,873h21v1h-21zM418,874h1v1h-1zM473,874h1v1h-1zM1236,874h1v1h-1zM1240,874h1v1h-1zM1292,874h5v1h-5zM419,875h1v1h-1zM473,875h1v1h-1zM1237,875h1v1h-1zM1239,875h1v1h-1zM420,876h1v1h-1zM472,876h1v1h-1zM1238,876h1v1h-1zM421,877h1v1h-1zM471,877h1v1h-1zM422,878h1v1h-1zM471,878h1v1h-1zM423,879h1v1h-1zM470,879h1v1h-1zM424,880h1v1h-1zM470,880h1v1h-1zM425,881h1v1h-1zM469,881h1v1h-1zM426,882h2v1h-2zM469,882h1v1h-1zM428,883h1v1h-1zM469,883h1v1h-1zM429,884h1v1h-1zM442,884h5v1h-5zM468,884h1v1h-1zM430,885h12v1h-12zM447,885h3v1h-3zM468,885h1v1h-1zM450,886h3v1h-3zM467,886h1v1h-1zM453,887h2v1h-2zM467,887h1v1h-1zM455,888h1v1h-1zM467,888h1v1h-1zM455,889h1v1h-1zM466,889h1v1h-1zM456,890h1v1h-1zM466,890h1v1h-1zM456,891h1v1h-1zM466,891h1v1h-1zM457,892h1v1h-1zM465,892h1v1h-1zM458,893h1v1h-1zM465,893h1v1h-1zM458,894h1v1h-1zM464,894h1v1h-1zM459,895h1v1h-1zM464,895h1v1h-1zM460,896h1v1h-1zM464,896h1v1h-1zM460,897h1v1h-1zM463,897h1v1h-1zM461,898h1v1h-1zM463,898h1v1h-1zM461,899h2v1h-2zM462,900h1v1h-1z" fill="#1e90ff" shape-rendering="crispEdges"/>
<text x="2.2" y="783.3" font-size="10" fill="#000" text-anchor="start" font-weight="normal" textLength="68" lengthAdjust="spacingAndGlyphs" >RSI(14) 36.5939</text>
<text x="1630.5" y="782.3" font-size="10" fill="#000" text-anchor="start" font-weight="normal" textLength="15" lengthAdjust="spacingAndGlyphs" >100</text>
<text x="1630.5" y="808.3" font-size="10" fill="#000" text-anchor="start" font-weight="normal" textLength="10" lengthAdjust="spacingAndGlyphs" >80</text>
<text x="1630.5" y="855.2" font-size="10" fill="#000" text-anchor="start" font-weight="normal" textLength="10" lengthAdjust="spacingAndGlyphs" >50</text>
<text x="1630.5" y="911.3" font-size="10" fill="#000" text-anchor="start" font-weight="normal" textLength="10" lengthAdjust="spacingAndGlyphs" >15</text>
<text x="1630.5" y="928.5" font-size="10" fill="#000" text-anchor="start" font-weight="normal" textLength="5" lengthAdjust="spacingAndGlyphs" >0</text>
<g shape-rendering="crispEdges">
<rect x="62" y="932" width="1" height="3" fill="#000" />
<rect x="126" y="932" width="1" height="3" fill="#000" />
<rect x="190" y="932" width="1" height="3" fill="#000" />
<rect x="254" y="932" width="1" height="3" fill="#000" />
<rect x="318" y="932" width="1" height="3" fill="#000" />
<rect x="382" y="932" width="1" height="3" fill="#000" />
<rect x="446" y="932" width="1" height="3" fill="#000" />
<rect x="510" y="932" width="1" height="3" fill="#000" />
<rect x="574" y="932" width="1" height="3" fill="#000" />
<rect x="638" y="932" width="1" height="3" fill="#000" />
<rect x="702" y="932" width="1" height="3" fill="#000" />
<rect x="766" y="932" width="1" height="3" fill="#000" />
<rect x="830" y="932" width="1" height="3" fill="#000" />
<rect x="894" y="932" width="1" height="3" fill="#000" />
<rect x="958" y="932" width="1" height="3" fill="#000" />
<rect x="1022" y="932" width="1" height="3" fill="#000" />
<rect x="1086" y="932" width="1" height="3" fill="#000" />
<rect x="1150" y="932" width="1" height="3" fill="#000" />
<rect x="1214" y="932" width="1" height="3" fill="#000" />
<rect x="1278" y="932" width="1" height="3" fill="#000" />
</g>
<text x="-3" y="944.9" font-size="10" fill="#000" text-anchor="start" font-weight="normal" textLength="52.8" lengthAdjust="spacingAndGlyphs" >20 Aug 2019</text>
<text x="61" y="944.9" font-size="10" fill="#000" text-anchor="start" font-weight="normal" textLength="55.8" lengthAdjust="spacingAndGlyphs" >21 Aug 20:00</text>
<text x="125" y="944.9" font-size="10" fill="#000" text-anchor="start" font-weight="normal" textLength="55.8" lengthAdjust="spacingAndGlyphs" >23 Aug 04:00</text>
<text x="189" y="944.9" font-size="10" fill="#000" text-anchor="start" font-weight="normal" textLength="55.8" lengthAdjust="spacingAndGlyphs" >26 Aug 12:00</text>
<text x="253" y="944.9" font-size="10" fill="#000" text-anchor="start" font-weight="normal" textLength="55.8" lengthAdjust="spacingAndGlyphs" >27 Aug 20:00</text>
<text x="317" y="944.9" font-size="10" fill="#000" text-anchor="start" font-weight="normal" textLength="55.8" lengthAdjust="spacingAndGlyphs" >29 Aug 04:00</text>
<text x="381" y="944.9" font-size="10" fill="#000" text-anchor="start" font-weight="normal" textLength="55.8" lengthAdjust="spacingAndGlyphs" >30 Aug 12:00</text>
<text x="445" y="944.9" font-size="10" fill="#000" text-anchor="start" font-weight="normal" textLength="49.9" lengthAdjust="spacingAndGlyphs" >2 Sep 20:00</text>
<text x="509" y="944.9" font-size="10" fill="#000" text-anchor="start" font-weight="normal" textLength="49.9" lengthAdjust="spacingAndGlyphs" >4 Sep 04:00</text>
<text x="573" y="944.9" font-size="10" fill="#000" text-anchor="start" font-weight="normal" textLength="49.9" lengthAdjust="spacingAndGlyphs" >5 Sep 12:00</text>
<text x="637" y="944.9" font-size="10" fill="#000" text-anchor="start" font-weight="normal" textLength="49.9" lengthAdjust="spacingAndGlyphs" >8 Sep 23:00</text>
<text x="701" y="944.9" font-size="10" fill="#000" text-anchor="start" font-weight="normal" textLength="55.8" lengthAdjust="spacingAndGlyphs" >10 Sep 04:00</text>
<text x="765" y="944.9" font-size="10" fill="#000" text-anchor="start" font-weight="normal" textLength="55.8" lengthAdjust="spacingAndGlyphs" >11 Sep 12:00</text>
<text x="829" y="944.9" font-size="10" fill="#000" text-anchor="start" font-weight="normal" textLength="55.8" lengthAdjust="spacingAndGlyphs" >12 Sep 20:00</text>
<text x="893" y="944.9" font-size="10" fill="#000" text-anchor="start" font-weight="normal" textLength="55.8" lengthAdjust="spacingAndGlyphs" >16 Sep 04:00</text>
<text x="957" y="944.9" font-size="10" fill="#000" text-anchor="start" font-weight="normal" textLength="55.8" lengthAdjust="spacingAndGlyphs" >17 Sep 12:00</text>
<text x="1021" y="944.9" font-size="10" fill="#000" text-anchor="start" font-weight="normal" textLength="55.8" lengthAdjust="spacingAndGlyphs" >18 Sep 20:00</text>
<text x="1085" y="944.9" font-size="10" fill="#000" text-anchor="start" font-weight="normal" textLength="55.8" lengthAdjust="spacingAndGlyphs" >20 Sep 04:00</text>
<text x="1149" y="944.9" font-size="10" fill="#000" text-anchor="start" font-weight="normal" textLength="55.8" lengthAdjust="spacingAndGlyphs" >23 Sep 12:00</text>
<text x="1213" y="944.9" font-size="10" fill="#000" text-anchor="start" font-weight="normal" textLength="55.8" lengthAdjust="spacingAndGlyphs" >24 Sep 20:00</text>
<text x="1277" y="944.9" font-size="10" fill="#000" text-anchor="start" font-weight="normal" textLength="55.8" lengthAdjust="spacingAndGlyphs" >26 Sep 04:00</text>
<path d="M1,42.3 L8,42.3 L4.5,38.7 Z" fill="#000"/>
<text x="13.2" y="42.6" font-size="10" fill="#000" text-anchor="start" font-weight="normal" textLength="199.8" lengthAdjust="spacingAndGlyphs" >GBPJPY-,H4  132.883 132.910 132.881 132.896</text>
<g shape-rendering="crispEdges">
<rect x="1" y="51" width="52" height="25" fill="#1414c8" />
<rect x="2" y="52" width="50" height="24" fill="url(#gSellTop)" />
<rect x="1" y="75" width="109" height="40" fill="#1010b8" />
<rect x="2" y="76" width="107" height="38" fill="url(#gSellBot)" />
<rect x="2" y="75" width="50" height="1" fill="#3a3ae6" />
<rect x="5" y="75" width="44" height="1" fill="#6e6eee" />
<rect x="168" y="51" width="52" height="25" fill="#1414c8" />
<rect x="169" y="52" width="50" height="24" fill="url(#gSellTop)" />
<rect x="112" y="75" width="108" height="40" fill="#1010b8" />
<rect x="113" y="76" width="106" height="38" fill="url(#gSellBot)" />
<rect x="169" y="75" width="50" height="1" fill="#3a3ae6" />
<rect x="172" y="75" width="44" height="1" fill="#6e6eee" />
<rect x="55" y="51" width="111" height="22" fill="#ababab" />
<rect x="56" y="52" width="109" height="20" fill="#fff" />
<rect x="56" y="52" width="20" height="20" fill="#e9e9e9" />
<rect x="76" y="52" width="1" height="20" fill="#ababab" />
<rect x="145" y="52" width="20" height="20" fill="#e9e9e9" />
<rect x="144" y="52" width="1" height="20" fill="#ababab" />
</g>
<path d="M62.6,60 L68.6,60 L65.6,63.2 Z" fill="#000"/>
<path d="M151.6,63.2 L157.6,63.2 L154.6,60 Z" fill="#000"/>
<text x="140.8" y="66.2" font-size="13" fill="#000" text-anchor="end" font-weight="normal" textLength="23.2" lengthAdjust="spacingAndGlyphs" >1.00</text>
<text x="13.6" y="67" font-size="12" fill="#fff" text-anchor="start" font-weight="normal" textLength="25.3" lengthAdjust="spacingAndGlyphs" >SELL</text>
<text x="181.5" y="67" font-size="12" fill="#fff" text-anchor="start" font-weight="normal" textLength="23" lengthAdjust="spacingAndGlyphs" >BUY</text>
<text x="24.9" y="105.9" font-size="12" fill="#fff" text-anchor="start" font-weight="bold" textLength="20.2" lengthAdjust="spacingAndGlyphs" >132</text>
<text x="49" y="106.8" font-size="36" fill="#fff" text-anchor="start" font-weight="normal" textLength="33.8" lengthAdjust="spacingAndGlyphs" >89</text>
<text x="88.6" y="90.1" font-size="13" fill="#fff" text-anchor="start" font-weight="bold" textLength="6.6" lengthAdjust="spacingAndGlyphs" >6</text>
<text x="134.9" y="105.9" font-size="12" fill="#fff" text-anchor="start" font-weight="bold" textLength="20.2" lengthAdjust="spacingAndGlyphs" >132</text>
<text x="159.6" y="106.8" font-size="36" fill="#fff" text-anchor="start" font-weight="normal" textLength="33.8" lengthAdjust="spacingAndGlyphs" >93</text>
<text x="199.2" y="90.1" font-size="13" fill="#fff" text-anchor="start" font-weight="bold" textLength="6.6" lengthAdjust="spacingAndGlyphs" >9</text>
<g id="toolbar">
<g shape-rendering="crispEdges">
<rect x="0" y="0" width="1673" height="29" fill="#f0f0f0"/>
<rect x="0" y="0" width="1673" height="1" fill="#a0a0a0"/>
<rect x="0" y="1" width="1673" height="1" fill="#ffffff"/>
<rect x="0" y="26" width="1673" height="1" fill="#e6e6e6"/>
<rect x="0" y="27" width="1673" height="1" fill="#b4b4b4"/>
<rect x="0" y="28" width="1673" height="1" fill="#6c6c6c"/>
<rect x="0" y="29" width="1673" height="2" fill="#ffffff"/>
<rect x="318" y="4" width="1" height="21" fill="#9c9c9c"/>
<rect x="408" y="4" width="1" height="21" fill="#9c9c9c"/>
<rect x="470" y="4" width="1" height="21" fill="#9c9c9c"/>
<rect x="658" y="4" width="1" height="21" fill="#9c9c9c"/>
<rect x="223" y="2" width="1" height="24" fill="#a0a0a0"/>
<rect x="224" y="2" width="1" height="24" fill="#ffffff"/>
<rect x="591" y="2" width="1" height="24" fill="#a0a0a0"/>
<rect x="592" y="2" width="1" height="24" fill="#ffffff"/>
<rect x="897" y="2" width="1" height="24" fill="#a0a0a0"/>
<rect x="898" y="2" width="1" height="24" fill="#ffffff"/>
<rect x="1158" y="2" width="1" height="24" fill="#a0a0a0"/>
<rect x="1159" y="2" width="1" height="24" fill="#ffffff"/>
<rect x="227" y="5" width="3" height="1" fill="#a8a8a8"/>
<rect x="227" y="7" width="3" height="1" fill="#a8a8a8"/>
<rect x="227" y="9" width="3" height="1" fill="#a8a8a8"/>
<rect x="227" y="11" width="3" height="1" fill="#a8a8a8"/>
<rect x="227" y="13" width="3" height="1" fill="#a8a8a8"/>
<rect x="227" y="15" width="3" height="1" fill="#a8a8a8"/>
<rect x="227" y="17" width="3" height="1" fill="#a8a8a8"/>
<rect x="227" y="19" width="3" height="1" fill="#a8a8a8"/>
<rect x="227" y="21" width="3" height="1" fill="#a8a8a8"/>
<rect x="227" y="23" width="3" height="1" fill="#a8a8a8"/>
<rect x="595" y="5" width="3" height="1" fill="#a8a8a8"/>
<rect x="595" y="7" width="3" height="1" fill="#a8a8a8"/>
<rect x="595" y="9" width="3" height="1" fill="#a8a8a8"/>
<rect x="595" y="11" width="3" height="1" fill="#a8a8a8"/>
<rect x="595" y="13" width="3" height="1" fill="#a8a8a8"/>
<rect x="595" y="15" width="3" height="1" fill="#a8a8a8"/>
<rect x="595" y="17" width="3" height="1" fill="#a8a8a8"/>
<rect x="595" y="19" width="3" height="1" fill="#a8a8a8"/>
<rect x="595" y="21" width="3" height="1" fill="#a8a8a8"/>
<rect x="595" y="23" width="3" height="1" fill="#a8a8a8"/>
<rect x="901" y="5" width="3" height="1" fill="#a8a8a8"/>
<rect x="901" y="7" width="3" height="1" fill="#a8a8a8"/>
<rect x="901" y="9" width="3" height="1" fill="#a8a8a8"/>
<rect x="901" y="11" width="3" height="1" fill="#a8a8a8"/>
<rect x="901" y="13" width="3" height="1" fill="#a8a8a8"/>
<rect x="901" y="15" width="3" height="1" fill="#a8a8a8"/>
<rect x="901" y="17" width="3" height="1" fill="#a8a8a8"/>
<rect x="901" y="19" width="3" height="1" fill="#a8a8a8"/>
<rect x="901" y="21" width="3" height="1" fill="#a8a8a8"/>
<rect x="901" y="23" width="3" height="1" fill="#a8a8a8"/>
<rect x="261" y="3" width="25" height="23" fill="#f9f9f9"/>
<rect x="261" y="3" width="25" height="1" fill="#a0a0a0"/>
<rect x="261" y="3" width="1" height="23" fill="#a0a0a0"/>
<rect x="261" y="25" width="25" height="1" fill="#ffffff"/>
<rect x="285" y="3" width="1" height="23" fill="#ffffff"/>
<rect x="413" y="3" width="25" height="23" fill="#f9f9f9"/>
<rect x="413" y="3" width="25" height="1" fill="#a0a0a0"/>
<rect x="413" y="3" width="1" height="23" fill="#a0a0a0"/>
<rect x="413" y="25" width="25" height="1" fill="#ffffff"/>
<rect x="437" y="3" width="1" height="23" fill="#ffffff"/>
<rect x="441" y="3" width="25" height="23" fill="#f9f9f9"/>
<rect x="441" y="3" width="25" height="1" fill="#a0a0a0"/>
<rect x="441" y="3" width="1" height="23" fill="#a0a0a0"/>
<rect x="441" y="25" width="25" height="1" fill="#ffffff"/>
<rect x="465" y="3" width="1" height="23" fill="#ffffff"/>
<rect x="601" y="3" width="25" height="23" fill="#f9f9f9"/>
<rect x="601" y="3" width="25" height="1" fill="#a0a0a0"/>
<rect x="601" y="3" width="1" height="23" fill="#a0a0a0"/>
<rect x="601" y="25" width="25" height="1" fill="#ffffff"/>
<rect x="625" y="3" width="1" height="23" fill="#ffffff"/>
<rect x="1047" y="3" width="25" height="23" fill="#f9f9f9"/>
<rect x="1047" y="3" width="25" height="1" fill="#a0a0a0"/>
<rect x="1047" y="3" width="1" height="23" fill="#a0a0a0"/>
<rect x="1047" y="25" width="25" height="1" fill="#ffffff"/>
<rect x="1071" y="3" width="1" height="23" fill="#ffffff"/>
</g>
<path d="M-1,7.5 L5.5,7.5 L8.5,10.5 L8.5,20 L-1,20 Z" fill="#fff" stroke="#8a8a8a" stroke-width="1"/>
<path d="M5.5,7.5 L5.5,10.5 L8.5,10.5" fill="#e0e0e0" stroke="#8a8a8a" stroke-width="0.8"/>
<path d="M0,11.5H4.5M0,13.5H4.5M0,15.5H3" stroke="#909090" stroke-width="1"/>
<path d="M5.2,13.2h4v3.7h3.7v4h-3.7v3.7h-4v-3.7h-3.7v-4h3.7z" fill="url(#gPlus)" stroke="#0a7a0a" stroke-width="0.9"/>
<text x="15.4" y="18.2" font-size="12.2" fill="#000" text-anchor="start" style="font-family:'Liberation Sans','Noto Sans CJK SC',sans-serif;">新订单</text>
<text x="167.2" y="18.4" font-size="12.3" fill="#000" text-anchor="start" style="font-family:'Liberation Sans','Noto Sans CJK SC',sans-serif;">自动交易</text>
<path d="M70,8 L79.7,16 L79.7,17.6 L72,23 L63.9,17.6 L63.9,16 Z" fill="#a87408"/>
<path d="M70,8 L79.7,16 L72,21.4 L63.9,16 Z" fill="url(#gGold)"/>
<path d="M63.9,16.6 L72,22 L79.7,16.6" fill="none" stroke="#f4e4a0" stroke-width="0.8"/>
<path d="M94.5,8.5 L98,7 L105.5,7.5 L105.5,15.5 L94.5,15.5 Z" fill="#2a8ae8" stroke="#1a5fc0" stroke-width="0.8"/>
<path d="M97.2,8.2 L97.2,15.5" stroke="#bfe0ff" stroke-width="1.2"/>
<rect x="98.8" y="10.2" width="5.4" height="2.2" fill="#d8ecff"/>
<path d="M95,22.5 a3.4,3.4 0 0 1 0.2,-6.6 a4.2,4.2 0 0 1 7.4,-0.6 a3.6,3.6 0 0 1 2.6,6.9 Z" fill="#eef4fb" stroke="#5a88c8" stroke-width="1"/>
<circle cx="128.1" cy="14.7" r="7.4" fill="#e3ecf3" stroke="#8fb0dc" stroke-width="1.1"/>
<path d="M128.1,14.7 L128.1,22.2 A7.5,7.5 0 0 0 135.4,13.2 Z" fill="#6fbf6f" opacity="0.85"/>
<circle cx="128.1" cy="14.7" r="5" fill="none" stroke="#5a88d8" stroke-width="1"/>
<circle cx="128.1" cy="14.3" r="1.5" fill="#2a55d0"/>
<path d="M128.6,15 L128.6,22.4" stroke="#18a018" stroke-width="1.3"/>
<path d="M148.6,14 L162.6,13.4 L161.5,17 L155.5,22.8 L152.4,21.5 Z" fill="url(#gFace)" stroke="#c89818" stroke-width="0.6"/>
<path d="M147.2,12.6 C147.5,10.6 150,10.4 151.2,10.2 C151.6,7.6 153.6,7 155,7 C156.6,7 158.4,7.8 158.8,10 C160.4,9.6 162.8,9.8 162.9,11 C162.6,13.4 158.2,14.6 154.6,14.4 C151.2,14.4 147.4,13.8 147.2,12.6 Z" fill="url(#gHat)" stroke="#2a6cb0" stroke-width="0.6"/>
<circle cx="159.5" cy="18.7" r="4.1" fill="#e8200c" stroke="#b01000" stroke-width="0.6"/>
<rect x="157.9" y="17.1" width="3.2" height="3.2" fill="#fff"/>
<path d="M241.4,9.4 V22.8 M238.8,20.6 H252.2" stroke="#505050" stroke-width="1.1" fill="none"/>
<path d="M239.4,11.6 L241.4,8.6 L243.4,11.6 Z M250.2,18.6 L253.2,20.6 L250.2,22.6 Z" fill="#505050"/>
<path d="M247.9,11.4 V18.6 M245.4,17.8 H247.9 M247.9,12 H250.4" stroke="#1f9f1f" stroke-width="1.4" fill="none"/>
<path d="M269.5,9.4 V22.8 M266.9,20.6 H280.3" stroke="#505050" stroke-width="1.1" fill="none"/>
<path d="M267.5,11.6 L269.5,8.6 L271.5,11.6 Z M278.3,18.6 L281.3,20.6 L278.3,22.6 Z" fill="#505050"/>
<path d="M275.5,7.2 V18.6" stroke="#0a7a0a" stroke-width="1.1"/>
<rect x="273.4" y="9.4" width="4.3" height="7.2" fill="#2fd02f" stroke="#0a8a0a" stroke-width="0.8"/>
<path d="M297.6,9.4 V22.8 M295,20.6 H308.4" stroke="#505050" stroke-width="1.1" fill="none"/>
<path d="M295.6,11.6 L297.6,8.6 L299.6,11.6 Z M306.4,18.6 L309.4,20.6 L306.4,22.6 Z" fill="#505050"/>
<path d="M296.4,17.8 C298.6,15 300.4,12.2 302.4,12 C304.4,12.4 306,15 307.8,16.2" stroke="#1f9f1f" stroke-width="1.3" fill="none"/>
<path d="M337,17.4 L342,22" stroke="#b89018" stroke-width="3.2" stroke-linecap="round"/>
<path d="M337.2,17.2 L341.8,21.4" stroke="#ecd060" stroke-width="1.4" stroke-linecap="round"/>
<circle cx="333" cy="13.2" r="5.6" fill="#d4e6f8" stroke="#3f86d8" stroke-width="1.3"/>
<path d="M329.8,13.2 H336.2 M333,10 V16.4" stroke="#2f70c0" stroke-width="1.7"/>
<path d="M365.1,17.4 L370.1,22" stroke="#b89018" stroke-width="3.2" stroke-linecap="round"/>
<path d="M365.3,17.2 L369.9,21.4" stroke="#ecd060" stroke-width="1.4" stroke-linecap="round"/>
<circle cx="361.1" cy="13.2" r="5.6" fill="#d4e6f8" stroke="#3f86d8" stroke-width="1.3"/>
<path d="M357.9,13.2 H364.3" stroke="#2f70c0" stroke-width="1.7"/>
<rect x="383" y="7.2" width="7.6" height="7.4" fill="#3faa2f"/>
<rect x="383" y="7.2" width="7.6" height="2" fill="#2a8a1f"/>
<rect x="384.2" y="10.2" width="5.2" height="3.2" fill="#fff"/>
<rect x="385" y="11.8" width="3.6" height="0.9" fill="#3faa2f"/>
<rect x="391.4" y="7.2" width="7.6" height="7.4" fill="#2f5fd8"/>
<rect x="391.4" y="7.2" width="7.6" height="2" fill="#1f3fb0"/>
<rect x="392.59999999999997" y="10.2" width="5.2" height="3.2" fill="#fff"/>
<rect x="393.4" y="11.8" width="3.6" height="0.9" fill="#2f5fd8"/>
<rect x="383" y="15.3" width="7.6" height="7.4" fill="#2f5fd8"/>
<rect x="383" y="15.3" width="7.6" height="2" fill="#1f3fb0"/>
<rect x="384.2" y="18.3" width="5.2" height="3.2" fill="#fff"/>
<rect x="385" y="19.9" width="3.6" height="0.9" fill="#2f5fd8"/>
<rect x="391.4" y="15.3" width="7.6" height="7.4" fill="#3faa2f"/>
<rect x="391.4" y="15.3" width="7.6" height="2" fill="#2a8a1f"/>
<rect x="392.59999999999997" y="18.3" width="5.2" height="3.2" fill="#fff"/>
<rect x="393.4" y="19.9" width="3.6" height="0.9" fill="#3faa2f"/>
<path d="M421.4,9.4 V22.8 M418.8,20.6 H432.2" stroke="#505050" stroke-width="1.1" fill="none"/>
<path d="M419.4,11.6 L421.4,8.6 L423.4,11.6 Z M430.2,18.6 L433.2,20.6 L430.2,22.6 Z" fill="#505050"/>
<path d="M426,11.4 V18 L430.2,14.7 Z" fill="#f4fff4" stroke="#1f9f1f" stroke-width="1.3" stroke-linejoin="round"/>
<path d="M449.4,9.4 V22.8 M446.8,20.6 H460.2" stroke="#505050" stroke-width="1.1" fill="none"/>
<path d="M447.4,11.6 L449.4,8.6 L451.4,11.6 Z M458.2,18.6 L461.2,20.6 L458.2,22.6 Z" fill="#505050"/>
<path d="M455.6,9 V19.2" stroke="#1f6fb8" stroke-width="1.3"/>
<path d="M456.6,14.7 L460.2,12.4 L460.2,13.9 L461.4,13.9 L461.4,15.5 L460.2,15.5 L460.2,17 Z" fill="#d83c0c"/>
<path d="M480,7.5 L488.4,7.5 L491.6,10.6 L491.6,20.2 L480,20.2 Z" fill="#fff" stroke="#8a8a8a" stroke-width="1"/>
<path d="M488.4,7.5 L488.4,10.6 L491.6,10.6" fill="#e4e4e4" stroke="#8a8a8a" stroke-width="0.8"/>
<path d="M485.6,10 C484,9.6 483.4,10.6 483.4,11.8 V17.2 M482,13 H485" stroke="#404040" stroke-width="1.1" fill="none"/>
<path d="M488.1,13.2h4v3.7h3.7v4h-3.7v3.7h-4v-3.7h-3.7v-4h3.7z" fill="url(#gPlus)" stroke="#0a7a0a" stroke-width="0.9"/>
<path d="M501.7,13.6 L507.3,13.6 L504.5,16.8 Z" fill="#000"/>
<path d="M540.6,13.6 L546.2,13.6 L543.4,16.8 Z" fill="#000"/>
<path d="M579.4,13.6 L585,13.6 L582.2,16.8 Z" fill="#000"/>
<path d="M885.6,13.6 L891.2,13.6 L888.4,16.8 Z" fill="#000"/>
<circle cx="526" cy="15" r="6.8" fill="#fdfdfd" stroke="url(#gRing)" stroke-width="2.5"/>
<circle cx="526" cy="15" r="8.1" fill="none" stroke="#0c3f94" stroke-width="0.5" opacity="0.7"/>
<path d="M526,10.4v1M526,18.6v1M521.4,15h1M529.6,15h1M522.8,11.8l.6,.6M529.2,11.8l-.6,.6M522.8,18.2l.6,-.6M529.2,18.2l-.6,-.6" stroke="#b8c4d4" stroke-width="0.7"/>
<path d="M525.6,11.2 V15.4 H528.9" stroke="#3c3c3c" stroke-width="1.3" fill="none"/>
<rect x="557.7" y="8.6" width="14.6" height="13" fill="#fff" stroke="#3a6fc8" stroke-width="1.1"/>
<rect x="557.2" y="8.1" width="15.6" height="2.6" fill="#3f7fdc"/>
<rect x="558.2" y="8.6" width="13.6" height="0.8" fill="#a8c8f4"/>
<path d="M558.2,15.9 H571.8" stroke="#5a8ad4" stroke-width="0.9"/>
<path d="M559.2,14.6 L561,14.4 L562.6,13 L564,12.6 L565.4,13.6 L567.2,13.4 L568.8,12.4 L570.8,12.6" stroke="#a01c04" stroke-width="1.5" fill="none"/>
<path d="M559.4,19.6 L561.2,19.4 L562.8,18.4 L564.4,19.2 L566,18.2 L567.4,17.6 L568.8,18.6 L570.6,19.8" stroke="#128a12" stroke-width="1.5" fill="none"/>
<path d="M609.1,8 L609.1,19.9 L611.7,17.6 L613.8,22.2 L615.8,21.3 L613.7,16.8 L617.4,16.4 Z" fill="#454545"/>
<path d="M641.4,7.8 V13.8 M641.4,16.8 V22.8 M634,15.3 H639.9 M642.9,15.3 H649" stroke="#505050" stroke-width="1.1"/>
<rect x="640.9" y="14.8" width="1" height="1" fill="#505050"/>
<path d="M675.5,9 V22.2" stroke="#505050" stroke-width="1.2"/>
<path d="M698.2,15.3 H710" stroke="#505050" stroke-width="1.2"/>
<path d="M725.7,22.1 L738.2,9.6" stroke="#505050" stroke-width="1.1"/>
<path d="M752,19 L764.6,8.4 M754.6,22.2 L766.4,12.2" stroke="#505050" stroke-width="1.1"/>
<path d="M755,16.6 L757.4,20 M757.6,14.4 L760,17.8 M760.2,12.2 L762.6,15.6 M762.8,10 L765.2,13.4 M758.6,17 L758.6,11.4 M761.8,15 L761.8,8.8" stroke="#505050" stroke-width="0.8"/>
<text x="762.6" y="24.2" font-size="7" font-weight="bold" fill="#404040">E</text>
<path d="M780.8,8.4 H793.8" stroke="#505050" stroke-width="1" stroke-dasharray="1 1"/>
<path d="M780.8,11.6 H793.8" stroke="#505050" stroke-width="1" stroke-dasharray="1 1"/>
<path d="M780.8,15 H793.8" stroke="#505050" stroke-width="1" stroke-dasharray="1 1"/>
<path d="M780.8,19.1 H790.3" stroke="#505050" stroke-width="1" stroke-dasharray="1 1"/>
<text x="790.8" y="24.2" font-size="7" font-weight="bold" fill="#404040">F</text>
<text x="811.4" y="19.8" font-size="12.4" font-weight="bold" fill="#555" textLength="8.6" lengthAdjust="spacingAndGlyphs">A</text>
<rect x="837.9" y="8.8" width="11.4" height="13.2" fill="none" stroke="#505050" stroke-width="1" stroke-dasharray="1 1"/>
<text x="840.2" y="20" font-size="11" font-weight="bold" fill="#555" textLength="7" lengthAdjust="spacingAndGlyphs">T</text>
<path d="M868.3,9 L871.8,12.4 L868.3,13.8 L864.9,12.4 Z" fill="#404040"/>
<path d="M875.5,22.2 L872,18.8 L875.5,17.4 L879,18.8 Z" fill="#404040"/>
<path d="M866.6,15.4 L869.2,18 L874.6,12.4" stroke="#404040" stroke-width="1.5" fill="none"/>
<text x="912.6" y="18.8" font-size="10.2" fill="#505050" textLength="12.8" lengthAdjust="spacingAndGlyphs">M1</text>
<text x="940.7" y="18.8" font-size="10.2" fill="#505050" textLength="12.9" lengthAdjust="spacingAndGlyphs">M5</text>
<text x="966.4" y="18.8" font-size="10.2" fill="#505050" textLength="17.8" lengthAdjust="spacingAndGlyphs">M15</text>
<text x="994.6" y="18.8" font-size="10.2" fill="#505050" textLength="17.9" lengthAdjust="spacingAndGlyphs">M30</text>
<text x="1025.5" y="18.8" font-size="10.2" fill="#505050" textLength="12.1" lengthAdjust="spacingAndGlyphs">H1</text>
<text x="1052.3" y="18.8" font-size="10.2" fill="#505050" textLength="13.1" lengthAdjust="spacingAndGlyphs">H4</text>
<text x="1081.6" y="18.8" font-size="10.2" fill="#505050" textLength="11.7" lengthAdjust="spacingAndGlyphs">D1</text>
<text x="1109.2" y="18.8" font-size="10.2" fill="#505050" textLength="14.2" lengthAdjust="spacingAndGlyphs">W1</text>
<text x="1135.6" y="18.8" font-size="10.2" fill="#505050" textLength="14.6" lengthAdjust="spacingAndGlyphs">MN</text>
<path d="M1625.8,15.3 L1621,19.9" stroke="#2556d8" stroke-width="2.6" stroke-linecap="round"/>
<circle cx="1628.9" cy="12.3" r="3.6" fill="#f6f8ff" stroke="#2556d8" stroke-width="1.1"/>
<path d="M1658,15.6 C1654,14.6 1654.2,8 1661.2,7.6 C1668.6,7.6 1669,15 1664.6,16 L1665,18.6 L1662.4,16.4 Z" fill="#f4f4f6" stroke="#9a9a9a" stroke-width="0.8"/>
<path d="M1649.6,19.4 C1645.6,18.2 1646.4,12.6 1652.2,12.5 C1658.2,12.6 1658.6,18.4 1654.4,19.6 L1650.6,19.6 L1649.4,22 Z" fill="#f0f0f2" stroke="#9a9a9a" stroke-width="0.8"/>
</g>
</svg></body></html>
